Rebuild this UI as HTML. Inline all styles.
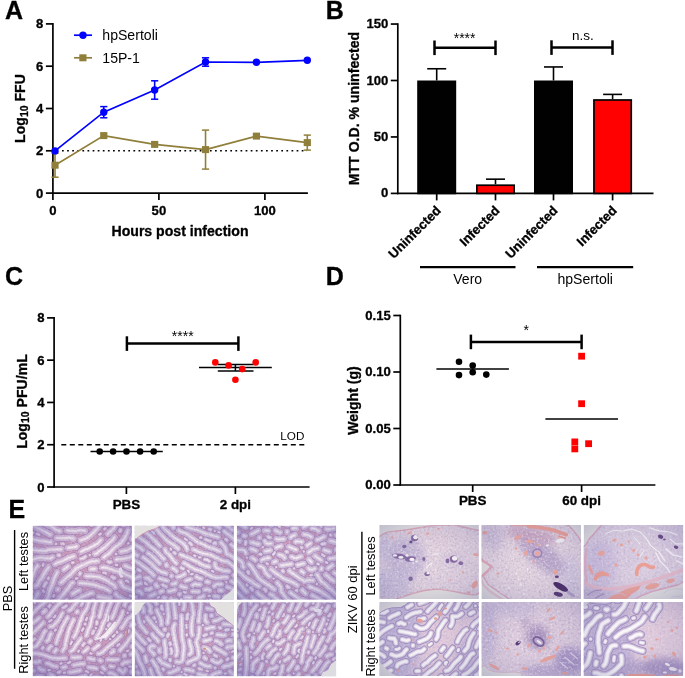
<!DOCTYPE html>
<html><head><meta charset="utf-8"><title>Figure</title>
<style>
html,body{margin:0;padding:0;background:#fff;}
body{width:685px;height:678px;overflow:hidden;}
svg{display:block;font-family:"Liberation Sans",sans-serif;}
</style></head><body>
<svg width="685" height="678" viewBox="0 0 685 678">
<rect width="685" height="678" fill="#fff"/>
<defs><clipPath id="tc"><rect width="99.2" height="74.1"/></clipPath><filter id="bl3" x="-20%" y="-20%" width="140%" height="140%"><feGaussianBlur stdDeviation="3.5"/></filter><filter id="bl05" x="-20%" y="-20%" width="140%" height="140%"><feGaussianBlur stdDeviation="0.5"/></filter><filter id="bl08" x="-20%" y="-20%" width="140%" height="140%"><feGaussianBlur stdDeviation="0.7"/></filter><radialGradient id="vR" cx="0.5" cy="0.48" r="0.72"><stop offset="0.25" stop-color="#62609a" stop-opacity="0.0"/><stop offset="0.65" stop-color="#62609a" stop-opacity="0.114"/><stop offset="1" stop-color="#62609a" stop-opacity="0.3"/></radialGradient><filter id="gp11" x="0" y="0" width="100%" height="100%" color-interpolation-filters="sRGB"><feTurbulence type="fractalNoise" baseFrequency="0.5" numOctaves="2" seed="21" result="n"/><feColorMatrix in="n" values="0 0 0 0 0.98  0 0 0 0 0.95  0 0 0 0 0.97  0.9 0 0 0 -0.450" result="a"/><feColorMatrix in="n" values="0 0 0 0 0.55  0 0 0 0 0.38  0 0 0 0 0.62  0 -0.45 0 0 0.225" result="b"/><feMerge><feMergeNode in="b"/><feMergeNode in="a"/></feMerge></filter><radialGradient id="v11" cx="0.55" cy="0.42" r="0.78"><stop offset="0.25" stop-color="#625aa6" stop-opacity="0.0"/><stop offset="0.65" stop-color="#625aa6" stop-opacity="0.198"/><stop offset="1" stop-color="#625aa6" stop-opacity="0.52"/></radialGradient><filter id="gp21" x="0" y="0" width="100%" height="100%" color-interpolation-filters="sRGB"><feTurbulence type="fractalNoise" baseFrequency="0.5" numOctaves="2" seed="22" result="n"/><feColorMatrix in="n" values="0 0 0 0 0.98  0 0 0 0 0.95  0 0 0 0 0.97  0.9 0 0 0 -0.450" result="a"/><feColorMatrix in="n" values="0 0 0 0 0.55  0 0 0 0 0.38  0 0 0 0 0.62  0 -0.45 0 0 0.225" result="b"/><feMerge><feMergeNode in="b"/><feMergeNode in="a"/></feMerge></filter><radialGradient id="v21" cx="0.55" cy="0.42" r="0.8"><stop offset="0.25" stop-color="#625aa6" stop-opacity="0.0"/><stop offset="0.65" stop-color="#625aa6" stop-opacity="0.198"/><stop offset="1" stop-color="#625aa6" stop-opacity="0.52"/></radialGradient><filter id="gp12" x="0" y="0" width="100%" height="100%" color-interpolation-filters="sRGB"><feTurbulence type="fractalNoise" baseFrequency="0.5" numOctaves="2" seed="23" result="n"/><feColorMatrix in="n" values="0 0 0 0 0.98  0 0 0 0 0.95  0 0 0 0 0.97  0.9 0 0 0 -0.450" result="a"/><feColorMatrix in="n" values="0 0 0 0 0.55  0 0 0 0 0.38  0 0 0 0 0.62  0 -0.45 0 0 0.225" result="b"/><feMerge><feMergeNode in="b"/><feMergeNode in="a"/></feMerge></filter><radialGradient id="v12" cx="0.55" cy="0.45" r="0.8"><stop offset="0.25" stop-color="#625aa6" stop-opacity="0.0"/><stop offset="0.65" stop-color="#625aa6" stop-opacity="0.198"/><stop offset="1" stop-color="#625aa6" stop-opacity="0.52"/></radialGradient><filter id="gp22" x="0" y="0" width="100%" height="100%" color-interpolation-filters="sRGB"><feTurbulence type="fractalNoise" baseFrequency="0.5" numOctaves="2" seed="24" result="n"/><feColorMatrix in="n" values="0 0 0 0 0.98  0 0 0 0 0.95  0 0 0 0 0.97  0.9 0 0 0 -0.450" result="a"/><feColorMatrix in="n" values="0 0 0 0 0.55  0 0 0 0 0.38  0 0 0 0 0.62  0 -0.45 0 0 0.225" result="b"/><feMerge><feMergeNode in="b"/><feMergeNode in="a"/></feMerge></filter><radialGradient id="v22" cx="0.55" cy="0.5" r="0.8"><stop offset="0.25" stop-color="#625aa6" stop-opacity="0.0"/><stop offset="0.65" stop-color="#625aa6" stop-opacity="0.198"/><stop offset="1" stop-color="#625aa6" stop-opacity="0.52"/></radialGradient><filter id="gp13" x="0" y="0" width="100%" height="100%" color-interpolation-filters="sRGB"><feTurbulence type="fractalNoise" baseFrequency="0.5" numOctaves="2" seed="25" result="n"/><feColorMatrix in="n" values="0 0 0 0 0.98  0 0 0 0 0.95  0 0 0 0 0.97  0.9 0 0 0 -0.450" result="a"/><feColorMatrix in="n" values="0 0 0 0 0.55  0 0 0 0 0.38  0 0 0 0 0.62  0 -0.45 0 0 0.225" result="b"/><feMerge><feMergeNode in="b"/><feMergeNode in="a"/></feMerge></filter><radialGradient id="v13" cx="0.55" cy="0.42" r="0.8"><stop offset="0.25" stop-color="#625aa6" stop-opacity="0.0"/><stop offset="0.65" stop-color="#625aa6" stop-opacity="0.198"/><stop offset="1" stop-color="#625aa6" stop-opacity="0.52"/></radialGradient><filter id="gp23" x="0" y="0" width="100%" height="100%" color-interpolation-filters="sRGB"><feTurbulence type="fractalNoise" baseFrequency="0.5" numOctaves="2" seed="26" result="n"/><feColorMatrix in="n" values="0 0 0 0 0.98  0 0 0 0 0.95  0 0 0 0 0.97  0.9 0 0 0 -0.450" result="a"/><feColorMatrix in="n" values="0 0 0 0 0.55  0 0 0 0 0.38  0 0 0 0 0.62  0 -0.45 0 0 0.225" result="b"/><feMerge><feMergeNode in="b"/><feMergeNode in="a"/></feMerge></filter><radialGradient id="v23" cx="0.55" cy="0.45" r="0.8"><stop offset="0.25" stop-color="#625aa6" stop-opacity="0.0"/><stop offset="0.65" stop-color="#625aa6" stop-opacity="0.198"/><stop offset="1" stop-color="#625aa6" stop-opacity="0.52"/></radialGradient><clipPath id="c11"><path d="M-1 12.5 L4 9 9 7 18 6 28 4.8 38 3 48 1.6 59 0 75 0 84 2.2 92 4 101 5.8 101 67 97 69.5 93.5 69.8 87 69.2 75 66.5 66 65 59 64.2 50 64.8 43.5 65.8 35 68 28 70.4 20 73 15 75 -1 75Z"/></clipPath><filter id="g11" x="0" y="0" width="100%" height="100%" color-interpolation-filters="sRGB"><feTurbulence type="fractalNoise" baseFrequency="0.45" numOctaves="2" seed="3" result="n"/><feColorMatrix in="n" values="0 0 0 0 0.98  0 0 0 0 0.96  0 0 0 0 0.98  1.5 0 0 0 -0.750" result="a"/><feColorMatrix in="n" values="0 0 0 0 0.5  0 0 0 0 0.42  0 0 0 0 0.68  0 -0.75 0 0 0.375" result="b"/><feMerge><feMergeNode in="b"/><feMergeNode in="a"/></feMerge></filter><filter id="g21" x="0" y="0" width="100%" height="100%" color-interpolation-filters="sRGB"><feTurbulence type="fractalNoise" baseFrequency="0.45" numOctaves="2" seed="9" result="n"/><feColorMatrix in="n" values="0 0 0 0 0.98  0 0 0 0 0.96  0 0 0 0 0.98  1.0 0 0 0 -0.500" result="a"/><feColorMatrix in="n" values="0 0 0 0 0.5  0 0 0 0 0.42  0 0 0 0 0.68  0 -0.5 0 0 0.250" result="b"/><feMerge><feMergeNode in="b"/><feMergeNode in="a"/></feMerge></filter><clipPath id="c12"><path d="M-1 -1 L85 -1 91 4.8 97 12.6 101 20 101 75 29 75 17.5 67.3 6.5 59.5 1.5 51 6 46.5 10.4 41.5 5 37.5 -1 34Z"/></clipPath><filter id="g12" x="0" y="0" width="100%" height="100%" color-interpolation-filters="sRGB"><feTurbulence type="fractalNoise" baseFrequency="0.45" numOctaves="2" seed="5" result="n"/><feColorMatrix in="n" values="0 0 0 0 0.98  0 0 0 0 0.96  0 0 0 0 0.98  1.5 0 0 0 -0.750" result="a"/><feColorMatrix in="n" values="0 0 0 0 0.5  0 0 0 0 0.42  0 0 0 0 0.68  0 -0.75 0 0 0.375" result="b"/><feMerge><feMergeNode in="b"/><feMergeNode in="a"/></feMerge></filter><filter id="g22" x="0" y="0" width="100%" height="100%" color-interpolation-filters="sRGB"><feTurbulence type="fractalNoise" baseFrequency="0.45" numOctaves="2" seed="11" result="n"/><feColorMatrix in="n" values="0 0 0 0 0.98  0 0 0 0 0.96  0 0 0 0 0.98  1.5 0 0 0 -0.750" result="a"/><feColorMatrix in="n" values="0 0 0 0 0.5  0 0 0 0 0.42  0 0 0 0 0.68  0 -0.75 0 0 0.375" result="b"/><feMerge><feMergeNode in="b"/><feMergeNode in="a"/></feMerge></filter><clipPath id="c13"><path d="M19.2 -1 L101 -1 101 56 94 60 82 63 68 66.5 58 70.5 50 75 -1 75 -1 22.3 2.3 20 5.5 14 10 9.3 14 4.5Z"/></clipPath><filter id="g13" x="0" y="0" width="100%" height="100%" color-interpolation-filters="sRGB"><feTurbulence type="fractalNoise" baseFrequency="0.45" numOctaves="2" seed="7" result="n"/><feColorMatrix in="n" values="0 0 0 0 0.98  0 0 0 0 0.96  0 0 0 0 0.98  1.2 0 0 0 -0.600" result="a"/><feColorMatrix in="n" values="0 0 0 0 0.5  0 0 0 0 0.42  0 0 0 0 0.68  0 -0.6 0 0 0.300" result="b"/><feMerge><feMergeNode in="b"/><feMergeNode in="a"/></feMerge></filter><filter id="g23" x="0" y="0" width="100%" height="100%" color-interpolation-filters="sRGB"><feTurbulence type="fractalNoise" baseFrequency="0.45" numOctaves="2" seed="13" result="n"/><feColorMatrix in="n" values="0 0 0 0 0.98  0 0 0 0 0.96  0 0 0 0 0.98  1.0 0 0 0 -0.500" result="a"/><feColorMatrix in="n" values="0 0 0 0 0.5  0 0 0 0 0.42  0 0 0 0 0.68  0 -0.5 0 0 0.250" result="b"/><feMerge><feMergeNode in="b"/><feMergeNode in="a"/></feMerge></filter></defs>
<g transform="translate(32.7,525.7)" clip-path="url(#tc)"><g filter="url(#bl05)"><rect width="99.2" height="74.1" fill="#c998b8"/>
<g fill="none" stroke-linecap="round" stroke-linejoin="round">
<path d="M28.1 57.2L30.2 55.7L31.9 53.8L33.8 52L35.9 50.4L37.9 48.8L39.6 46.9L41.3 44.9L43.2 43.1L45.4 41.7L47.7 40.5L50 39.4L52.4 38.5L54.7 37.2L57.2 36.4L59.7 35.6L62.3 35.5L64.8 35.2M62.4 28.1L64.8 27.1L66.7 25.4L68.9 24L70.9 22.3L73 20.8L74.7 18.9L76.6 17.1L78.6 15.4L80.4 13.6L81.9 11.5M-4.7 11.8L-2.2 12.4L0.2 13.3L2.7 14.1L5.2 14.6L7.8 15.1L10.3 15.5L12.9 15.8L15.5 16.3L18.1 16.6M48 14.7L50.4 13.6L52.9 12.9L55.1 11.6L57.3 10.2L59.1 8.3L61.1 6.7L62.7 4.7L64.7 2.9L66.2 0.8L67.6 -1.4L68.6 -3.7L69.4 -6.2L70.4 -8.6L71 -9.8M-8.7 84.2L-7 82.2L-5.3 80.2L-3.3 78.6L-1.5 76.7L0.5 75.1L2.1 73.1L3.6 70.9L4.7 68.6L5.4 67.5M-10 23L-7.4 23.3L-4.8 23.5L-2.3 24L0.3 24.1L2.9 24.6L5.4 24.9L8 25L10.6 25.2L13.2 25.1L15.6 24.2L18.2 23.9L20.8 23.9L23.4 23.7L26 23.5L28.6 23.5M45 84L47.6 84.2L50.2 83.7L52.6 82.9L55.2 82.5L57.8 82.2L60.4 81.8L62.8 81L65.3 80.3L67.9 80.3L70.5 80.4L73.1 80.4L75.7 80.3L78.3 80.2L80.9 80.1L83.5 80.3L86 80.7M48.5 25.9L50.7 24.7L53.1 23.7L55.6 22.9L57.8 21.6L60.2 20.5L62.4 19.2L64.6 17.9L66.5 16.1L68.2 14.1M-10.1 69.9L-9.5 67.4L-8.3 65.1L-7 62.9L-6.1 60.5L-4.7 58.2L-3.1 56.3L-1.4 54.3L-0.6 51.8L0.2 49.3L1.3 47L2 44.5L3.2 42.1L4.8 40.1M47.1 57.4L49.7 57.6L52.3 57.8L54.9 57.9L57.4 58.5L60 58.8L62.5 59.5L65 60.2L67.4 61.2L69.9 61.8L72.3 62.8L74.7 63.9L76.8 65.4M71.1 31.8L72.9 30L75.2 28.7L77.2 27L78.9 25.1L80.6 23.1L82.4 21.3L84.6 19.9L86.7 18.3L88.7 16.7L90.3 14.7L91.8 12.6L93 10.2L94.2 8L95 5.5L95.6 4.3M83.3 68.6L85 70.6L87.4 71.6L89.6 73L91.8 74.3L94.3 75.1L96.8 75.9L99.3 76.3L100.6 76.7M20.3 84.1L22.9 84.3L25.5 84.3L28.1 84.2L30.7 84.2L32.9 82.9L34.7 81.1L36.7 79.4L38.8 77.8L40.9 76.3L42.8 74.6L45.1 73.4L47.5 72.3L49.7 70.9L52.1 70.1L54.6 69.2L56.9 68L59.4 67.3M69.3 41.9L71.9 41.7L74.4 42.3L76.9 43.1L79.4 43.8L81.7 45L84.2 45.4L86.7 46.1L89.2 46.8L91.6 47.8L93.9 49.1L96.3 50.2L98.6 51.3L100.9 52.5L103.3 53.3L105.9 53.7L108.4 54.3M3 83.4L5.3 82.2L7.3 80.6L9.4 79.1L11.1 77.1L12.8 75.1L14.4 73.1L15.5 70.7L16 68.2L16.7 65.7L17.5 63.2L18.6 60.9L19.6 58.5L20.5 56L21.2 53.5L22.3 51.2L23.3 48.8L24.6 46.5M22.2 38.4L24.5 37L27 36.3L29.4 35.4L31.7 34.3L34.1 33.1L36.4 32L38.8 31.2L41.3 30.3M25.6 -3.4L28.1 -3L30.7 -2.7L33.3 -2.5L35.9 -2.4L38.5 -2.4L41.1 -2.8L43.7 -2.8L46.3 -2.7L48.8 -2.6L51.4 -2.5M83.6 33.7L86.2 33.5L88.8 33.3L91.3 33L93.9 32.5L96.4 32L98.8 30.9L101 29.6L103.4 28.6L105.8 27.6L108.2 26.6L109.3 25.9M-9.8 38L-7.4 37L-5 36.1L-2.8 34.8L-0.3 34L2.2 33.2L4.7 32.5L7.2 32L9.8 32.2L12.4 32.6L15 32.5L17.5 32.9L19.7 31.4M-10.1 -5.3L-7.9 -4L-5.6 -2.7L-3.2 -1.6L-1 -0.3L1.4 0.8L3.7 2L6.1 3L8.5 4L10.7 5.3L13.1 6.3L15.3 7.7L17.6 8.8M2.9 60.5L5 59L6.1 56.6L7.3 54.4L8.9 52.4L10.3 50.2L11.4 47.8L12.9 45.8L14.3 43.6L15.9 41.6M75.3 8.3L77 6.2L79 4.6L80.9 2.9L82.1 0.6L83.2 -1.8L84 -4.2L85 -6.6L85.7 -9.1M53.5 50.3L56.1 50.6L58.6 50.6L61.2 50.8L63.8 50.9L66.4 51.3L68.7 52.5L71.2 53.3L73.5 54.6L75.7 55.9L77.8 57.4L80.1 58.6L82 60.3L82.6 61.5M0.6 -10.1L2.9 -8.9L5 -7.4L7 -5.7L9.2 -4.3L11.3 -2.7L13.4 -1.3L15.9 -0.5L18.3 0.4L20.5 1.8L22.4 3.5L24.8 4.6L27.3 5.3M21.9 76.5L24.4 76L26 74L27.5 71.9L29.3 70L31 68.1L32.5 66L34.2 64L35.9 62L37.2 59.8L38.7 57.7L39.9 57.1M87.9 56.3L89.1 58.6L90.5 60.9L92.6 62.2L95.1 63L97.5 63.8L100 64.8L102.3 66L104.8 66.3L107.4 66.6L108.7 66.8M92.5 40.1L94.9 41.1L97.2 42.2L99.8 42.6L102.4 42.8L104.9 42.3L107.5 42.2L108.8 42.1M35.4 22.2L37.9 21.8L40.5 21.4L42.9 21.3L43.9 20.4M66.1 71L68.6 71.7L71.2 71.9L73.7 72.1L76.2 72.7L77.5 72.6M90.8 -1.5L93.2 -2.3L95.7 -2.8L98.1 -3.6L99.7 -5.7L101 -7.9L102.4 -10L105 -9.8L107.6 -10.2L108.8 -9.8M24 12.2L26.5 12.4L29.1 12.4L31.7 12.3L34.3 12.2L36.9 12.1L39.5 12.5L40.7 12.9M58.9 -1.8L60.4 -4L61.5 -6.4L62.2 -8.9L62.9 -10M88.4 25.9L90.7 25.4L93.2 24.8L95.7 24.2L97.8 22.6L100.2 21.7L102.4 20.4L104.3 18.6L106.5 17.1L108.9 16.1L109 13.6L109.3 11L109.1 8.5L109.3 5.9L109.4 4.6M-9.3 52.7L-9.9 50.2L-9.2 48L-7.2 46.3L-5.3 44.6M39.8 68.2L42.1 67L44 65.3L46.5 64.7M99.3 13.3L100.6 11.2L101.8 9.2L101.9 7.9M34.4 4.7L36.9 5.1L39.5 5L42.1 5.4L44.6 5L47.1 4.5L49.7 4.7L52.2 5.1M31.2 43.9L33.2 42.2L35.3 40.7M58.3 43.5L60.8 43.1L62.1 43.3M25.1 63.7h.01M75.7 -2.2L76 -3.5L76.7 -4.6M104.8 -0.7L106.5 -2.6L109 -2.6M-10.2 5.8L-8 4.8L-6.7 4.9" stroke="#a784b4" stroke-width="7.7"/>
<path d="M79.5 51.2L80.6 52L81.8 52.4M75.7 36L76.8 36.7L78.1 36.3M11.5 60.6L12.4 58.2L13.2 57.1M59.7 74.8L61 74.5M48.1 33.2L50.6 32.6L52.6 31M-2.3 68.3L-1.7 67.1L-0.9 66.1M87.5 5.5L87.8 4.3M46.9 48.6L47.7 47.5M102.3 35.9L104.8 35.3L106 35.1M33.9 73.9h.01M25.5 29.6L26.8 29.7M52.9 76.4L54.2 76.4" stroke="#a784b4" stroke-width="5.8"/>
<path d="M10.9 66.2L10.4 65M93.3 55L94.6 55.2L95.5 56.2M70.7 47.1L72 47L73.2 47.6M95.5 17.6h.01M43.3 52.9L44.6 52.6M10.3 39.8L10.6 38.5M97.2 69.9L98.3 70.5L99.6 70.9M15.6 53.3L15.9 52M39.4 37L40.7 36.8M4.1 8.2L5.4 8.4L6.5 9.1M28.8 18.1L30 17.8L31.2 18.4M20.8 70.8L21.4 69.7M71.8 3.3L72.7 2.4M100.8 58.8L101.9 59.5L103.1 59.9M66.9 8.8L67.9 8M57.1 29.4h.01M-0.8 6.5L0.3 7.2M83.2 39.2L84.5 39.3M83.5 28.4h.01M23.3 18.2h.01" stroke="#a784b4" stroke-width="4.3"/>
<path d="M28.1 57.2L30.2 55.7L31.9 53.8L33.8 52L35.9 50.4L37.9 48.8L39.6 46.9L41.3 44.9L43.2 43.1L45.4 41.7L47.7 40.5L50 39.4L52.4 38.5L54.7 37.2L57.2 36.4L59.7 35.6L62.3 35.5L64.8 35.2M62.4 28.1L64.8 27.1L66.7 25.4L68.9 24L70.9 22.3L73 20.8L74.7 18.9L76.6 17.1L78.6 15.4L80.4 13.6L81.9 11.5M-4.7 11.8L-2.2 12.4L0.2 13.3L2.7 14.1L5.2 14.6L7.8 15.1L10.3 15.5L12.9 15.8L15.5 16.3L18.1 16.6M48 14.7L50.4 13.6L52.9 12.9L55.1 11.6L57.3 10.2L59.1 8.3L61.1 6.7L62.7 4.7L64.7 2.9L66.2 0.8L67.6 -1.4L68.6 -3.7L69.4 -6.2L70.4 -8.6L71 -9.8M-8.7 84.2L-7 82.2L-5.3 80.2L-3.3 78.6L-1.5 76.7L0.5 75.1L2.1 73.1L3.6 70.9L4.7 68.6L5.4 67.5M-10 23L-7.4 23.3L-4.8 23.5L-2.3 24L0.3 24.1L2.9 24.6L5.4 24.9L8 25L10.6 25.2L13.2 25.1L15.6 24.2L18.2 23.9L20.8 23.9L23.4 23.7L26 23.5L28.6 23.5M45 84L47.6 84.2L50.2 83.7L52.6 82.9L55.2 82.5L57.8 82.2L60.4 81.8L62.8 81L65.3 80.3L67.9 80.3L70.5 80.4L73.1 80.4L75.7 80.3L78.3 80.2L80.9 80.1L83.5 80.3L86 80.7M48.5 25.9L50.7 24.7L53.1 23.7L55.6 22.9L57.8 21.6L60.2 20.5L62.4 19.2L64.6 17.9L66.5 16.1L68.2 14.1M-10.1 69.9L-9.5 67.4L-8.3 65.1L-7 62.9L-6.1 60.5L-4.7 58.2L-3.1 56.3L-1.4 54.3L-0.6 51.8L0.2 49.3L1.3 47L2 44.5L3.2 42.1L4.8 40.1M47.1 57.4L49.7 57.6L52.3 57.8L54.9 57.9L57.4 58.5L60 58.8L62.5 59.5L65 60.2L67.4 61.2L69.9 61.8L72.3 62.8L74.7 63.9L76.8 65.4M71.1 31.8L72.9 30L75.2 28.7L77.2 27L78.9 25.1L80.6 23.1L82.4 21.3L84.6 19.9L86.7 18.3L88.7 16.7L90.3 14.7L91.8 12.6L93 10.2L94.2 8L95 5.5L95.6 4.3M83.3 68.6L85 70.6L87.4 71.6L89.6 73L91.8 74.3L94.3 75.1L96.8 75.9L99.3 76.3L100.6 76.7M20.3 84.1L22.9 84.3L25.5 84.3L28.1 84.2L30.7 84.2L32.9 82.9L34.7 81.1L36.7 79.4L38.8 77.8L40.9 76.3L42.8 74.6L45.1 73.4L47.5 72.3L49.7 70.9L52.1 70.1L54.6 69.2L56.9 68L59.4 67.3M69.3 41.9L71.9 41.7L74.4 42.3L76.9 43.1L79.4 43.8L81.7 45L84.2 45.4L86.7 46.1L89.2 46.8L91.6 47.8L93.9 49.1L96.3 50.2L98.6 51.3L100.9 52.5L103.3 53.3L105.9 53.7L108.4 54.3M3 83.4L5.3 82.2L7.3 80.6L9.4 79.1L11.1 77.1L12.8 75.1L14.4 73.1L15.5 70.7L16 68.2L16.7 65.7L17.5 63.2L18.6 60.9L19.6 58.5L20.5 56L21.2 53.5L22.3 51.2L23.3 48.8L24.6 46.5M22.2 38.4L24.5 37L27 36.3L29.4 35.4L31.7 34.3L34.1 33.1L36.4 32L38.8 31.2L41.3 30.3M25.6 -3.4L28.1 -3L30.7 -2.7L33.3 -2.5L35.9 -2.4L38.5 -2.4L41.1 -2.8L43.7 -2.8L46.3 -2.7L48.8 -2.6L51.4 -2.5M83.6 33.7L86.2 33.5L88.8 33.3L91.3 33L93.9 32.5L96.4 32L98.8 30.9L101 29.6L103.4 28.6L105.8 27.6L108.2 26.6L109.3 25.9M-9.8 38L-7.4 37L-5 36.1L-2.8 34.8L-0.3 34L2.2 33.2L4.7 32.5L7.2 32L9.8 32.2L12.4 32.6L15 32.5L17.5 32.9L19.7 31.4M-10.1 -5.3L-7.9 -4L-5.6 -2.7L-3.2 -1.6L-1 -0.3L1.4 0.8L3.7 2L6.1 3L8.5 4L10.7 5.3L13.1 6.3L15.3 7.7L17.6 8.8M2.9 60.5L5 59L6.1 56.6L7.3 54.4L8.9 52.4L10.3 50.2L11.4 47.8L12.9 45.8L14.3 43.6L15.9 41.6M75.3 8.3L77 6.2L79 4.6L80.9 2.9L82.1 0.6L83.2 -1.8L84 -4.2L85 -6.6L85.7 -9.1M53.5 50.3L56.1 50.6L58.6 50.6L61.2 50.8L63.8 50.9L66.4 51.3L68.7 52.5L71.2 53.3L73.5 54.6L75.7 55.9L77.8 57.4L80.1 58.6L82 60.3L82.6 61.5M0.6 -10.1L2.9 -8.9L5 -7.4L7 -5.7L9.2 -4.3L11.3 -2.7L13.4 -1.3L15.9 -0.5L18.3 0.4L20.5 1.8L22.4 3.5L24.8 4.6L27.3 5.3M21.9 76.5L24.4 76L26 74L27.5 71.9L29.3 70L31 68.1L32.5 66L34.2 64L35.9 62L37.2 59.8L38.7 57.7L39.9 57.1M87.9 56.3L89.1 58.6L90.5 60.9L92.6 62.2L95.1 63L97.5 63.8L100 64.8L102.3 66L104.8 66.3L107.4 66.6L108.7 66.8M92.5 40.1L94.9 41.1L97.2 42.2L99.8 42.6L102.4 42.8L104.9 42.3L107.5 42.2L108.8 42.1M35.4 22.2L37.9 21.8L40.5 21.4L42.9 21.3L43.9 20.4M66.1 71L68.6 71.7L71.2 71.9L73.7 72.1L76.2 72.7L77.5 72.6M90.8 -1.5L93.2 -2.3L95.7 -2.8L98.1 -3.6L99.7 -5.7L101 -7.9L102.4 -10L105 -9.8L107.6 -10.2L108.8 -9.8M24 12.2L26.5 12.4L29.1 12.4L31.7 12.3L34.3 12.2L36.9 12.1L39.5 12.5L40.7 12.9M58.9 -1.8L60.4 -4L61.5 -6.4L62.2 -8.9L62.9 -10M88.4 25.9L90.7 25.4L93.2 24.8L95.7 24.2L97.8 22.6L100.2 21.7L102.4 20.4L104.3 18.6L106.5 17.1L108.9 16.1L109 13.6L109.3 11L109.1 8.5L109.3 5.9L109.4 4.6M-9.3 52.7L-9.9 50.2L-9.2 48L-7.2 46.3L-5.3 44.6M39.8 68.2L42.1 67L44 65.3L46.5 64.7M99.3 13.3L100.6 11.2L101.8 9.2L101.9 7.9M34.4 4.7L36.9 5.1L39.5 5L42.1 5.4L44.6 5L47.1 4.5L49.7 4.7L52.2 5.1M31.2 43.9L33.2 42.2L35.3 40.7M58.3 43.5L60.8 43.1L62.1 43.3M25.1 63.7h.01M75.7 -2.2L76 -3.5L76.7 -4.6M104.8 -0.7L106.5 -2.6L109 -2.6M-10.2 5.8L-8 4.8L-6.7 4.9" stroke="#d2b6d4" stroke-width="6.5"/>
<path d="M79.5 51.2L80.6 52L81.8 52.4M75.7 36L76.8 36.7L78.1 36.3M11.5 60.6L12.4 58.2L13.2 57.1M59.7 74.8L61 74.5M48.1 33.2L50.6 32.6L52.6 31M-2.3 68.3L-1.7 67.1L-0.9 66.1M87.5 5.5L87.8 4.3M46.9 48.6L47.7 47.5M102.3 35.9L104.8 35.3L106 35.1M33.9 73.9h.01M25.5 29.6L26.8 29.7M52.9 76.4L54.2 76.4" stroke="#d2b6d4" stroke-width="4.6"/>
<path d="M10.9 66.2L10.4 65M93.3 55L94.6 55.2L95.5 56.2M70.7 47.1L72 47L73.2 47.6M95.5 17.6h.01M43.3 52.9L44.6 52.6M10.3 39.8L10.6 38.5M97.2 69.9L98.3 70.5L99.6 70.9M15.6 53.3L15.9 52M39.4 37L40.7 36.8M4.1 8.2L5.4 8.4L6.5 9.1M28.8 18.1L30 17.8L31.2 18.4M20.8 70.8L21.4 69.7M71.8 3.3L72.7 2.4M100.8 58.8L101.9 59.5L103.1 59.9M66.9 8.8L67.9 8M57.1 29.4h.01M-0.8 6.5L0.3 7.2M83.2 39.2L84.5 39.3M83.5 28.4h.01M23.3 18.2h.01" stroke="#d2b6d4" stroke-width="3.1"/>
<g filter="url(#bl08)">
<path d="M28.1 57.2L30.2 55.7L31.9 53.8L33.8 52L35.9 50.4L37.9 48.8L39.6 46.9L41.3 44.9L43.2 43.1L45.4 41.7L47.7 40.5L50 39.4L52.4 38.5L54.7 37.2L57.2 36.4L59.7 35.6L62.3 35.5L64.8 35.2M62.4 28.1L64.8 27.1L66.7 25.4L68.9 24L70.9 22.3L73 20.8L74.7 18.9L76.6 17.1L78.6 15.4L80.4 13.6L81.9 11.5M-4.7 11.8L-2.2 12.4L0.2 13.3L2.7 14.1L5.2 14.6L7.8 15.1L10.3 15.5L12.9 15.8L15.5 16.3L18.1 16.6M48 14.7L50.4 13.6L52.9 12.9L55.1 11.6L57.3 10.2L59.1 8.3L61.1 6.7L62.7 4.7L64.7 2.9L66.2 0.8L67.6 -1.4L68.6 -3.7L69.4 -6.2L70.4 -8.6L71 -9.8M-8.7 84.2L-7 82.2L-5.3 80.2L-3.3 78.6L-1.5 76.7L0.5 75.1L2.1 73.1L3.6 70.9L4.7 68.6L5.4 67.5M-10 23L-7.4 23.3L-4.8 23.5L-2.3 24L0.3 24.1L2.9 24.6L5.4 24.9L8 25L10.6 25.2L13.2 25.1L15.6 24.2L18.2 23.9L20.8 23.9L23.4 23.7L26 23.5L28.6 23.5M45 84L47.6 84.2L50.2 83.7L52.6 82.9L55.2 82.5L57.8 82.2L60.4 81.8L62.8 81L65.3 80.3L67.9 80.3L70.5 80.4L73.1 80.4L75.7 80.3L78.3 80.2L80.9 80.1L83.5 80.3L86 80.7M48.5 25.9L50.7 24.7L53.1 23.7L55.6 22.9L57.8 21.6L60.2 20.5L62.4 19.2L64.6 17.9L66.5 16.1L68.2 14.1M-10.1 69.9L-9.5 67.4L-8.3 65.1L-7 62.9L-6.1 60.5L-4.7 58.2L-3.1 56.3L-1.4 54.3L-0.6 51.8L0.2 49.3L1.3 47L2 44.5L3.2 42.1L4.8 40.1M47.1 57.4L49.7 57.6L52.3 57.8L54.9 57.9L57.4 58.5L60 58.8L62.5 59.5L65 60.2L67.4 61.2L69.9 61.8L72.3 62.8L74.7 63.9L76.8 65.4M71.1 31.8L72.9 30L75.2 28.7L77.2 27L78.9 25.1L80.6 23.1L82.4 21.3L84.6 19.9L86.7 18.3L88.7 16.7L90.3 14.7L91.8 12.6L93 10.2L94.2 8L95 5.5L95.6 4.3M83.3 68.6L85 70.6L87.4 71.6L89.6 73L91.8 74.3L94.3 75.1L96.8 75.9L99.3 76.3L100.6 76.7M20.3 84.1L22.9 84.3L25.5 84.3L28.1 84.2L30.7 84.2L32.9 82.9L34.7 81.1L36.7 79.4L38.8 77.8L40.9 76.3L42.8 74.6L45.1 73.4L47.5 72.3L49.7 70.9L52.1 70.1L54.6 69.2L56.9 68L59.4 67.3M69.3 41.9L71.9 41.7L74.4 42.3L76.9 43.1L79.4 43.8L81.7 45L84.2 45.4L86.7 46.1L89.2 46.8L91.6 47.8L93.9 49.1L96.3 50.2L98.6 51.3L100.9 52.5L103.3 53.3L105.9 53.7L108.4 54.3M3 83.4L5.3 82.2L7.3 80.6L9.4 79.1L11.1 77.1L12.8 75.1L14.4 73.1L15.5 70.7L16 68.2L16.7 65.7L17.5 63.2L18.6 60.9L19.6 58.5L20.5 56L21.2 53.5L22.3 51.2L23.3 48.8L24.6 46.5M22.2 38.4L24.5 37L27 36.3L29.4 35.4L31.7 34.3L34.1 33.1L36.4 32L38.8 31.2L41.3 30.3M25.6 -3.4L28.1 -3L30.7 -2.7L33.3 -2.5L35.9 -2.4L38.5 -2.4L41.1 -2.8L43.7 -2.8L46.3 -2.7L48.8 -2.6L51.4 -2.5M83.6 33.7L86.2 33.5L88.8 33.3L91.3 33L93.9 32.5L96.4 32L98.8 30.9L101 29.6L103.4 28.6L105.8 27.6L108.2 26.6L109.3 25.9M-9.8 38L-7.4 37L-5 36.1L-2.8 34.8L-0.3 34L2.2 33.2L4.7 32.5L7.2 32L9.8 32.2L12.4 32.6L15 32.5L17.5 32.9L19.7 31.4M-10.1 -5.3L-7.9 -4L-5.6 -2.7L-3.2 -1.6L-1 -0.3L1.4 0.8L3.7 2L6.1 3L8.5 4L10.7 5.3L13.1 6.3L15.3 7.7L17.6 8.8M2.9 60.5L5 59L6.1 56.6L7.3 54.4L8.9 52.4L10.3 50.2L11.4 47.8L12.9 45.8L14.3 43.6L15.9 41.6M75.3 8.3L77 6.2L79 4.6L80.9 2.9L82.1 0.6L83.2 -1.8L84 -4.2L85 -6.6L85.7 -9.1M53.5 50.3L56.1 50.6L58.6 50.6L61.2 50.8L63.8 50.9L66.4 51.3L68.7 52.5L71.2 53.3L73.5 54.6L75.7 55.9L77.8 57.4L80.1 58.6L82 60.3L82.6 61.5M0.6 -10.1L2.9 -8.9L5 -7.4L7 -5.7L9.2 -4.3L11.3 -2.7L13.4 -1.3L15.9 -0.5L18.3 0.4L20.5 1.8L22.4 3.5L24.8 4.6L27.3 5.3M21.9 76.5L24.4 76L26 74L27.5 71.9L29.3 70L31 68.1L32.5 66L34.2 64L35.9 62L37.2 59.8L38.7 57.7L39.9 57.1M87.9 56.3L89.1 58.6L90.5 60.9L92.6 62.2L95.1 63L97.5 63.8L100 64.8L102.3 66L104.8 66.3L107.4 66.6L108.7 66.8M92.5 40.1L94.9 41.1L97.2 42.2L99.8 42.6L102.4 42.8L104.9 42.3L107.5 42.2L108.8 42.1M35.4 22.2L37.9 21.8L40.5 21.4L42.9 21.3L43.9 20.4M66.1 71L68.6 71.7L71.2 71.9L73.7 72.1L76.2 72.7L77.5 72.6M90.8 -1.5L93.2 -2.3L95.7 -2.8L98.1 -3.6L99.7 -5.7L101 -7.9L102.4 -10L105 -9.8L107.6 -10.2L108.8 -9.8M24 12.2L26.5 12.4L29.1 12.4L31.7 12.3L34.3 12.2L36.9 12.1L39.5 12.5L40.7 12.9M58.9 -1.8L60.4 -4L61.5 -6.4L62.2 -8.9L62.9 -10M88.4 25.9L90.7 25.4L93.2 24.8L95.7 24.2L97.8 22.6L100.2 21.7L102.4 20.4L104.3 18.6L106.5 17.1L108.9 16.1L109 13.6L109.3 11L109.1 8.5L109.3 5.9L109.4 4.6M-9.3 52.7L-9.9 50.2L-9.2 48L-7.2 46.3L-5.3 44.6M39.8 68.2L42.1 67L44 65.3L46.5 64.7M99.3 13.3L100.6 11.2L101.8 9.2L101.9 7.9M34.4 4.7L36.9 5.1L39.5 5L42.1 5.4L44.6 5L47.1 4.5L49.7 4.7L52.2 5.1M31.2 43.9L33.2 42.2L35.3 40.7M58.3 43.5L60.8 43.1L62.1 43.3M25.1 63.7h.01M75.7 -2.2L76 -3.5L76.7 -4.6M104.8 -0.7L106.5 -2.6L109 -2.6M-10.2 5.8L-8 4.8L-6.7 4.9" stroke="#eadde9" stroke-width="2.9" opacity="0.75"/>
<path d="M79.5 51.2L80.6 52L81.8 52.4M75.7 36L76.8 36.7L78.1 36.3M11.5 60.6L12.4 58.2L13.2 57.1M59.7 74.8L61 74.5M48.1 33.2L50.6 32.6L52.6 31M-2.3 68.3L-1.7 67.1L-0.9 66.1M87.5 5.5L87.8 4.3M46.9 48.6L47.7 47.5M102.3 35.9L104.8 35.3L106 35.1M33.9 73.9h.01M25.5 29.6L26.8 29.7M52.9 76.4L54.2 76.4" stroke="#eadde9" stroke-width="2.3" opacity="0.75"/>
<path d="M10.9 66.2L10.4 65M93.3 55L94.6 55.2L95.5 56.2M70.7 47.1L72 47L73.2 47.6M95.5 17.6h.01M43.3 52.9L44.6 52.6M10.3 39.8L10.6 38.5M97.2 69.9L98.3 70.5L99.6 70.9M15.6 53.3L15.9 52M39.4 37L40.7 36.8M4.1 8.2L5.4 8.4L6.5 9.1M28.8 18.1L30 17.8L31.2 18.4M20.8 70.8L21.4 69.7M71.8 3.3L72.7 2.4M100.8 58.8L101.9 59.5L103.1 59.9M66.9 8.8L67.9 8M57.1 29.4h.01M-0.8 6.5L0.3 7.2M83.2 39.2L84.5 39.3M83.5 28.4h.01M23.3 18.2h.01" stroke="#eadde9" stroke-width="1.8" opacity="0.75"/>
<path d="M28.1 57.2L30.2 55.7L31.9 53.8L33.8 52L35.9 50.4L37.9 48.8L39.6 46.9L41.3 44.9L43.2 43.1L45.4 41.7L47.7 40.5L50 39.4L52.4 38.5L54.7 37.2L57.2 36.4L59.7 35.6L62.3 35.5L64.8 35.2M62.4 28.1L64.8 27.1L66.7 25.4L68.9 24L70.9 22.3L73 20.8L74.7 18.9L76.6 17.1L78.6 15.4L80.4 13.6L81.9 11.5M-4.7 11.8L-2.2 12.4L0.2 13.3L2.7 14.1L5.2 14.6L7.8 15.1L10.3 15.5L12.9 15.8L15.5 16.3L18.1 16.6M48 14.7L50.4 13.6L52.9 12.9L55.1 11.6L57.3 10.2L59.1 8.3L61.1 6.7L62.7 4.7L64.7 2.9L66.2 0.8L67.6 -1.4L68.6 -3.7L69.4 -6.2L70.4 -8.6L71 -9.8M-8.7 84.2L-7 82.2L-5.3 80.2L-3.3 78.6L-1.5 76.7L0.5 75.1L2.1 73.1L3.6 70.9L4.7 68.6L5.4 67.5M-10 23L-7.4 23.3L-4.8 23.5L-2.3 24L0.3 24.1L2.9 24.6L5.4 24.9L8 25L10.6 25.2L13.2 25.1L15.6 24.2L18.2 23.9L20.8 23.9L23.4 23.7L26 23.5L28.6 23.5M45 84L47.6 84.2L50.2 83.7L52.6 82.9L55.2 82.5L57.8 82.2L60.4 81.8L62.8 81L65.3 80.3L67.9 80.3L70.5 80.4L73.1 80.4L75.7 80.3L78.3 80.2L80.9 80.1L83.5 80.3L86 80.7M48.5 25.9L50.7 24.7L53.1 23.7L55.6 22.9L57.8 21.6L60.2 20.5L62.4 19.2L64.6 17.9L66.5 16.1L68.2 14.1M-10.1 69.9L-9.5 67.4L-8.3 65.1L-7 62.9L-6.1 60.5L-4.7 58.2L-3.1 56.3L-1.4 54.3L-0.6 51.8L0.2 49.3L1.3 47L2 44.5L3.2 42.1L4.8 40.1M47.1 57.4L49.7 57.6L52.3 57.8L54.9 57.9L57.4 58.5L60 58.8L62.5 59.5L65 60.2L67.4 61.2L69.9 61.8L72.3 62.8L74.7 63.9L76.8 65.4M71.1 31.8L72.9 30L75.2 28.7L77.2 27L78.9 25.1L80.6 23.1L82.4 21.3L84.6 19.9L86.7 18.3L88.7 16.7L90.3 14.7L91.8 12.6L93 10.2L94.2 8L95 5.5L95.6 4.3M83.3 68.6L85 70.6L87.4 71.6L89.6 73L91.8 74.3L94.3 75.1L96.8 75.9L99.3 76.3L100.6 76.7M20.3 84.1L22.9 84.3L25.5 84.3L28.1 84.2L30.7 84.2L32.9 82.9L34.7 81.1L36.7 79.4L38.8 77.8L40.9 76.3L42.8 74.6L45.1 73.4L47.5 72.3L49.7 70.9L52.1 70.1L54.6 69.2L56.9 68L59.4 67.3M69.3 41.9L71.9 41.7L74.4 42.3L76.9 43.1L79.4 43.8L81.7 45L84.2 45.4L86.7 46.1L89.2 46.8L91.6 47.8L93.9 49.1L96.3 50.2L98.6 51.3L100.9 52.5L103.3 53.3L105.9 53.7L108.4 54.3M3 83.4L5.3 82.2L7.3 80.6L9.4 79.1L11.1 77.1L12.8 75.1L14.4 73.1L15.5 70.7L16 68.2L16.7 65.7L17.5 63.2L18.6 60.9L19.6 58.5L20.5 56L21.2 53.5L22.3 51.2L23.3 48.8L24.6 46.5M22.2 38.4L24.5 37L27 36.3L29.4 35.4L31.7 34.3L34.1 33.1L36.4 32L38.8 31.2L41.3 30.3M25.6 -3.4L28.1 -3L30.7 -2.7L33.3 -2.5L35.9 -2.4L38.5 -2.4L41.1 -2.8L43.7 -2.8L46.3 -2.7L48.8 -2.6L51.4 -2.5M83.6 33.7L86.2 33.5L88.8 33.3L91.3 33L93.9 32.5L96.4 32L98.8 30.9L101 29.6L103.4 28.6L105.8 27.6L108.2 26.6L109.3 25.9M-9.8 38L-7.4 37L-5 36.1L-2.8 34.8L-0.3 34L2.2 33.2L4.7 32.5L7.2 32L9.8 32.2L12.4 32.6L15 32.5L17.5 32.9L19.7 31.4M-10.1 -5.3L-7.9 -4L-5.6 -2.7L-3.2 -1.6L-1 -0.3L1.4 0.8L3.7 2L6.1 3L8.5 4L10.7 5.3L13.1 6.3L15.3 7.7L17.6 8.8M2.9 60.5L5 59L6.1 56.6L7.3 54.4L8.9 52.4L10.3 50.2L11.4 47.8L12.9 45.8L14.3 43.6L15.9 41.6M75.3 8.3L77 6.2L79 4.6L80.9 2.9L82.1 0.6L83.2 -1.8L84 -4.2L85 -6.6L85.7 -9.1M53.5 50.3L56.1 50.6L58.6 50.6L61.2 50.8L63.8 50.9L66.4 51.3L68.7 52.5L71.2 53.3L73.5 54.6L75.7 55.9L77.8 57.4L80.1 58.6L82 60.3L82.6 61.5M0.6 -10.1L2.9 -8.9L5 -7.4L7 -5.7L9.2 -4.3L11.3 -2.7L13.4 -1.3L15.9 -0.5L18.3 0.4L20.5 1.8L22.4 3.5L24.8 4.6L27.3 5.3M21.9 76.5L24.4 76L26 74L27.5 71.9L29.3 70L31 68.1L32.5 66L34.2 64L35.9 62L37.2 59.8L38.7 57.7L39.9 57.1M87.9 56.3L89.1 58.6L90.5 60.9L92.6 62.2L95.1 63L97.5 63.8L100 64.8L102.3 66L104.8 66.3L107.4 66.6L108.7 66.8M92.5 40.1L94.9 41.1L97.2 42.2L99.8 42.6L102.4 42.8L104.9 42.3L107.5 42.2L108.8 42.1M35.4 22.2L37.9 21.8L40.5 21.4L42.9 21.3L43.9 20.4M66.1 71L68.6 71.7L71.2 71.9L73.7 72.1L76.2 72.7L77.5 72.6M90.8 -1.5L93.2 -2.3L95.7 -2.8L98.1 -3.6L99.7 -5.7L101 -7.9L102.4 -10L105 -9.8L107.6 -10.2L108.8 -9.8M24 12.2L26.5 12.4L29.1 12.4L31.7 12.3L34.3 12.2L36.9 12.1L39.5 12.5L40.7 12.9M58.9 -1.8L60.4 -4L61.5 -6.4L62.2 -8.9L62.9 -10M88.4 25.9L90.7 25.4L93.2 24.8L95.7 24.2L97.8 22.6L100.2 21.7L102.4 20.4L104.3 18.6L106.5 17.1L108.9 16.1L109 13.6L109.3 11L109.1 8.5L109.3 5.9L109.4 4.6M-9.3 52.7L-9.9 50.2L-9.2 48L-7.2 46.3L-5.3 44.6M39.8 68.2L42.1 67L44 65.3L46.5 64.7M99.3 13.3L100.6 11.2L101.8 9.2L101.9 7.9M34.4 4.7L36.9 5.1L39.5 5L42.1 5.4L44.6 5L47.1 4.5L49.7 4.7L52.2 5.1M31.2 43.9L33.2 42.2L35.3 40.7M58.3 43.5L60.8 43.1L62.1 43.3M25.1 63.7h.01M75.7 -2.2L76 -3.5L76.7 -4.6M104.8 -0.7L106.5 -2.6L109 -2.6M-10.2 5.8L-8 4.8L-6.7 4.9" stroke="#f4ebf1" stroke-width="1.3"/>
<path d="M79.5 51.2L80.6 52L81.8 52.4M75.7 36L76.8 36.7L78.1 36.3M11.5 60.6L12.4 58.2L13.2 57.1M59.7 74.8L61 74.5M48.1 33.2L50.6 32.6L52.6 31M-2.3 68.3L-1.7 67.1L-0.9 66.1M87.5 5.5L87.8 4.3M46.9 48.6L47.7 47.5M102.3 35.9L104.8 35.3L106 35.1M33.9 73.9h.01M25.5 29.6L26.8 29.7M52.9 76.4L54.2 76.4" stroke="#f4ebf1" stroke-width="0.7"/>
<path d="M10.9 66.2L10.4 65M93.3 55L94.6 55.2L95.5 56.2M70.7 47.1L72 47L73.2 47.6M95.5 17.6h.01M43.3 52.9L44.6 52.6M10.3 39.8L10.6 38.5M97.2 69.9L98.3 70.5L99.6 70.9M15.6 53.3L15.9 52M39.4 37L40.7 36.8M4.1 8.2L5.4 8.4L6.5 9.1M28.8 18.1L30 17.8L31.2 18.4M20.8 70.8L21.4 69.7M71.8 3.3L72.7 2.4M100.8 58.8L101.9 59.5L103.1 59.9M66.9 8.8L67.9 8M57.1 29.4h.01M-0.8 6.5L0.3 7.2M83.2 39.2L84.5 39.3M83.5 28.4h.01M23.3 18.2h.01" stroke="#f4ebf1" stroke-width="0.4"/>
</g></g>
<path d="M86 43l2.5-1.5 1.5 3-0.5 4.5 1.5 2.5-3 0.5-2-3.5z" fill="#f3eef2" />
<rect width="99.2" height="74.1" filter="url(#gp11)"/>
<rect width="99.2" height="74.1" fill="url(#v11)"/></g></g>
<g transform="translate(32.7,602.2)" clip-path="url(#tc)"><g filter="url(#bl05)"><rect width="99.2" height="74.1" fill="#c998b8"/>
<g fill="none" stroke-linecap="round" stroke-linejoin="round">
<path d="M-8.1 51.3L-5.5 50.8L-2.9 50.8L-0.3 51L2.2 51.2L4.8 51.5L7.4 52L9.9 52.5L12.3 53.4L14.9 54L17.2 55.1L19.7 55.8L22.3 56L24.9 56.1L27.5 56.3L30.1 55.9L32.7 56M-4.4 68.1L-1.9 68.6L0.7 68.6M56.1 56.1L58.6 56.8L61.2 57.1M29.9 48.8L31.4 46.7L32.3 44.3L32.7 41.7L33.2 39.2L33.9 36.7L34.5 34.2L35.2 31.7L35.7 29.1L36.6 26.7L37.7 24.4L38.8 22L39.8 19.6L40.9 17.3M90.2 77.6L92.7 76.9L95.2 76.6L97.8 76.7M-4.9 16L-2.9 14.3L-1.2 12.3L0.7 10.5L2.4 8.6L4.1 6.7L6.1 5L8.1 3.3L10.2 1.8L12 -0L14 -1.7L15.6 -3.8L17 -5.9L18.2 -8.3L20.7 -8.9L23.2 -8.7L25.8 -9L28.3 -8.7L30.9 -8.8M53.7 33.4L54.5 30.9L55.2 28.4L56.3 26.1L57.5 23.8L58 21.2L58.7 18.7L59 16.1L60.3 13.9L60.7 11.3L60.8 8.7L61.2 6.2L62 3.7L62.7 1.2L63.4 -1.3M63.6 35.6L65 33.4L66.2 31.1L67.4 28.8L68.7 26.5L69.4 24L70.2 21.6L71.4 19.3L72.7 17L73.3 14.5L73.8 11.9L74.7 9.5L75.5 7L76.5 4.6L77.4 2.2L78.6 -0.1L79.7 -2.5L80.8 -4.8M-8.9 42.6L-8.6 40L-8.8 37.5L-7.1 35.6L-4.9 34.3L-2.7 32.8L-0.6 31.4L1.5 29.8L3.4 28L5.1 26.1L7 24.4L8.8 22.4L10.6 20.6M23.6 41L24.2 38.5L25 36L25.9 33.5L26.9 31.2L28.2 28.9L29 26.4L29.9 24L31.3 21.8L32.4 19.5L33.8 17.3L35 15M87.4 48.4L88.8 46.3L90.8 44.5L92.4 42.5L94.1 40.6L95.5 38.4L97 36.2L98.6 34.2L100.3 32.2L101.8 30.1L103.4 28.1L105.1 26.1L107.2 24.6L108.2 22.4L108.1 19.8M14.2 61.2L16.8 61.8L19 63.1L21.4 64.1L23.9 64.6M72.9 35L74.6 33L76.3 31L78.2 29.2L79.8 27.2L81.3 25.1L83 23.1L84.4 20.9L86 18.9L87.2 16.6L88.5 14.3L89.4 11.9L90.1 9.4M51.1 49.6L53.2 48.1L54.9 46.1M76.7 70.9L79.3 71.2L81.6 72.3L83.8 73.6M61 46.8L63.1 45.3L65.1 43.6L66.1 42.9M75.1 57.4L77.7 57.4L80.2 57.7L82.8 57.6L85.4 57.3M2.2 75L4.6 74.1L7.1 74.3L9.7 74.6M41.2 34.9L42.5 32.6L43.7 30.3L44.6 27.9L45.4 25.4L46.3 23L46.9 20.4L48 18.1L48.7 15.6L49.6 13.2L50.9 10.9L52.5 8.9L53.9 6.6L54.8 4.2L55.5 1.8L56.5 -0.6M92.1 3L93 0.6L94 -1.8L95 -4.2L95.7 -6.7L96.9 -8.7L99.5 -8.6L102.1 -8.6L103.4 -8.8M65.5 51.5L67.9 51.1L70.2 50L71.9 48L73.7 46.2L75.7 44.5L77.7 42.9L79.8 41.3L81.7 39.5L83.7 37.9L85.6 36.1L87.4 34.3L88.3 33.3M-2.7 44.1L-0.3 44.8L2.3 44.7L4.4 43.3L5.7 41.1L7.1 38.9L8.3 36.6L9.5 34.3L10.5 31.9L11.7 29.7L12.6 28.7M90 61.8L91.9 60L94.4 60.2L96.9 59.5M15 14.5L17 12.8L18.3 10.6L20 8.7L21.7 6.7L23.3 4.7L25 2.7L27 1.1L28.9 -0.7L31.2 -1.7L33.5 -3L36 -3.9L38.2 -5.1L40.4 -6.5M56.2 65.1L58.8 65.6L61.4 65.7L63.9 66.4M98.7 69.9L101.2 69.7L103.8 69.1M98.4 52.2L100.7 51.1L103 50L105.2 48.7M39.7 55.2L42.3 55.4L44.8 55L47.4 55.1M70.3 65L71 66.1L72 66.9M-8.7 28.7L-8.3 26.1L-6.6 24.2L-4.5 22.6L-2.1 21.5L0.3 20.7L2.4 19.1L4.5 17.6L6.4 15.8M37.1 70.2L39.7 70L42.2 69.3L44.7 68.8L47.3 68.3M38.2 49.2L40.5 47.9L41.8 45.7L43 43.4L44.5 41.4L46.1 39.4L47.7 37.4L48.1 36.1M17.3 24.5L19.8 24.3L21.6 22.5L23.4 20.6L25.1 18.7L26.5 16.5L27.9 14.3L29.1 12L29.8 10.9M88.9 25.7L90.6 23.8L91.9 21.6L93.2 19.4L94.6 17.2L96.7 15.6L98.8 14.1L100.9 12.5L102.6 10.6L104.5 8.9L106.5 7.2L107.8 5L108 2.4L107.9 -0.1L107.9 -2.7L107.4 -3.9M36.4 8.3L38.5 6.9L40.1 4.9L41.7 2.8L43.5 0.9L44.9 -1.3L46.3 -3.4L48 -5.4L49.9 -7.3L52 -8.7L54.5 -8.9L57.1 -9M26.9 76L29.5 75.6L32.1 75.4L34.5 76.1L37.1 76.7M41.1 63.1L43.7 62.5L46.2 62L48.8 61.7L51.2 61.5M62.6 75.1L65.2 75.6L67.7 76.2M66.6 14.5L67.5 12L68 9.5L68.8 7L69.3 4.5L70.1 2L70.9 -0.5L71.7 -3L72.5 -5.4L73.5 -7.8L74.2 -8.9M43.8 76.3L46.3 75.9L48.8 74.9L51.3 74.4L52.5 73.9M51.6 81.1L54 80L56.6 79.6L58.9 80.7M-8.4 10.8L-8.6 8.3L-7.8 6.1L-6.1 4.1L-4.8 1.9L-3.4 -0.3L-2.3 -2.6L-0.9 -4.8L0.6 -6.9L2.4 -8.8M15.7 47.1L17 44.9L18.1 44.2M57.1 39.9L57.9 38.9M17 72.6L19.5 73.2L20.6 74M86.5 67.4L88.5 69.1L90.4 70.8L92.1 68.8L92.5 67.6M79.5 15.8L80.4 13.4L81.6 11.1L82.5 8.7L83.3 6.2L84.3 3.8L85.4 1.5L86.1 0.4M73 79.7L75.6 80.2L78.2 80.5M102.4 62.4L103.4 60L105.2 58.7L107.7 58.3M44 10.1L44.8 9M6.7 66L8.5 67.7L11 68.2M77.8 64L79 64.3L80.3 64.3M1.8 59.8L4.4 60.2L6.8 59.2M-8.6 78.1L-6.1 77.4L-3.6 77.3M99.3 44.4L101.7 43.3L103.4 41.3L104.8 39.2L106.2 37L107.7 34.8L108 32.3M30.3 65.5L31.6 65.1L32.8 64.7M101 82.3L102.9 80.5L104.9 79.1L107.4 78.2M91.8 53.5h.01M21.9 49.6L22.7 48.5L23.6 47.6M97.6 6.1L98.9 3.9L100.3 1.7L101.4 -0.3L101.3 -1.6M10.5 10L11.6 9.2L12.4 8.2M14.1 39L15.9 37.2L16.8 34.8L17.7 32.3L18.3 31.2M78.6 50.7L80.9 49.6L80.9 48.3M-8.5 61.9L-5.9 61.5L-4.6 61.3M11 81L13.3 79.9L15.8 79.8L18.3 80.1M67.3 58.1L68.4 58.8" stroke="#a784b4" stroke-width="6.9"/>
<path d="M98.4 23.7L99.4 21.3L101.8 20.3M88.8 -5.8L89.1 -7L89.2 -8.3M5.3 -2.8L7.1 -4.7L8.9 -6.5L9.5 -7.7" stroke="#a784b4" stroke-width="6.9"/>
<path d="M9.6 46.3L10.3 45.2M30.2 5.5L32.5 4.4L33.6 3.6M60 31.3L60.6 30.1L60.9 28.9M94.1 30.3L95.3 29.7L96.1 28.7M48.6 3L49.3 1.9L49.9 0.7M63.9 21.8L64.3 20.6L64.2 19.3M50.1 43.1L50.8 42L51.8 41.1M20.5 -0.5L21.8 -2.7L23.1 -3M52.4 21.9h.01M75.8 23.7L76.4 22.6L77.2 21.6M-1.3 38.6L1 37.5L2 36.7M16.5 4.1L17.2 3M25.7 70.1L27 69.7" stroke="#a784b4" stroke-width="5.2"/>
<path d="M53.2 69L54.4 69.4L55.5 70.1M22.2 28.4L23.1 27.5M27.7 61.7L28.8 61M35.3 60.6L36.6 60.6L37.6 59.7M57.8 73.1L58.9 72.3M-1.2 5.3L-0.4 4.4M72.2 74.7L73.5 74.9M68.1 69.9L69.1 70.6L70.3 71.2M57.7 51.2L58.9 51.5M31.1 70.7L32.3 70.4M80 34.3L81.2 33.7L81.9 32.6M68 38.5L68.3 37.3M94.4 49L95.6 48.4M38 42L38.4 40.7L39.2 39.7M77.4 36.9h.01M16.6 19.3L17.6 18.5L18.8 17.9M53.3 17.8L54.1 16.9L54.3 15.6M15.7 68.1L17 67.8M49.4 28.5L50 27.4L50.7 26.3M96.8 64.3L98.1 64.5M45.7 49.6L46.2 48.4M95 10.6h.01M84.4 30.6L84.3 29.3M63.3 25.8h.01M51.8 -2.7h.01M84.8 43.7L85.5 42.6L86.6 42M2.1 1h.01M73.6 27.1h.01M-2.8 55.7L-1.6 55.6M21 15.2L22.2 14.5L22.7 13.3" stroke="#a784b4" stroke-width="3.9"/>
<path d="M-8.1 51.3L-5.5 50.8L-2.9 50.8L-0.3 51L2.2 51.2L4.8 51.5L7.4 52L9.9 52.5L12.3 53.4L14.9 54L17.2 55.1L19.7 55.8L22.3 56L24.9 56.1L27.5 56.3L30.1 55.9L32.7 56M-4.4 68.1L-1.9 68.6L0.7 68.6M56.1 56.1L58.6 56.8L61.2 57.1M29.9 48.8L31.4 46.7L32.3 44.3L32.7 41.7L33.2 39.2L33.9 36.7L34.5 34.2L35.2 31.7L35.7 29.1L36.6 26.7L37.7 24.4L38.8 22L39.8 19.6L40.9 17.3M90.2 77.6L92.7 76.9L95.2 76.6L97.8 76.7M-4.9 16L-2.9 14.3L-1.2 12.3L0.7 10.5L2.4 8.6L4.1 6.7L6.1 5L8.1 3.3L10.2 1.8L12 -0L14 -1.7L15.6 -3.8L17 -5.9L18.2 -8.3L20.7 -8.9L23.2 -8.7L25.8 -9L28.3 -8.7L30.9 -8.8M53.7 33.4L54.5 30.9L55.2 28.4L56.3 26.1L57.5 23.8L58 21.2L58.7 18.7L59 16.1L60.3 13.9L60.7 11.3L60.8 8.7L61.2 6.2L62 3.7L62.7 1.2L63.4 -1.3M63.6 35.6L65 33.4L66.2 31.1L67.4 28.8L68.7 26.5L69.4 24L70.2 21.6L71.4 19.3L72.7 17L73.3 14.5L73.8 11.9L74.7 9.5L75.5 7L76.5 4.6L77.4 2.2L78.6 -0.1L79.7 -2.5L80.8 -4.8M-8.9 42.6L-8.6 40L-8.8 37.5L-7.1 35.6L-4.9 34.3L-2.7 32.8L-0.6 31.4L1.5 29.8L3.4 28L5.1 26.1L7 24.4L8.8 22.4L10.6 20.6M23.6 41L24.2 38.5L25 36L25.9 33.5L26.9 31.2L28.2 28.9L29 26.4L29.9 24L31.3 21.8L32.4 19.5L33.8 17.3L35 15M87.4 48.4L88.8 46.3L90.8 44.5L92.4 42.5L94.1 40.6L95.5 38.4L97 36.2L98.6 34.2L100.3 32.2L101.8 30.1L103.4 28.1L105.1 26.1L107.2 24.6L108.2 22.4L108.1 19.8M14.2 61.2L16.8 61.8L19 63.1L21.4 64.1L23.9 64.6M72.9 35L74.6 33L76.3 31L78.2 29.2L79.8 27.2L81.3 25.1L83 23.1L84.4 20.9L86 18.9L87.2 16.6L88.5 14.3L89.4 11.9L90.1 9.4M51.1 49.6L53.2 48.1L54.9 46.1M76.7 70.9L79.3 71.2L81.6 72.3L83.8 73.6M61 46.8L63.1 45.3L65.1 43.6L66.1 42.9M75.1 57.4L77.7 57.4L80.2 57.7L82.8 57.6L85.4 57.3M2.2 75L4.6 74.1L7.1 74.3L9.7 74.6M41.2 34.9L42.5 32.6L43.7 30.3L44.6 27.9L45.4 25.4L46.3 23L46.9 20.4L48 18.1L48.7 15.6L49.6 13.2L50.9 10.9L52.5 8.9L53.9 6.6L54.8 4.2L55.5 1.8L56.5 -0.6M92.1 3L93 0.6L94 -1.8L95 -4.2L95.7 -6.7L96.9 -8.7L99.5 -8.6L102.1 -8.6L103.4 -8.8M65.5 51.5L67.9 51.1L70.2 50L71.9 48L73.7 46.2L75.7 44.5L77.7 42.9L79.8 41.3L81.7 39.5L83.7 37.9L85.6 36.1L87.4 34.3L88.3 33.3M-2.7 44.1L-0.3 44.8L2.3 44.7L4.4 43.3L5.7 41.1L7.1 38.9L8.3 36.6L9.5 34.3L10.5 31.9L11.7 29.7L12.6 28.7M90 61.8L91.9 60L94.4 60.2L96.9 59.5M15 14.5L17 12.8L18.3 10.6L20 8.7L21.7 6.7L23.3 4.7L25 2.7L27 1.1L28.9 -0.7L31.2 -1.7L33.5 -3L36 -3.9L38.2 -5.1L40.4 -6.5M56.2 65.1L58.8 65.6L61.4 65.7L63.9 66.4M98.7 69.9L101.2 69.7L103.8 69.1M98.4 52.2L100.7 51.1L103 50L105.2 48.7M39.7 55.2L42.3 55.4L44.8 55L47.4 55.1M70.3 65L71 66.1L72 66.9M-8.7 28.7L-8.3 26.1L-6.6 24.2L-4.5 22.6L-2.1 21.5L0.3 20.7L2.4 19.1L4.5 17.6L6.4 15.8M37.1 70.2L39.7 70L42.2 69.3L44.7 68.8L47.3 68.3M38.2 49.2L40.5 47.9L41.8 45.7L43 43.4L44.5 41.4L46.1 39.4L47.7 37.4L48.1 36.1M17.3 24.5L19.8 24.3L21.6 22.5L23.4 20.6L25.1 18.7L26.5 16.5L27.9 14.3L29.1 12L29.8 10.9M88.9 25.7L90.6 23.8L91.9 21.6L93.2 19.4L94.6 17.2L96.7 15.6L98.8 14.1L100.9 12.5L102.6 10.6L104.5 8.9L106.5 7.2L107.8 5L108 2.4L107.9 -0.1L107.9 -2.7L107.4 -3.9M36.4 8.3L38.5 6.9L40.1 4.9L41.7 2.8L43.5 0.9L44.9 -1.3L46.3 -3.4L48 -5.4L49.9 -7.3L52 -8.7L54.5 -8.9L57.1 -9M26.9 76L29.5 75.6L32.1 75.4L34.5 76.1L37.1 76.7M41.1 63.1L43.7 62.5L46.2 62L48.8 61.7L51.2 61.5M62.6 75.1L65.2 75.6L67.7 76.2M66.6 14.5L67.5 12L68 9.5L68.8 7L69.3 4.5L70.1 2L70.9 -0.5L71.7 -3L72.5 -5.4L73.5 -7.8L74.2 -8.9M43.8 76.3L46.3 75.9L48.8 74.9L51.3 74.4L52.5 73.9M51.6 81.1L54 80L56.6 79.6L58.9 80.7M-8.4 10.8L-8.6 8.3L-7.8 6.1L-6.1 4.1L-4.8 1.9L-3.4 -0.3L-2.3 -2.6L-0.9 -4.8L0.6 -6.9L2.4 -8.8M15.7 47.1L17 44.9L18.1 44.2M57.1 39.9L57.9 38.9M17 72.6L19.5 73.2L20.6 74M86.5 67.4L88.5 69.1L90.4 70.8L92.1 68.8L92.5 67.6M79.5 15.8L80.4 13.4L81.6 11.1L82.5 8.7L83.3 6.2L84.3 3.8L85.4 1.5L86.1 0.4M73 79.7L75.6 80.2L78.2 80.5M102.4 62.4L103.4 60L105.2 58.7L107.7 58.3M44 10.1L44.8 9M6.7 66L8.5 67.7L11 68.2M77.8 64L79 64.3L80.3 64.3M1.8 59.8L4.4 60.2L6.8 59.2M-8.6 78.1L-6.1 77.4L-3.6 77.3M99.3 44.4L101.7 43.3L103.4 41.3L104.8 39.2L106.2 37L107.7 34.8L108 32.3M30.3 65.5L31.6 65.1L32.8 64.7M101 82.3L102.9 80.5L104.9 79.1L107.4 78.2M91.8 53.5h.01M21.9 49.6L22.7 48.5L23.6 47.6M97.6 6.1L98.9 3.9L100.3 1.7L101.4 -0.3L101.3 -1.6M10.5 10L11.6 9.2L12.4 8.2M14.1 39L15.9 37.2L16.8 34.8L17.7 32.3L18.3 31.2M78.6 50.7L80.9 49.6L80.9 48.3M-8.5 61.9L-5.9 61.5L-4.6 61.3M11 81L13.3 79.9L15.8 79.8L18.3 80.1M67.3 58.1L68.4 58.8" stroke="#d2b6d4" stroke-width="5.7"/>
<path d="M98.4 23.7L99.4 21.3L101.8 20.3M88.8 -5.8L89.1 -7L89.2 -8.3M5.3 -2.8L7.1 -4.7L8.9 -6.5L9.5 -7.7" stroke="#d2b6d4" stroke-width="5.7"/>
<path d="M9.6 46.3L10.3 45.2M30.2 5.5L32.5 4.4L33.6 3.6M60 31.3L60.6 30.1L60.9 28.9M94.1 30.3L95.3 29.7L96.1 28.7M48.6 3L49.3 1.9L49.9 0.7M63.9 21.8L64.3 20.6L64.2 19.3M50.1 43.1L50.8 42L51.8 41.1M20.5 -0.5L21.8 -2.7L23.1 -3M52.4 21.9h.01M75.8 23.7L76.4 22.6L77.2 21.6M-1.3 38.6L1 37.5L2 36.7M16.5 4.1L17.2 3M25.7 70.1L27 69.7" stroke="#d2b6d4" stroke-width="4"/>
<path d="M53.2 69L54.4 69.4L55.5 70.1M22.2 28.4L23.1 27.5M27.7 61.7L28.8 61M35.3 60.6L36.6 60.6L37.6 59.7M57.8 73.1L58.9 72.3M-1.2 5.3L-0.4 4.4M72.2 74.7L73.5 74.9M68.1 69.9L69.1 70.6L70.3 71.2M57.7 51.2L58.9 51.5M31.1 70.7L32.3 70.4M80 34.3L81.2 33.7L81.9 32.6M68 38.5L68.3 37.3M94.4 49L95.6 48.4M38 42L38.4 40.7L39.2 39.7M77.4 36.9h.01M16.6 19.3L17.6 18.5L18.8 17.9M53.3 17.8L54.1 16.9L54.3 15.6M15.7 68.1L17 67.8M49.4 28.5L50 27.4L50.7 26.3M96.8 64.3L98.1 64.5M45.7 49.6L46.2 48.4M95 10.6h.01M84.4 30.6L84.3 29.3M63.3 25.8h.01M51.8 -2.7h.01M84.8 43.7L85.5 42.6L86.6 42M2.1 1h.01M73.6 27.1h.01M-2.8 55.7L-1.6 55.6M21 15.2L22.2 14.5L22.7 13.3" stroke="#d2b6d4" stroke-width="2.7"/>
<g filter="url(#bl08)">
<path d="M-8.1 51.3L-5.5 50.8L-2.9 50.8L-0.3 51L2.2 51.2L4.8 51.5L7.4 52L9.9 52.5L12.3 53.4L14.9 54L17.2 55.1L19.7 55.8L22.3 56L24.9 56.1L27.5 56.3L30.1 55.9L32.7 56M-4.4 68.1L-1.9 68.6L0.7 68.6M56.1 56.1L58.6 56.8L61.2 57.1M29.9 48.8L31.4 46.7L32.3 44.3L32.7 41.7L33.2 39.2L33.9 36.7L34.5 34.2L35.2 31.7L35.7 29.1L36.6 26.7L37.7 24.4L38.8 22L39.8 19.6L40.9 17.3M90.2 77.6L92.7 76.9L95.2 76.6L97.8 76.7M-4.9 16L-2.9 14.3L-1.2 12.3L0.7 10.5L2.4 8.6L4.1 6.7L6.1 5L8.1 3.3L10.2 1.8L12 -0L14 -1.7L15.6 -3.8L17 -5.9L18.2 -8.3L20.7 -8.9L23.2 -8.7L25.8 -9L28.3 -8.7L30.9 -8.8M53.7 33.4L54.5 30.9L55.2 28.4L56.3 26.1L57.5 23.8L58 21.2L58.7 18.7L59 16.1L60.3 13.9L60.7 11.3L60.8 8.7L61.2 6.2L62 3.7L62.7 1.2L63.4 -1.3M63.6 35.6L65 33.4L66.2 31.1L67.4 28.8L68.7 26.5L69.4 24L70.2 21.6L71.4 19.3L72.7 17L73.3 14.5L73.8 11.9L74.7 9.5L75.5 7L76.5 4.6L77.4 2.2L78.6 -0.1L79.7 -2.5L80.8 -4.8M-8.9 42.6L-8.6 40L-8.8 37.5L-7.1 35.6L-4.9 34.3L-2.7 32.8L-0.6 31.4L1.5 29.8L3.4 28L5.1 26.1L7 24.4L8.8 22.4L10.6 20.6M23.6 41L24.2 38.5L25 36L25.9 33.5L26.9 31.2L28.2 28.9L29 26.4L29.9 24L31.3 21.8L32.4 19.5L33.8 17.3L35 15M87.4 48.4L88.8 46.3L90.8 44.5L92.4 42.5L94.1 40.6L95.5 38.4L97 36.2L98.6 34.2L100.3 32.2L101.8 30.1L103.4 28.1L105.1 26.1L107.2 24.6L108.2 22.4L108.1 19.8M14.2 61.2L16.8 61.8L19 63.1L21.4 64.1L23.9 64.6M72.9 35L74.6 33L76.3 31L78.2 29.2L79.8 27.2L81.3 25.1L83 23.1L84.4 20.9L86 18.9L87.2 16.6L88.5 14.3L89.4 11.9L90.1 9.4M51.1 49.6L53.2 48.1L54.9 46.1M76.7 70.9L79.3 71.2L81.6 72.3L83.8 73.6M61 46.8L63.1 45.3L65.1 43.6L66.1 42.9M75.1 57.4L77.7 57.4L80.2 57.7L82.8 57.6L85.4 57.3M2.2 75L4.6 74.1L7.1 74.3L9.7 74.6M41.2 34.9L42.5 32.6L43.7 30.3L44.6 27.9L45.4 25.4L46.3 23L46.9 20.4L48 18.1L48.7 15.6L49.6 13.2L50.9 10.9L52.5 8.9L53.9 6.6L54.8 4.2L55.5 1.8L56.5 -0.6M92.1 3L93 0.6L94 -1.8L95 -4.2L95.7 -6.7L96.9 -8.7L99.5 -8.6L102.1 -8.6L103.4 -8.8M65.5 51.5L67.9 51.1L70.2 50L71.9 48L73.7 46.2L75.7 44.5L77.7 42.9L79.8 41.3L81.7 39.5L83.7 37.9L85.6 36.1L87.4 34.3L88.3 33.3M-2.7 44.1L-0.3 44.8L2.3 44.7L4.4 43.3L5.7 41.1L7.1 38.9L8.3 36.6L9.5 34.3L10.5 31.9L11.7 29.7L12.6 28.7M90 61.8L91.9 60L94.4 60.2L96.9 59.5M15 14.5L17 12.8L18.3 10.6L20 8.7L21.7 6.7L23.3 4.7L25 2.7L27 1.1L28.9 -0.7L31.2 -1.7L33.5 -3L36 -3.9L38.2 -5.1L40.4 -6.5M56.2 65.1L58.8 65.6L61.4 65.7L63.9 66.4M98.7 69.9L101.2 69.7L103.8 69.1M98.4 52.2L100.7 51.1L103 50L105.2 48.7M39.7 55.2L42.3 55.4L44.8 55L47.4 55.1M70.3 65L71 66.1L72 66.9M-8.7 28.7L-8.3 26.1L-6.6 24.2L-4.5 22.6L-2.1 21.5L0.3 20.7L2.4 19.1L4.5 17.6L6.4 15.8M37.1 70.2L39.7 70L42.2 69.3L44.7 68.8L47.3 68.3M38.2 49.2L40.5 47.9L41.8 45.7L43 43.4L44.5 41.4L46.1 39.4L47.7 37.4L48.1 36.1M17.3 24.5L19.8 24.3L21.6 22.5L23.4 20.6L25.1 18.7L26.5 16.5L27.9 14.3L29.1 12L29.8 10.9M88.9 25.7L90.6 23.8L91.9 21.6L93.2 19.4L94.6 17.2L96.7 15.6L98.8 14.1L100.9 12.5L102.6 10.6L104.5 8.9L106.5 7.2L107.8 5L108 2.4L107.9 -0.1L107.9 -2.7L107.4 -3.9M36.4 8.3L38.5 6.9L40.1 4.9L41.7 2.8L43.5 0.9L44.9 -1.3L46.3 -3.4L48 -5.4L49.9 -7.3L52 -8.7L54.5 -8.9L57.1 -9M26.9 76L29.5 75.6L32.1 75.4L34.5 76.1L37.1 76.7M41.1 63.1L43.7 62.5L46.2 62L48.8 61.7L51.2 61.5M62.6 75.1L65.2 75.6L67.7 76.2M66.6 14.5L67.5 12L68 9.5L68.8 7L69.3 4.5L70.1 2L70.9 -0.5L71.7 -3L72.5 -5.4L73.5 -7.8L74.2 -8.9M43.8 76.3L46.3 75.9L48.8 74.9L51.3 74.4L52.5 73.9M51.6 81.1L54 80L56.6 79.6L58.9 80.7M-8.4 10.8L-8.6 8.3L-7.8 6.1L-6.1 4.1L-4.8 1.9L-3.4 -0.3L-2.3 -2.6L-0.9 -4.8L0.6 -6.9L2.4 -8.8M15.7 47.1L17 44.9L18.1 44.2M57.1 39.9L57.9 38.9M17 72.6L19.5 73.2L20.6 74M86.5 67.4L88.5 69.1L90.4 70.8L92.1 68.8L92.5 67.6M79.5 15.8L80.4 13.4L81.6 11.1L82.5 8.7L83.3 6.2L84.3 3.8L85.4 1.5L86.1 0.4M73 79.7L75.6 80.2L78.2 80.5M102.4 62.4L103.4 60L105.2 58.7L107.7 58.3M44 10.1L44.8 9M6.7 66L8.5 67.7L11 68.2M77.8 64L79 64.3L80.3 64.3M1.8 59.8L4.4 60.2L6.8 59.2M-8.6 78.1L-6.1 77.4L-3.6 77.3M99.3 44.4L101.7 43.3L103.4 41.3L104.8 39.2L106.2 37L107.7 34.8L108 32.3M30.3 65.5L31.6 65.1L32.8 64.7M101 82.3L102.9 80.5L104.9 79.1L107.4 78.2M91.8 53.5h.01M21.9 49.6L22.7 48.5L23.6 47.6M97.6 6.1L98.9 3.9L100.3 1.7L101.4 -0.3L101.3 -1.6M10.5 10L11.6 9.2L12.4 8.2M14.1 39L15.9 37.2L16.8 34.8L17.7 32.3L18.3 31.2M78.6 50.7L80.9 49.6L80.9 48.3M-8.5 61.9L-5.9 61.5L-4.6 61.3M11 81L13.3 79.9L15.8 79.8L18.3 80.1M67.3 58.1L68.4 58.8" stroke="#eadde9" stroke-width="2.7" opacity="0.75"/>
<path d="M98.4 23.7L99.4 21.3L101.8 20.3M88.8 -5.8L89.1 -7L89.2 -8.3M5.3 -2.8L7.1 -4.7L8.9 -6.5L9.5 -7.7" stroke="#eadde9" stroke-width="2.7" opacity="0.75"/>
<path d="M9.6 46.3L10.3 45.2M30.2 5.5L32.5 4.4L33.6 3.6M60 31.3L60.6 30.1L60.9 28.9M94.1 30.3L95.3 29.7L96.1 28.7M48.6 3L49.3 1.9L49.9 0.7M63.9 21.8L64.3 20.6L64.2 19.3M50.1 43.1L50.8 42L51.8 41.1M20.5 -0.5L21.8 -2.7L23.1 -3M52.4 21.9h.01M75.8 23.7L76.4 22.6L77.2 21.6M-1.3 38.6L1 37.5L2 36.7M16.5 4.1L17.2 3M25.7 70.1L27 69.7" stroke="#eadde9" stroke-width="2.1" opacity="0.75"/>
<path d="M53.2 69L54.4 69.4L55.5 70.1M22.2 28.4L23.1 27.5M27.7 61.7L28.8 61M35.3 60.6L36.6 60.6L37.6 59.7M57.8 73.1L58.9 72.3M-1.2 5.3L-0.4 4.4M72.2 74.7L73.5 74.9M68.1 69.9L69.1 70.6L70.3 71.2M57.7 51.2L58.9 51.5M31.1 70.7L32.3 70.4M80 34.3L81.2 33.7L81.9 32.6M68 38.5L68.3 37.3M94.4 49L95.6 48.4M38 42L38.4 40.7L39.2 39.7M77.4 36.9h.01M16.6 19.3L17.6 18.5L18.8 17.9M53.3 17.8L54.1 16.9L54.3 15.6M15.7 68.1L17 67.8M49.4 28.5L50 27.4L50.7 26.3M96.8 64.3L98.1 64.5M45.7 49.6L46.2 48.4M95 10.6h.01M84.4 30.6L84.3 29.3M63.3 25.8h.01M51.8 -2.7h.01M84.8 43.7L85.5 42.6L86.6 42M2.1 1h.01M73.6 27.1h.01M-2.8 55.7L-1.6 55.6M21 15.2L22.2 14.5L22.7 13.3" stroke="#eadde9" stroke-width="1.7" opacity="0.75"/>
<path d="M-8.1 51.3L-5.5 50.8L-2.9 50.8L-0.3 51L2.2 51.2L4.8 51.5L7.4 52L9.9 52.5L12.3 53.4L14.9 54L17.2 55.1L19.7 55.8L22.3 56L24.9 56.1L27.5 56.3L30.1 55.9L32.7 56M-4.4 68.1L-1.9 68.6L0.7 68.6M56.1 56.1L58.6 56.8L61.2 57.1M29.9 48.8L31.4 46.7L32.3 44.3L32.7 41.7L33.2 39.2L33.9 36.7L34.5 34.2L35.2 31.7L35.7 29.1L36.6 26.7L37.7 24.4L38.8 22L39.8 19.6L40.9 17.3M90.2 77.6L92.7 76.9L95.2 76.6L97.8 76.7M-4.9 16L-2.9 14.3L-1.2 12.3L0.7 10.5L2.4 8.6L4.1 6.7L6.1 5L8.1 3.3L10.2 1.8L12 -0L14 -1.7L15.6 -3.8L17 -5.9L18.2 -8.3L20.7 -8.9L23.2 -8.7L25.8 -9L28.3 -8.7L30.9 -8.8M53.7 33.4L54.5 30.9L55.2 28.4L56.3 26.1L57.5 23.8L58 21.2L58.7 18.7L59 16.1L60.3 13.9L60.7 11.3L60.8 8.7L61.2 6.2L62 3.7L62.7 1.2L63.4 -1.3M63.6 35.6L65 33.4L66.2 31.1L67.4 28.8L68.7 26.5L69.4 24L70.2 21.6L71.4 19.3L72.7 17L73.3 14.5L73.8 11.9L74.7 9.5L75.5 7L76.5 4.6L77.4 2.2L78.6 -0.1L79.7 -2.5L80.8 -4.8M-8.9 42.6L-8.6 40L-8.8 37.5L-7.1 35.6L-4.9 34.3L-2.7 32.8L-0.6 31.4L1.5 29.8L3.4 28L5.1 26.1L7 24.4L8.8 22.4L10.6 20.6M23.6 41L24.2 38.5L25 36L25.9 33.5L26.9 31.2L28.2 28.9L29 26.4L29.9 24L31.3 21.8L32.4 19.5L33.8 17.3L35 15M87.4 48.4L88.8 46.3L90.8 44.5L92.4 42.5L94.1 40.6L95.5 38.4L97 36.2L98.6 34.2L100.3 32.2L101.8 30.1L103.4 28.1L105.1 26.1L107.2 24.6L108.2 22.4L108.1 19.8M14.2 61.2L16.8 61.8L19 63.1L21.4 64.1L23.9 64.6M72.9 35L74.6 33L76.3 31L78.2 29.2L79.8 27.2L81.3 25.1L83 23.1L84.4 20.9L86 18.9L87.2 16.6L88.5 14.3L89.4 11.9L90.1 9.4M51.1 49.6L53.2 48.1L54.9 46.1M76.7 70.9L79.3 71.2L81.6 72.3L83.8 73.6M61 46.8L63.1 45.3L65.1 43.6L66.1 42.9M75.1 57.4L77.7 57.4L80.2 57.7L82.8 57.6L85.4 57.3M2.2 75L4.6 74.1L7.1 74.3L9.7 74.6M41.2 34.9L42.5 32.6L43.7 30.3L44.6 27.9L45.4 25.4L46.3 23L46.9 20.4L48 18.1L48.7 15.6L49.6 13.2L50.9 10.9L52.5 8.9L53.9 6.6L54.8 4.2L55.5 1.8L56.5 -0.6M92.1 3L93 0.6L94 -1.8L95 -4.2L95.7 -6.7L96.9 -8.7L99.5 -8.6L102.1 -8.6L103.4 -8.8M65.5 51.5L67.9 51.1L70.2 50L71.9 48L73.7 46.2L75.7 44.5L77.7 42.9L79.8 41.3L81.7 39.5L83.7 37.9L85.6 36.1L87.4 34.3L88.3 33.3M-2.7 44.1L-0.3 44.8L2.3 44.7L4.4 43.3L5.7 41.1L7.1 38.9L8.3 36.6L9.5 34.3L10.5 31.9L11.7 29.7L12.6 28.7M90 61.8L91.9 60L94.4 60.2L96.9 59.5M15 14.5L17 12.8L18.3 10.6L20 8.7L21.7 6.7L23.3 4.7L25 2.7L27 1.1L28.9 -0.7L31.2 -1.7L33.5 -3L36 -3.9L38.2 -5.1L40.4 -6.5M56.2 65.1L58.8 65.6L61.4 65.7L63.9 66.4M98.7 69.9L101.2 69.7L103.8 69.1M98.4 52.2L100.7 51.1L103 50L105.2 48.7M39.7 55.2L42.3 55.4L44.8 55L47.4 55.1M70.3 65L71 66.1L72 66.9M-8.7 28.7L-8.3 26.1L-6.6 24.2L-4.5 22.6L-2.1 21.5L0.3 20.7L2.4 19.1L4.5 17.6L6.4 15.8M37.1 70.2L39.7 70L42.2 69.3L44.7 68.8L47.3 68.3M38.2 49.2L40.5 47.9L41.8 45.7L43 43.4L44.5 41.4L46.1 39.4L47.7 37.4L48.1 36.1M17.3 24.5L19.8 24.3L21.6 22.5L23.4 20.6L25.1 18.7L26.5 16.5L27.9 14.3L29.1 12L29.8 10.9M88.9 25.7L90.6 23.8L91.9 21.6L93.2 19.4L94.6 17.2L96.7 15.6L98.8 14.1L100.9 12.5L102.6 10.6L104.5 8.9L106.5 7.2L107.8 5L108 2.4L107.9 -0.1L107.9 -2.7L107.4 -3.9M36.4 8.3L38.5 6.9L40.1 4.9L41.7 2.8L43.5 0.9L44.9 -1.3L46.3 -3.4L48 -5.4L49.9 -7.3L52 -8.7L54.5 -8.9L57.1 -9M26.9 76L29.5 75.6L32.1 75.4L34.5 76.1L37.1 76.7M41.1 63.1L43.7 62.5L46.2 62L48.8 61.7L51.2 61.5M62.6 75.1L65.2 75.6L67.7 76.2M66.6 14.5L67.5 12L68 9.5L68.8 7L69.3 4.5L70.1 2L70.9 -0.5L71.7 -3L72.5 -5.4L73.5 -7.8L74.2 -8.9M43.8 76.3L46.3 75.9L48.8 74.9L51.3 74.4L52.5 73.9M51.6 81.1L54 80L56.6 79.6L58.9 80.7M-8.4 10.8L-8.6 8.3L-7.8 6.1L-6.1 4.1L-4.8 1.9L-3.4 -0.3L-2.3 -2.6L-0.9 -4.8L0.6 -6.9L2.4 -8.8M15.7 47.1L17 44.9L18.1 44.2M57.1 39.9L57.9 38.9M17 72.6L19.5 73.2L20.6 74M86.5 67.4L88.5 69.1L90.4 70.8L92.1 68.8L92.5 67.6M79.5 15.8L80.4 13.4L81.6 11.1L82.5 8.7L83.3 6.2L84.3 3.8L85.4 1.5L86.1 0.4M73 79.7L75.6 80.2L78.2 80.5M102.4 62.4L103.4 60L105.2 58.7L107.7 58.3M44 10.1L44.8 9M6.7 66L8.5 67.7L11 68.2M77.8 64L79 64.3L80.3 64.3M1.8 59.8L4.4 60.2L6.8 59.2M-8.6 78.1L-6.1 77.4L-3.6 77.3M99.3 44.4L101.7 43.3L103.4 41.3L104.8 39.2L106.2 37L107.7 34.8L108 32.3M30.3 65.5L31.6 65.1L32.8 64.7M101 82.3L102.9 80.5L104.9 79.1L107.4 78.2M91.8 53.5h.01M21.9 49.6L22.7 48.5L23.6 47.6M97.6 6.1L98.9 3.9L100.3 1.7L101.4 -0.3L101.3 -1.6M10.5 10L11.6 9.2L12.4 8.2M14.1 39L15.9 37.2L16.8 34.8L17.7 32.3L18.3 31.2M78.6 50.7L80.9 49.6L80.9 48.3M-8.5 61.9L-5.9 61.5L-4.6 61.3M11 81L13.3 79.9L15.8 79.8L18.3 80.1M67.3 58.1L68.4 58.8" stroke="#f4ebf1" stroke-width="1.1"/>
<path d="M98.4 23.7L99.4 21.3L101.8 20.3M88.8 -5.8L89.1 -7L89.2 -8.3M5.3 -2.8L7.1 -4.7L8.9 -6.5L9.5 -7.7" stroke="#f4ebf1" stroke-width="1.1"/>
<path d="M9.6 46.3L10.3 45.2M30.2 5.5L32.5 4.4L33.6 3.6M60 31.3L60.6 30.1L60.9 28.9M94.1 30.3L95.3 29.7L96.1 28.7M48.6 3L49.3 1.9L49.9 0.7M63.9 21.8L64.3 20.6L64.2 19.3M50.1 43.1L50.8 42L51.8 41.1M20.5 -0.5L21.8 -2.7L23.1 -3M52.4 21.9h.01M75.8 23.7L76.4 22.6L77.2 21.6M-1.3 38.6L1 37.5L2 36.7M16.5 4.1L17.2 3M25.7 70.1L27 69.7" stroke="#f4ebf1" stroke-width="0.5"/>
<path d="M53.2 69L54.4 69.4L55.5 70.1M22.2 28.4L23.1 27.5M27.7 61.7L28.8 61M35.3 60.6L36.6 60.6L37.6 59.7M57.8 73.1L58.9 72.3M-1.2 5.3L-0.4 4.4M72.2 74.7L73.5 74.9M68.1 69.9L69.1 70.6L70.3 71.2M57.7 51.2L58.9 51.5M31.1 70.7L32.3 70.4M80 34.3L81.2 33.7L81.9 32.6M68 38.5L68.3 37.3M94.4 49L95.6 48.4M38 42L38.4 40.7L39.2 39.7M77.4 36.9h.01M16.6 19.3L17.6 18.5L18.8 17.9M53.3 17.8L54.1 16.9L54.3 15.6M15.7 68.1L17 67.8M49.4 28.5L50 27.4L50.7 26.3M96.8 64.3L98.1 64.5M45.7 49.6L46.2 48.4M95 10.6h.01M84.4 30.6L84.3 29.3M63.3 25.8h.01M51.8 -2.7h.01M84.8 43.7L85.5 42.6L86.6 42M2.1 1h.01M73.6 27.1h.01M-2.8 55.7L-1.6 55.6M21 15.2L22.2 14.5L22.7 13.3" stroke="#f4ebf1" stroke-width="0.4"/>
</g></g>
<path d="M60.5 37.5l7-2.5 4.5-4 5.5-6.5 4-5 2 .5-2.5 6-5 6.5-5 3.5-4.5 1z" fill="#f5f1f4" />
<path d="M75.5 13l1.5 0-1 6-1.5 1z" fill="#f1ebf1" />
<ellipse cx="94.5" cy="30.5" rx="0.9" ry="3.2" fill="#d98c7e" transform="rotate(5 94.5 30.5)" />
<rect width="99.2" height="74.1" filter="url(#gp21)"/>
<rect width="99.2" height="74.1" fill="url(#v21)"/></g></g>
<g transform="translate(134.7,525.7)" clip-path="url(#tc)"><g filter="url(#bl05)"><rect width="99.2" height="74.1" fill="#c998b8"/>
<g fill="none" stroke-linecap="round" stroke-linejoin="round">
<path d="M42.9 51.3L45.5 50.8L47.8 49.8L49.9 48.3M51.6 1.2L54.1 2.1L56.6 2.8L59.1 3.5L61.6 4.1L64.1 4.8L66.5 5.8L68.7 7.1L71.2 7.9L73.7 8.6L76.2 9.3L78.6 10.1L81.1 10.7L83.6 11.4M45.9 29L48.3 30L50.7 31L53.1 31.9L55.5 32.9L57.9 34L60.2 35.1L62.6 36.1L64.7 37.6L67.1 38.7L69.4 39.9L71.9 40.6L74.4 41.2M57.5 -6.1L60.1 -5.8L62.7 -5.4L65.1 -4.5L67.6 -3.9L70 -2.9L72.5 -2.2L75.1 -1.7L77.6 -1.3L80.1 -0.5L82.4 0.7L84.7 1.9M99.5 80.9L102 80.2L104.4 79.2L106.9 78.5M44 4.5L46.1 6.1L48.6 6.9L51.1 7.6L53.3 8.9L55.3 10.5L57.4 12.1L59.5 13.7L61.5 15.3L63.7 16.7L66.1 17.6L68.5 18.6L70.8 19.8L73.1 21.1L75.5 22L78 22.7L80.5 23.5L82.8 24.6L85.3 25.4M89.9 71L92.4 71.9L94.9 72.5L97.5 72.6M51.2 55L53.4 54.2L55.9 53.5M25 52.9L27.6 53.5L30 54.5L32.5 55.1M21.7 3L23.2 5.1L24.9 7.1L26.6 9L28.5 10.8L30.1 12.9L32 14.6L34 16.2L36.3 17.6L38.5 18.9L40.6 20.5L42.6 22.1L43.4 23.1M8.3 31.7L10.5 33.1L12.5 34.7L14.6 36.3L16.6 37.9L18.4 39.8L20.2 41.7L22.1 43.4L24.2 45L26.5 46.2L29 46.8L31.4 47.7M18.6 78L21.1 77.5L23.7 77.3L26.3 77.6M15.1 70.4L17.6 69.6L19.8 68.3M5.3 -0.2L6.9 1.9L8.5 3.9L10.3 5.7L12.3 7.4L14.3 9.1L16.1 11L18 12.7L19.9 14.5L21.7 16.3L23.4 18.3L25.1 20.3M58.1 59.5L60.3 58.3L62.8 58.9L65.4 59M49.2 37.1L51.4 38.4L53.6 39.7L55.7 41.2L58.1 42.3L60.3 43.6L62.8 44.4L65.3 45L67.7 46.2L70.1 47L72.2 48.5L74.6 49.4L77 50.6L79.4 51.5L81.9 52.1L84.5 52.1L87.1 51.5L89.7 51.4L92.3 51.5M-8.5 30.8L-6.2 32L-3.9 33.2L-1.6 34.5L0.8 35.5L3.1 36.6L5.3 38L7.3 39.7L9.3 41.3L11.5 42.7L13.5 44.4L15.5 46L17.4 47.8L19.1 49.7M0 52.9L2.4 51.8L4.9 51.1M25.5 66.3L26.7 65.7L27.9 65.3M86.3 16.8L88 18.6L89.8 20.5L90.9 22.8L91.3 25.4L91.8 27.9L94.1 29L96.4 30.3L98.5 31.8L100.5 33.5L102.7 34.9L104.6 36.6L106.7 38.1L107.8 40.3L107.5 42.9L107.6 45.5L107.7 48.1L107.8 50.7L107.8 53.3M50.8 71.5L53.3 71.9L55.9 71.9M30.3 23.5L31 26L33 27.7L34.8 29.5L36.5 31.5L38 33.6L39.7 35.6L41.4 37.5M79.6 60.5L81.7 58.8L84.1 58.3L86.7 58.5M-3.7 77.6L-1.1 77.8L1.5 78.1M86.9 77.8L89.5 78L92 78.6M-6.1 47.1L-3.5 47.5L-1.2 46.4M49.4 80.5L51.8 79.6L54.1 78.4L56.7 78.3M7.7 76.4L8.9 76L10.1 75.6M58.7 23.9L61.1 24.8L63.5 25.8L65.9 26.9L68.3 27.7L70.9 28.2L73.4 28.6L75.9 29.3L78.3 30.3L80.5 31.7L83 32.4L85.2 33.8L87.6 34.9L90.1 35.6L92.6 36.1L94.8 37.5L96.9 39L98.9 40.7L100.6 42.6M89.7 5.6L91.6 7.3L93.8 8.7L95.7 10.4L97.8 11.9L99.7 13.7L101.9 15.1M-7.5 5.3L-5.1 6.4L-2.8 7.6L-0.6 8.9L1.8 9.9L3.9 11.4L6.1 12.8L8.1 14.5L10.3 15.8L12.3 17.5L14 19.4L16 21.1L18.2 22.5L20.2 24.1L22.1 25.9L23.8 27.8L25.7 29.6L27.5 31.4L29.2 33.4M94.6 -6.6L96.8 -5.1L98.8 -3.4L100.7 -1.7L102.4 0.2L104 2.3L105.7 4.3L107.5 6.1L107.8 8.7L107.5 11.3L107.5 12.6M70.2 76.9L72.6 77.8L75 78.9L77.5 79.7M0.7 59.1L3.2 58.5L5.6 57.7M75.6 -8.3L78.2 -8.5L80.7 -7.9L82.9 -6.5L84.9 -4.9L87.2 -3.6L89.5 -2.3L91.6 -0.8L93.5 0.9L95.6 2.4L97.6 4M28.2 1.1L29.9 3.1L31.6 5L33.7 6.5L35.6 8.4L37.5 10.1L39.5 11.7L41.6 13.4L43.8 14.6L46 16L48.1 17.6L50 19.4L51.6 21.4L52.3 23.9M-6.4 -8.3L-3.8 -8.6L-1.2 -8.5L1.4 -8.5L4 -8.5L6.5 -8.2L8.4 -6.4L10.3 -4.6L11.7 -2.4L13.7 -0.7L15.4 1.2M34.2 65.6L36.7 65.4L39.1 64.6L40.3 64.1M-8.5 12.4L-6.8 14.1L-4.6 15.5L-2.4 16.8L-0.4 18.5L1.7 20L4.1 21L6.2 22.6L8.2 24.2M11.4 63.7L14 64.1L16.3 63M92.7 61.3L95.1 62.2L97.5 63.2M10.9 52.3L13.5 52.5L15.2 54.4L16.3 55.1M37.7 42.5L40.1 43.6L41.8 45.4M3.1 65.6L5.6 66.1L7.2 68.2M80.3 37.8L80.4 40.4L81.8 42.5L84.3 43.2L86.7 44L89.1 45.1L91.7 45.2L94.2 45.6M79.9 70.5L82.4 70.9L83.6 71.3M64 72.4L66.5 71.6L68.8 70.5M96.9 19.2L98.9 20.8L101.4 21.4L103.9 22L106.1 23.5L107.6 25.5L107.8 28.1L107.1 30.6M46.3 60.4L48.6 61.3L51.2 61.8M21.9 -8.4L24.4 -8.3L27 -8.4L29.5 -8.5L31.2 -6.5L32.9 -4.5L34.7 -2.6L36.7 -1L38.6 0.7L38.6 2M13.3 27.5L15.6 28.7L17.4 30.5L19.3 32.3L21.2 34L23 36L24.9 37.7M39.9 -8.6L41.8 -6.8L43.7 -5.1L45.7 -3.4L46.2 -2.2M61.8 51.1L64 52.5L66.5 53M71.8 56.1L73.1 56.2L74.4 56.5M-8.4 20.8L-6.3 22.3L-4.1 23.8L-2 25.3L-0.2 27.1L1.3 29.2L2.5 29.6M70.1 64.1L72.6 63.7L74.9 64.6M45 68.6h.01M36.4 73.2L38.8 74.3L41.3 74.7M99.4 49.6L100.4 50.4L101.4 51.3M29.1 72.2L30.4 72.4M103.5 62.9L105.9 64L107.2 64.3M57.7 65.8L60.3 65.8L62.9 66.2L64.1 65.8M-7.6 -2.2L-5.1 -2.3L-2.8 -1.5L-0.8 -0M-5.7 63.9L-4.4 63.9L-3.1 64M-4.2 70.7L-1.8 71.4L0.8 71.6M84.8 64.9L86.1 64.8L87.4 64.9M49.6 -8.2L51.1 -6.1L51.5 -4.9M32.5 78.8L34.7 80L37.1 80.9M37.8 58.4L40.3 58L41.2 57.1M-8 58.2L-5.5 57.6L-4.9 56.5M63.2 79L64.5 79M36.9 50.4h.01M21 59L21.7 60L22.8 60.7M103.9 70.3L105.2 70.4L106.4 70.7M31.5 38.9L32.2 40" stroke="#a68aba" stroke-width="6.7"/>
<path d="M97.1 55.6L99.2 57.1L100.5 57.2M-5.9 39.6L-4.7 40.1L-3.5 40.6" stroke="#a68aba" stroke-width="6.7"/>
<path d="M3.3 43.7L4.3 44.5L5.4 45.1M70.6 13.6L73 14.6L75.5 15.3M91.2 13.5L92.2 14.4M46.5 41.9L47.4 42.8L48.7 43M17.6 -5.1L18.2 -4L19.4 -3.4M74.6 3.5L75.9 3.8M69.9 33.8L72.5 33.9L74.4 35.6M27.9 59.3L30.2 60.3L31.4 61M39.4 26.8L40.3 27.7M54.9 17.1L55.9 17.9L56.7 19M66.1 11.7h.01M102.4 8.6h.01M101 27L102.1 27.7M79.3 17.7L80.4 17L81.2 18.1M81.7 76.3h.01" stroke="#a68aba" stroke-width="5.1"/>
<path d="M10.2 57L10.8 58.1L12 58.6M23 71.9L24.2 71.5M59.4 29.7L60.6 30.2M61.9 -0.9L63.1 -0.2M46.3 73.2L47.1 74.2M3.8 5.3L4.7 6.3M73.9 70.2L75.1 70.4M64.5 31.7L65.8 31.8M49.1 66.1L50.1 67L51.4 66.6M17.5 5.9L18.7 6.5L19.2 7.7M77.4 45.3L78.6 45.9M83.7 6.4L84.9 6.7M56.6 48.5L57.9 48.2M91.7 56.4h.01M50.1 12.9L51.2 13.7L52.2 14.5M80 5.2h.01M101.1 75.5L101.8 74.4M68.6 1.4L69.4 2.4M23.3 -3.6L24 -2.5L24.2 -1.2M35.9 22.8L36.4 24M75.5 73.8L76.6 74.5M53.4 45.1L54.1 46.2" stroke="#a68aba" stroke-width="3.8"/>
<path d="M42.9 51.3L45.5 50.8L47.8 49.8L49.9 48.3M51.6 1.2L54.1 2.1L56.6 2.8L59.1 3.5L61.6 4.1L64.1 4.8L66.5 5.8L68.7 7.1L71.2 7.9L73.7 8.6L76.2 9.3L78.6 10.1L81.1 10.7L83.6 11.4M45.9 29L48.3 30L50.7 31L53.1 31.9L55.5 32.9L57.9 34L60.2 35.1L62.6 36.1L64.7 37.6L67.1 38.7L69.4 39.9L71.9 40.6L74.4 41.2M57.5 -6.1L60.1 -5.8L62.7 -5.4L65.1 -4.5L67.6 -3.9L70 -2.9L72.5 -2.2L75.1 -1.7L77.6 -1.3L80.1 -0.5L82.4 0.7L84.7 1.9M99.5 80.9L102 80.2L104.4 79.2L106.9 78.5M44 4.5L46.1 6.1L48.6 6.9L51.1 7.6L53.3 8.9L55.3 10.5L57.4 12.1L59.5 13.7L61.5 15.3L63.7 16.7L66.1 17.6L68.5 18.6L70.8 19.8L73.1 21.1L75.5 22L78 22.7L80.5 23.5L82.8 24.6L85.3 25.4M89.9 71L92.4 71.9L94.9 72.5L97.5 72.6M51.2 55L53.4 54.2L55.9 53.5M25 52.9L27.6 53.5L30 54.5L32.5 55.1M21.7 3L23.2 5.1L24.9 7.1L26.6 9L28.5 10.8L30.1 12.9L32 14.6L34 16.2L36.3 17.6L38.5 18.9L40.6 20.5L42.6 22.1L43.4 23.1M8.3 31.7L10.5 33.1L12.5 34.7L14.6 36.3L16.6 37.9L18.4 39.8L20.2 41.7L22.1 43.4L24.2 45L26.5 46.2L29 46.8L31.4 47.7M18.6 78L21.1 77.5L23.7 77.3L26.3 77.6M15.1 70.4L17.6 69.6L19.8 68.3M5.3 -0.2L6.9 1.9L8.5 3.9L10.3 5.7L12.3 7.4L14.3 9.1L16.1 11L18 12.7L19.9 14.5L21.7 16.3L23.4 18.3L25.1 20.3M58.1 59.5L60.3 58.3L62.8 58.9L65.4 59M49.2 37.1L51.4 38.4L53.6 39.7L55.7 41.2L58.1 42.3L60.3 43.6L62.8 44.4L65.3 45L67.7 46.2L70.1 47L72.2 48.5L74.6 49.4L77 50.6L79.4 51.5L81.9 52.1L84.5 52.1L87.1 51.5L89.7 51.4L92.3 51.5M-8.5 30.8L-6.2 32L-3.9 33.2L-1.6 34.5L0.8 35.5L3.1 36.6L5.3 38L7.3 39.7L9.3 41.3L11.5 42.7L13.5 44.4L15.5 46L17.4 47.8L19.1 49.7M0 52.9L2.4 51.8L4.9 51.1M25.5 66.3L26.7 65.7L27.9 65.3M86.3 16.8L88 18.6L89.8 20.5L90.9 22.8L91.3 25.4L91.8 27.9L94.1 29L96.4 30.3L98.5 31.8L100.5 33.5L102.7 34.9L104.6 36.6L106.7 38.1L107.8 40.3L107.5 42.9L107.6 45.5L107.7 48.1L107.8 50.7L107.8 53.3M50.8 71.5L53.3 71.9L55.9 71.9M30.3 23.5L31 26L33 27.7L34.8 29.5L36.5 31.5L38 33.6L39.7 35.6L41.4 37.5M79.6 60.5L81.7 58.8L84.1 58.3L86.7 58.5M-3.7 77.6L-1.1 77.8L1.5 78.1M86.9 77.8L89.5 78L92 78.6M-6.1 47.1L-3.5 47.5L-1.2 46.4M49.4 80.5L51.8 79.6L54.1 78.4L56.7 78.3M7.7 76.4L8.9 76L10.1 75.6M58.7 23.9L61.1 24.8L63.5 25.8L65.9 26.9L68.3 27.7L70.9 28.2L73.4 28.6L75.9 29.3L78.3 30.3L80.5 31.7L83 32.4L85.2 33.8L87.6 34.9L90.1 35.6L92.6 36.1L94.8 37.5L96.9 39L98.9 40.7L100.6 42.6M89.7 5.6L91.6 7.3L93.8 8.7L95.7 10.4L97.8 11.9L99.7 13.7L101.9 15.1M-7.5 5.3L-5.1 6.4L-2.8 7.6L-0.6 8.9L1.8 9.9L3.9 11.4L6.1 12.8L8.1 14.5L10.3 15.8L12.3 17.5L14 19.4L16 21.1L18.2 22.5L20.2 24.1L22.1 25.9L23.8 27.8L25.7 29.6L27.5 31.4L29.2 33.4M94.6 -6.6L96.8 -5.1L98.8 -3.4L100.7 -1.7L102.4 0.2L104 2.3L105.7 4.3L107.5 6.1L107.8 8.7L107.5 11.3L107.5 12.6M70.2 76.9L72.6 77.8L75 78.9L77.5 79.7M0.7 59.1L3.2 58.5L5.6 57.7M75.6 -8.3L78.2 -8.5L80.7 -7.9L82.9 -6.5L84.9 -4.9L87.2 -3.6L89.5 -2.3L91.6 -0.8L93.5 0.9L95.6 2.4L97.6 4M28.2 1.1L29.9 3.1L31.6 5L33.7 6.5L35.6 8.4L37.5 10.1L39.5 11.7L41.6 13.4L43.8 14.6L46 16L48.1 17.6L50 19.4L51.6 21.4L52.3 23.9M-6.4 -8.3L-3.8 -8.6L-1.2 -8.5L1.4 -8.5L4 -8.5L6.5 -8.2L8.4 -6.4L10.3 -4.6L11.7 -2.4L13.7 -0.7L15.4 1.2M34.2 65.6L36.7 65.4L39.1 64.6L40.3 64.1M-8.5 12.4L-6.8 14.1L-4.6 15.5L-2.4 16.8L-0.4 18.5L1.7 20L4.1 21L6.2 22.6L8.2 24.2M11.4 63.7L14 64.1L16.3 63M92.7 61.3L95.1 62.2L97.5 63.2M10.9 52.3L13.5 52.5L15.2 54.4L16.3 55.1M37.7 42.5L40.1 43.6L41.8 45.4M3.1 65.6L5.6 66.1L7.2 68.2M80.3 37.8L80.4 40.4L81.8 42.5L84.3 43.2L86.7 44L89.1 45.1L91.7 45.2L94.2 45.6M79.9 70.5L82.4 70.9L83.6 71.3M64 72.4L66.5 71.6L68.8 70.5M96.9 19.2L98.9 20.8L101.4 21.4L103.9 22L106.1 23.5L107.6 25.5L107.8 28.1L107.1 30.6M46.3 60.4L48.6 61.3L51.2 61.8M21.9 -8.4L24.4 -8.3L27 -8.4L29.5 -8.5L31.2 -6.5L32.9 -4.5L34.7 -2.6L36.7 -1L38.6 0.7L38.6 2M13.3 27.5L15.6 28.7L17.4 30.5L19.3 32.3L21.2 34L23 36L24.9 37.7M39.9 -8.6L41.8 -6.8L43.7 -5.1L45.7 -3.4L46.2 -2.2M61.8 51.1L64 52.5L66.5 53M71.8 56.1L73.1 56.2L74.4 56.5M-8.4 20.8L-6.3 22.3L-4.1 23.8L-2 25.3L-0.2 27.1L1.3 29.2L2.5 29.6M70.1 64.1L72.6 63.7L74.9 64.6M45 68.6h.01M36.4 73.2L38.8 74.3L41.3 74.7M99.4 49.6L100.4 50.4L101.4 51.3M29.1 72.2L30.4 72.4M103.5 62.9L105.9 64L107.2 64.3M57.7 65.8L60.3 65.8L62.9 66.2L64.1 65.8M-7.6 -2.2L-5.1 -2.3L-2.8 -1.5L-0.8 -0M-5.7 63.9L-4.4 63.9L-3.1 64M-4.2 70.7L-1.8 71.4L0.8 71.6M84.8 64.9L86.1 64.8L87.4 64.9M49.6 -8.2L51.1 -6.1L51.5 -4.9M32.5 78.8L34.7 80L37.1 80.9M37.8 58.4L40.3 58L41.2 57.1M-8 58.2L-5.5 57.6L-4.9 56.5M63.2 79L64.5 79M36.9 50.4h.01M21 59L21.7 60L22.8 60.7M103.9 70.3L105.2 70.4L106.4 70.7M31.5 38.9L32.2 40" stroke="#cfbbd9" stroke-width="5.5"/>
<path d="M97.1 55.6L99.2 57.1L100.5 57.2M-5.9 39.6L-4.7 40.1L-3.5 40.6" stroke="#cfbbd9" stroke-width="5.5"/>
<path d="M3.3 43.7L4.3 44.5L5.4 45.1M70.6 13.6L73 14.6L75.5 15.3M91.2 13.5L92.2 14.4M46.5 41.9L47.4 42.8L48.7 43M17.6 -5.1L18.2 -4L19.4 -3.4M74.6 3.5L75.9 3.8M69.9 33.8L72.5 33.9L74.4 35.6M27.9 59.3L30.2 60.3L31.4 61M39.4 26.8L40.3 27.7M54.9 17.1L55.9 17.9L56.7 19M66.1 11.7h.01M102.4 8.6h.01M101 27L102.1 27.7M79.3 17.7L80.4 17L81.2 18.1M81.7 76.3h.01" stroke="#cfbbd9" stroke-width="3.9"/>
<path d="M10.2 57L10.8 58.1L12 58.6M23 71.9L24.2 71.5M59.4 29.7L60.6 30.2M61.9 -0.9L63.1 -0.2M46.3 73.2L47.1 74.2M3.8 5.3L4.7 6.3M73.9 70.2L75.1 70.4M64.5 31.7L65.8 31.8M49.1 66.1L50.1 67L51.4 66.6M17.5 5.9L18.7 6.5L19.2 7.7M77.4 45.3L78.6 45.9M83.7 6.4L84.9 6.7M56.6 48.5L57.9 48.2M91.7 56.4h.01M50.1 12.9L51.2 13.7L52.2 14.5M80 5.2h.01M101.1 75.5L101.8 74.4M68.6 1.4L69.4 2.4M23.3 -3.6L24 -2.5L24.2 -1.2M35.9 22.8L36.4 24M75.5 73.8L76.6 74.5M53.4 45.1L54.1 46.2" stroke="#cfbbd9" stroke-width="2.6"/>
<g filter="url(#bl08)">
<path d="M42.9 51.3L45.5 50.8L47.8 49.8L49.9 48.3M51.6 1.2L54.1 2.1L56.6 2.8L59.1 3.5L61.6 4.1L64.1 4.8L66.5 5.8L68.7 7.1L71.2 7.9L73.7 8.6L76.2 9.3L78.6 10.1L81.1 10.7L83.6 11.4M45.9 29L48.3 30L50.7 31L53.1 31.9L55.5 32.9L57.9 34L60.2 35.1L62.6 36.1L64.7 37.6L67.1 38.7L69.4 39.9L71.9 40.6L74.4 41.2M57.5 -6.1L60.1 -5.8L62.7 -5.4L65.1 -4.5L67.6 -3.9L70 -2.9L72.5 -2.2L75.1 -1.7L77.6 -1.3L80.1 -0.5L82.4 0.7L84.7 1.9M99.5 80.9L102 80.2L104.4 79.2L106.9 78.5M44 4.5L46.1 6.1L48.6 6.9L51.1 7.6L53.3 8.9L55.3 10.5L57.4 12.1L59.5 13.7L61.5 15.3L63.7 16.7L66.1 17.6L68.5 18.6L70.8 19.8L73.1 21.1L75.5 22L78 22.7L80.5 23.5L82.8 24.6L85.3 25.4M89.9 71L92.4 71.9L94.9 72.5L97.5 72.6M51.2 55L53.4 54.2L55.9 53.5M25 52.9L27.6 53.5L30 54.5L32.5 55.1M21.7 3L23.2 5.1L24.9 7.1L26.6 9L28.5 10.8L30.1 12.9L32 14.6L34 16.2L36.3 17.6L38.5 18.9L40.6 20.5L42.6 22.1L43.4 23.1M8.3 31.7L10.5 33.1L12.5 34.7L14.6 36.3L16.6 37.9L18.4 39.8L20.2 41.7L22.1 43.4L24.2 45L26.5 46.2L29 46.8L31.4 47.7M18.6 78L21.1 77.5L23.7 77.3L26.3 77.6M15.1 70.4L17.6 69.6L19.8 68.3M5.3 -0.2L6.9 1.9L8.5 3.9L10.3 5.7L12.3 7.4L14.3 9.1L16.1 11L18 12.7L19.9 14.5L21.7 16.3L23.4 18.3L25.1 20.3M58.1 59.5L60.3 58.3L62.8 58.9L65.4 59M49.2 37.1L51.4 38.4L53.6 39.7L55.7 41.2L58.1 42.3L60.3 43.6L62.8 44.4L65.3 45L67.7 46.2L70.1 47L72.2 48.5L74.6 49.4L77 50.6L79.4 51.5L81.9 52.1L84.5 52.1L87.1 51.5L89.7 51.4L92.3 51.5M-8.5 30.8L-6.2 32L-3.9 33.2L-1.6 34.5L0.8 35.5L3.1 36.6L5.3 38L7.3 39.7L9.3 41.3L11.5 42.7L13.5 44.4L15.5 46L17.4 47.8L19.1 49.7M0 52.9L2.4 51.8L4.9 51.1M25.5 66.3L26.7 65.7L27.9 65.3M86.3 16.8L88 18.6L89.8 20.5L90.9 22.8L91.3 25.4L91.8 27.9L94.1 29L96.4 30.3L98.5 31.8L100.5 33.5L102.7 34.9L104.6 36.6L106.7 38.1L107.8 40.3L107.5 42.9L107.6 45.5L107.7 48.1L107.8 50.7L107.8 53.3M50.8 71.5L53.3 71.9L55.9 71.9M30.3 23.5L31 26L33 27.7L34.8 29.5L36.5 31.5L38 33.6L39.7 35.6L41.4 37.5M79.6 60.5L81.7 58.8L84.1 58.3L86.7 58.5M-3.7 77.6L-1.1 77.8L1.5 78.1M86.9 77.8L89.5 78L92 78.6M-6.1 47.1L-3.5 47.5L-1.2 46.4M49.4 80.5L51.8 79.6L54.1 78.4L56.7 78.3M7.7 76.4L8.9 76L10.1 75.6M58.7 23.9L61.1 24.8L63.5 25.8L65.9 26.9L68.3 27.7L70.9 28.2L73.4 28.6L75.9 29.3L78.3 30.3L80.5 31.7L83 32.4L85.2 33.8L87.6 34.9L90.1 35.6L92.6 36.1L94.8 37.5L96.9 39L98.9 40.7L100.6 42.6M89.7 5.6L91.6 7.3L93.8 8.7L95.7 10.4L97.8 11.9L99.7 13.7L101.9 15.1M-7.5 5.3L-5.1 6.4L-2.8 7.6L-0.6 8.9L1.8 9.9L3.9 11.4L6.1 12.8L8.1 14.5L10.3 15.8L12.3 17.5L14 19.4L16 21.1L18.2 22.5L20.2 24.1L22.1 25.9L23.8 27.8L25.7 29.6L27.5 31.4L29.2 33.4M94.6 -6.6L96.8 -5.1L98.8 -3.4L100.7 -1.7L102.4 0.2L104 2.3L105.7 4.3L107.5 6.1L107.8 8.7L107.5 11.3L107.5 12.6M70.2 76.9L72.6 77.8L75 78.9L77.5 79.7M0.7 59.1L3.2 58.5L5.6 57.7M75.6 -8.3L78.2 -8.5L80.7 -7.9L82.9 -6.5L84.9 -4.9L87.2 -3.6L89.5 -2.3L91.6 -0.8L93.5 0.9L95.6 2.4L97.6 4M28.2 1.1L29.9 3.1L31.6 5L33.7 6.5L35.6 8.4L37.5 10.1L39.5 11.7L41.6 13.4L43.8 14.6L46 16L48.1 17.6L50 19.4L51.6 21.4L52.3 23.9M-6.4 -8.3L-3.8 -8.6L-1.2 -8.5L1.4 -8.5L4 -8.5L6.5 -8.2L8.4 -6.4L10.3 -4.6L11.7 -2.4L13.7 -0.7L15.4 1.2M34.2 65.6L36.7 65.4L39.1 64.6L40.3 64.1M-8.5 12.4L-6.8 14.1L-4.6 15.5L-2.4 16.8L-0.4 18.5L1.7 20L4.1 21L6.2 22.6L8.2 24.2M11.4 63.7L14 64.1L16.3 63M92.7 61.3L95.1 62.2L97.5 63.2M10.9 52.3L13.5 52.5L15.2 54.4L16.3 55.1M37.7 42.5L40.1 43.6L41.8 45.4M3.1 65.6L5.6 66.1L7.2 68.2M80.3 37.8L80.4 40.4L81.8 42.5L84.3 43.2L86.7 44L89.1 45.1L91.7 45.2L94.2 45.6M79.9 70.5L82.4 70.9L83.6 71.3M64 72.4L66.5 71.6L68.8 70.5M96.9 19.2L98.9 20.8L101.4 21.4L103.9 22L106.1 23.5L107.6 25.5L107.8 28.1L107.1 30.6M46.3 60.4L48.6 61.3L51.2 61.8M21.9 -8.4L24.4 -8.3L27 -8.4L29.5 -8.5L31.2 -6.5L32.9 -4.5L34.7 -2.6L36.7 -1L38.6 0.7L38.6 2M13.3 27.5L15.6 28.7L17.4 30.5L19.3 32.3L21.2 34L23 36L24.9 37.7M39.9 -8.6L41.8 -6.8L43.7 -5.1L45.7 -3.4L46.2 -2.2M61.8 51.1L64 52.5L66.5 53M71.8 56.1L73.1 56.2L74.4 56.5M-8.4 20.8L-6.3 22.3L-4.1 23.8L-2 25.3L-0.2 27.1L1.3 29.2L2.5 29.6M70.1 64.1L72.6 63.7L74.9 64.6M45 68.6h.01M36.4 73.2L38.8 74.3L41.3 74.7M99.4 49.6L100.4 50.4L101.4 51.3M29.1 72.2L30.4 72.4M103.5 62.9L105.9 64L107.2 64.3M57.7 65.8L60.3 65.8L62.9 66.2L64.1 65.8M-7.6 -2.2L-5.1 -2.3L-2.8 -1.5L-0.8 -0M-5.7 63.9L-4.4 63.9L-3.1 64M-4.2 70.7L-1.8 71.4L0.8 71.6M84.8 64.9L86.1 64.8L87.4 64.9M49.6 -8.2L51.1 -6.1L51.5 -4.9M32.5 78.8L34.7 80L37.1 80.9M37.8 58.4L40.3 58L41.2 57.1M-8 58.2L-5.5 57.6L-4.9 56.5M63.2 79L64.5 79M36.9 50.4h.01M21 59L21.7 60L22.8 60.7M103.9 70.3L105.2 70.4L106.4 70.7M31.5 38.9L32.2 40" stroke="#e9dfea" stroke-width="2.6" opacity="0.75"/>
<path d="M97.1 55.6L99.2 57.1L100.5 57.2M-5.9 39.6L-4.7 40.1L-3.5 40.6" stroke="#e9dfea" stroke-width="2.6" opacity="0.75"/>
<path d="M3.3 43.7L4.3 44.5L5.4 45.1M70.6 13.6L73 14.6L75.5 15.3M91.2 13.5L92.2 14.4M46.5 41.9L47.4 42.8L48.7 43M17.6 -5.1L18.2 -4L19.4 -3.4M74.6 3.5L75.9 3.8M69.9 33.8L72.5 33.9L74.4 35.6M27.9 59.3L30.2 60.3L31.4 61M39.4 26.8L40.3 27.7M54.9 17.1L55.9 17.9L56.7 19M66.1 11.7h.01M102.4 8.6h.01M101 27L102.1 27.7M79.3 17.7L80.4 17L81.2 18.1M81.7 76.3h.01" stroke="#e9dfea" stroke-width="2.1" opacity="0.75"/>
<path d="M10.2 57L10.8 58.1L12 58.6M23 71.9L24.2 71.5M59.4 29.7L60.6 30.2M61.9 -0.9L63.1 -0.2M46.3 73.2L47.1 74.2M3.8 5.3L4.7 6.3M73.9 70.2L75.1 70.4M64.5 31.7L65.8 31.8M49.1 66.1L50.1 67L51.4 66.6M17.5 5.9L18.7 6.5L19.2 7.7M77.4 45.3L78.6 45.9M83.7 6.4L84.9 6.7M56.6 48.5L57.9 48.2M91.7 56.4h.01M50.1 12.9L51.2 13.7L52.2 14.5M80 5.2h.01M101.1 75.5L101.8 74.4M68.6 1.4L69.4 2.4M23.3 -3.6L24 -2.5L24.2 -1.2M35.9 22.8L36.4 24M75.5 73.8L76.6 74.5M53.4 45.1L54.1 46.2" stroke="#e9dfea" stroke-width="1.7" opacity="0.75"/>
<path d="M42.9 51.3L45.5 50.8L47.8 49.8L49.9 48.3M51.6 1.2L54.1 2.1L56.6 2.8L59.1 3.5L61.6 4.1L64.1 4.8L66.5 5.8L68.7 7.1L71.2 7.9L73.7 8.6L76.2 9.3L78.6 10.1L81.1 10.7L83.6 11.4M45.9 29L48.3 30L50.7 31L53.1 31.9L55.5 32.9L57.9 34L60.2 35.1L62.6 36.1L64.7 37.6L67.1 38.7L69.4 39.9L71.9 40.6L74.4 41.2M57.5 -6.1L60.1 -5.8L62.7 -5.4L65.1 -4.5L67.6 -3.9L70 -2.9L72.5 -2.2L75.1 -1.7L77.6 -1.3L80.1 -0.5L82.4 0.7L84.7 1.9M99.5 80.9L102 80.2L104.4 79.2L106.9 78.5M44 4.5L46.1 6.1L48.6 6.9L51.1 7.6L53.3 8.9L55.3 10.5L57.4 12.1L59.5 13.7L61.5 15.3L63.7 16.7L66.1 17.6L68.5 18.6L70.8 19.8L73.1 21.1L75.5 22L78 22.7L80.5 23.5L82.8 24.6L85.3 25.4M89.9 71L92.4 71.9L94.9 72.5L97.5 72.6M51.2 55L53.4 54.2L55.9 53.5M25 52.9L27.6 53.5L30 54.5L32.5 55.1M21.7 3L23.2 5.1L24.9 7.1L26.6 9L28.5 10.8L30.1 12.9L32 14.6L34 16.2L36.3 17.6L38.5 18.9L40.6 20.5L42.6 22.1L43.4 23.1M8.3 31.7L10.5 33.1L12.5 34.7L14.6 36.3L16.6 37.9L18.4 39.8L20.2 41.7L22.1 43.4L24.2 45L26.5 46.2L29 46.8L31.4 47.7M18.6 78L21.1 77.5L23.7 77.3L26.3 77.6M15.1 70.4L17.6 69.6L19.8 68.3M5.3 -0.2L6.9 1.9L8.5 3.9L10.3 5.7L12.3 7.4L14.3 9.1L16.1 11L18 12.7L19.9 14.5L21.7 16.3L23.4 18.3L25.1 20.3M58.1 59.5L60.3 58.3L62.8 58.9L65.4 59M49.2 37.1L51.4 38.4L53.6 39.7L55.7 41.2L58.1 42.3L60.3 43.6L62.8 44.4L65.3 45L67.7 46.2L70.1 47L72.2 48.5L74.6 49.4L77 50.6L79.4 51.5L81.9 52.1L84.5 52.1L87.1 51.5L89.7 51.4L92.3 51.5M-8.5 30.8L-6.2 32L-3.9 33.2L-1.6 34.5L0.8 35.5L3.1 36.6L5.3 38L7.3 39.7L9.3 41.3L11.5 42.7L13.5 44.4L15.5 46L17.4 47.8L19.1 49.7M0 52.9L2.4 51.8L4.9 51.1M25.5 66.3L26.7 65.7L27.9 65.3M86.3 16.8L88 18.6L89.8 20.5L90.9 22.8L91.3 25.4L91.8 27.9L94.1 29L96.4 30.3L98.5 31.8L100.5 33.5L102.7 34.9L104.6 36.6L106.7 38.1L107.8 40.3L107.5 42.9L107.6 45.5L107.7 48.1L107.8 50.7L107.8 53.3M50.8 71.5L53.3 71.9L55.9 71.9M30.3 23.5L31 26L33 27.7L34.8 29.5L36.5 31.5L38 33.6L39.7 35.6L41.4 37.5M79.6 60.5L81.7 58.8L84.1 58.3L86.7 58.5M-3.7 77.6L-1.1 77.8L1.5 78.1M86.9 77.8L89.5 78L92 78.6M-6.1 47.1L-3.5 47.5L-1.2 46.4M49.4 80.5L51.8 79.6L54.1 78.4L56.7 78.3M7.7 76.4L8.9 76L10.1 75.6M58.7 23.9L61.1 24.8L63.5 25.8L65.9 26.9L68.3 27.7L70.9 28.2L73.4 28.6L75.9 29.3L78.3 30.3L80.5 31.7L83 32.4L85.2 33.8L87.6 34.9L90.1 35.6L92.6 36.1L94.8 37.5L96.9 39L98.9 40.7L100.6 42.6M89.7 5.6L91.6 7.3L93.8 8.7L95.7 10.4L97.8 11.9L99.7 13.7L101.9 15.1M-7.5 5.3L-5.1 6.4L-2.8 7.6L-0.6 8.9L1.8 9.9L3.9 11.4L6.1 12.8L8.1 14.5L10.3 15.8L12.3 17.5L14 19.4L16 21.1L18.2 22.5L20.2 24.1L22.1 25.9L23.8 27.8L25.7 29.6L27.5 31.4L29.2 33.4M94.6 -6.6L96.8 -5.1L98.8 -3.4L100.7 -1.7L102.4 0.2L104 2.3L105.7 4.3L107.5 6.1L107.8 8.7L107.5 11.3L107.5 12.6M70.2 76.9L72.6 77.8L75 78.9L77.5 79.7M0.7 59.1L3.2 58.5L5.6 57.7M75.6 -8.3L78.2 -8.5L80.7 -7.9L82.9 -6.5L84.9 -4.9L87.2 -3.6L89.5 -2.3L91.6 -0.8L93.5 0.9L95.6 2.4L97.6 4M28.2 1.1L29.9 3.1L31.6 5L33.7 6.5L35.6 8.4L37.5 10.1L39.5 11.7L41.6 13.4L43.8 14.6L46 16L48.1 17.6L50 19.4L51.6 21.4L52.3 23.9M-6.4 -8.3L-3.8 -8.6L-1.2 -8.5L1.4 -8.5L4 -8.5L6.5 -8.2L8.4 -6.4L10.3 -4.6L11.7 -2.4L13.7 -0.7L15.4 1.2M34.2 65.6L36.7 65.4L39.1 64.6L40.3 64.1M-8.5 12.4L-6.8 14.1L-4.6 15.5L-2.4 16.8L-0.4 18.5L1.7 20L4.1 21L6.2 22.6L8.2 24.2M11.4 63.7L14 64.1L16.3 63M92.7 61.3L95.1 62.2L97.5 63.2M10.9 52.3L13.5 52.5L15.2 54.4L16.3 55.1M37.7 42.5L40.1 43.6L41.8 45.4M3.1 65.6L5.6 66.1L7.2 68.2M80.3 37.8L80.4 40.4L81.8 42.5L84.3 43.2L86.7 44L89.1 45.1L91.7 45.2L94.2 45.6M79.9 70.5L82.4 70.9L83.6 71.3M64 72.4L66.5 71.6L68.8 70.5M96.9 19.2L98.9 20.8L101.4 21.4L103.9 22L106.1 23.5L107.6 25.5L107.8 28.1L107.1 30.6M46.3 60.4L48.6 61.3L51.2 61.8M21.9 -8.4L24.4 -8.3L27 -8.4L29.5 -8.5L31.2 -6.5L32.9 -4.5L34.7 -2.6L36.7 -1L38.6 0.7L38.6 2M13.3 27.5L15.6 28.7L17.4 30.5L19.3 32.3L21.2 34L23 36L24.9 37.7M39.9 -8.6L41.8 -6.8L43.7 -5.1L45.7 -3.4L46.2 -2.2M61.8 51.1L64 52.5L66.5 53M71.8 56.1L73.1 56.2L74.4 56.5M-8.4 20.8L-6.3 22.3L-4.1 23.8L-2 25.3L-0.2 27.1L1.3 29.2L2.5 29.6M70.1 64.1L72.6 63.7L74.9 64.6M45 68.6h.01M36.4 73.2L38.8 74.3L41.3 74.7M99.4 49.6L100.4 50.4L101.4 51.3M29.1 72.2L30.4 72.4M103.5 62.9L105.9 64L107.2 64.3M57.7 65.8L60.3 65.8L62.9 66.2L64.1 65.8M-7.6 -2.2L-5.1 -2.3L-2.8 -1.5L-0.8 -0M-5.7 63.9L-4.4 63.9L-3.1 64M-4.2 70.7L-1.8 71.4L0.8 71.6M84.8 64.9L86.1 64.8L87.4 64.9M49.6 -8.2L51.1 -6.1L51.5 -4.9M32.5 78.8L34.7 80L37.1 80.9M37.8 58.4L40.3 58L41.2 57.1M-8 58.2L-5.5 57.6L-4.9 56.5M63.2 79L64.5 79M36.9 50.4h.01M21 59L21.7 60L22.8 60.7M103.9 70.3L105.2 70.4L106.4 70.7M31.5 38.9L32.2 40" stroke="#f4eef3" stroke-width="1"/>
<path d="M97.1 55.6L99.2 57.1L100.5 57.2M-5.9 39.6L-4.7 40.1L-3.5 40.6" stroke="#f4eef3" stroke-width="1"/>
<path d="M3.3 43.7L4.3 44.5L5.4 45.1M70.6 13.6L73 14.6L75.5 15.3M91.2 13.5L92.2 14.4M46.5 41.9L47.4 42.8L48.7 43M17.6 -5.1L18.2 -4L19.4 -3.4M74.6 3.5L75.9 3.8M69.9 33.8L72.5 33.9L74.4 35.6M27.9 59.3L30.2 60.3L31.4 61M39.4 26.8L40.3 27.7M54.9 17.1L55.9 17.9L56.7 19M66.1 11.7h.01M102.4 8.6h.01M101 27L102.1 27.7M79.3 17.7L80.4 17L81.2 18.1M81.7 76.3h.01" stroke="#f4eef3" stroke-width="0.5"/>
<path d="M10.2 57L10.8 58.1L12 58.6M23 71.9L24.2 71.5M59.4 29.7L60.6 30.2M61.9 -0.9L63.1 -0.2M46.3 73.2L47.1 74.2M3.8 5.3L4.7 6.3M73.9 70.2L75.1 70.4M64.5 31.7L65.8 31.8M49.1 66.1L50.1 67L51.4 66.6M17.5 5.9L18.7 6.5L19.2 7.7M77.4 45.3L78.6 45.9M83.7 6.4L84.9 6.7M56.6 48.5L57.9 48.2M91.7 56.4h.01M50.1 12.9L51.2 13.7L52.2 14.5M80 5.2h.01M101.1 75.5L101.8 74.4M68.6 1.4L69.4 2.4M23.3 -3.6L24 -2.5L24.2 -1.2M35.9 22.8L36.4 24M75.5 73.8L76.6 74.5M53.4 45.1L54.1 46.2" stroke="#f4eef3" stroke-width="0.4"/>
</g></g>
<rect width="99.2" height="74.1" filter="url(#gp12)"/>
<rect width="99.2" height="74.1" fill="url(#v12)"/>
<polygon points="0,0 25,0 21,2.5 13,5 7,8.5 2,12.5 0,13" fill="#e3e1df" />
<path d="M25 0.6L21 3 13 5.6 7 9 1 13.4" fill="none" stroke="#cf9db4" stroke-width="1.0" stroke-linecap="round" stroke-linejoin="round" />
<polygon points="99.2,62 99.2,74.1 86,74.1 90,70 95,66.5" fill="#dcdde2" /></g></g>
<g transform="translate(134.7,602.2)" clip-path="url(#tc)"><g filter="url(#bl05)"><rect width="99.2" height="74.1" fill="#c998b8"/>
<g fill="none" stroke-linecap="round" stroke-linejoin="round">
<path d="M98 7.3L100.4 6.2L102.7 5M15.5 67.1L16.3 69.6L17.1 72.1L18.3 74.4L19.9 76.4L21.2 78.7L22.3 81L24.3 82.6L26.9 82.6M24.2 56.9L25.7 59L27.6 60.8L30 61.6L32.3 62.9L34.7 63.7M63.7 71.8L66.2 72.5L68.7 73L71.3 73.1M-4.9 72.1L-3.2 74.1L-1.5 76L0.8 77.4L2.9 78.8L5 80.4L6.6 82.5L9.1 82.6L11.7 82.7L14.3 82.7M-8.6 16.9L-8.4 19.5L-6.8 21.5L-5 23.4L-3.3 25.4L-1.5 27.3L-0 29.4L1.5 31.5L3.3 33.4L5 35.4L6.6 37.4L8.4 39.3L10.3 41M31.7 -8.5L32.4 -6L32.7 -3.4L32.6 -0.8L32.8 1.8L33.2 4.3L33.1 6.9L33.4 9.5L33.7 12.1L33.8 14.7L33.2 17.2L33 19.8L32.8 21M80.3 -8.2L77.8 -8.7L75.2 -8.4L72.6 -8.4L70 -8.7L67.5 -8.2L66.1 -6.1L65.7 -3.5L65.8 -0.9L66.1 1.6L65.8 4.2L65.8 6.8L65.1 9.3L64.7 11.9L64.7 14.5L64.2 17L64.1 19.6M34.3 70.8L36.8 70.2L39.2 69.1L41.6 68.2L43.7 66.7M50.9 67.3L53.5 67.5L56 68.3L58.4 68.9M95.4 69.4L97.2 71.3L99.2 72.9L101.4 74.3M22 7.6L23 10L24.1 12.4L25.4 14.6L26.4 17L26.7 19.6L26.7 22.2M87.6 75.8L90.2 76.1L92.7 76.9L95 78M80.6 1.3L82.9 2.5L85.1 3.9L87.5 4.9L90 5.4M65.6 61L67.9 62.2L70.2 63.4L72.7 64.1L75.3 64.2M92.4 45.3L94.9 44.6L97.5 44.1L100 43.7M79.3 18.9L81.8 18.2L84.2 17.2L86.6 16.1L89 15.2L91.4 14.3M56.4 -5.6L56.4 -3L56.8 -0.4L57.3 2.1L57.8 4.7L58.1 7.3L58.5 9.8L58.7 12.4L58 14.9L57.5 17.5L57.1 20L56.9 22.6L56.6 25.2L56.9 27.8L57 30.4L57.6 32.9M85.8 -3.2L88.2 -2L90.5 -1L92.9 0.1M39.3 -8.7L39.3 -6.1L39.4 -3.5L39.5 -0.9L38.8 1.5L39.3 4.1L39.6 6.6L40 9.1L40.4 11.7L40.7 14.3L40.8 15.6M82.6 32.5L85.2 32.8L87.7 33L90.3 32.9M71.6 26.5L74.1 26L76.6 25.2L79.2 25.2M88.9 64.7L91.3 63.8L93.8 63.6L96.2 62.4L98.5 61.2M12.4 15.2L13.7 17.4L15.5 19.3L16.9 21.5L18.6 23.5L20.4 25.4L22 27.3L23.7 29.3L25.4 31.3L27.6 32.7M9.6 -8.5L12.2 -8.6L14.5 -7.5L16.4 -5.8L18 -3.7L19.4 -1.5L21.3 0.2L21.8 1.5M11.4 -2.3L12.7 -0.1L14.1 2L15.6 4.1L15.6 6.7L15.3 9.2L16.3 10.1M2.2 6.8L2.6 9.3L3 11.9L3.5 14.5L4.1 17L4.6 19.5L5.4 22L6.8 24.2L8.6 26.1L10 28.2L11.9 30.1M46.7 13.3L47 15.9L46.8 18.5L46.9 21.1L47 23.7L46.9 26.2L47.2 28.8L47.3 31.4L47.2 34L47.5 36.6L48.1 39.1L48.8 41.6L49.2 44.2L49.1 46.8L48.9 49.4L48.6 51.9L48.3 54.5L48.2 57.1L46.8 59.3L44.4 60L41.8 59.6M-5.4 43.3L-3.5 45.1L-1.7 46.9L0.1 48.8L1.5 51L2.6 53.4L3.5 55.8L4.2 58.3L5.3 60.6L6.7 62.8L7.8 65.2L8.7 67.6L9.5 70L10.1 72.6M64.5 25.6L64.4 27.9L64.4 30.5L64 33.1L63.4 35.6L62.1 37.9L61.6 40.4L62.3 42.9L63.2 45.3L63.5 47.9L63.9 50.5L64.1 53L63.2 55.5L60.9 56.7L58.4 57.5L56.2 58.8L53.8 59.6L53.1 60.7M30 38.6L29.9 41.2L30.4 43.7L30.8 46.3L30.9 48.9L31.1 51.4L31 54L30.4 55.2M77.3 73.4L79.3 72L81.7 71.1L84.2 70.3L85.5 70.2M-3.1 -8.6L-0.7 -7.9L0.9 -5.9L2.4 -3.8L3.6 -1.5L4.8 0.8L6.7 2.5L8 4.8L8.8 7.2L8.8 9.8M17.8 58.5L19.2 60.6L20.5 62.9L22.1 64.9L22.8 67.4L23.7 69.8L25 72.1L26.3 74.4L27.7 76.5L30.2 77.3M100.9 15.3L103.3 16.3L105.8 17.2L107.7 18.6M-8.5 -5.8L-7.7 -3.5L-6.8 -1L-6.1 1.5L-5 3.8L-4.6 6.3L-3.8 8.8L-3.3 11.4L-3 13.9L-2.7 15.2M70.8 13.2L70.6 15.7L70.6 18.3L72.4 20.2M98.4 32.3L101 32.5L103.5 32.1L106.1 32.3L107.4 32.3M77.6 58.1L79.8 59.6L82 60.7L84.3 60.6L86.3 58.8M54.7 38.3L55.1 40.5L55.6 43.1L56.5 45.5L56.9 48.1L56.6 50.6L54.7 52.3M19.4 44L16.9 43.5L14.9 45L15.1 47.5L16.9 49.4L18.7 51.3L19.3 52.4M48.2 -8.2L48.4 -5.7L48.9 -3.1L49.3 -0.5L49.6 2L49.5 4.6L48.8 7.1M-8 49.5L-8.6 52.1L-7.1 54.2L-6 56.6L-5.2 59L-4 61.3L-3.2 63.8L-3.1 66.4M80 45.3L82.1 46.8L84.5 47.8L86.6 49.2L89 50.4L91.1 51.8M99.5 -3.4L101.9 -4.3L104.3 -5.5L106.7 -6.4L107.8 -7.1M-8.7 29.9L-8.3 32.4L-6.8 34.3L-4.7 35.8L-2.6 37.3L-0.6 38.9L1.2 40.8L2.9 42.7L4.7 44.7L6.4 46.6L8.2 48.4M98.4 55.2L101 55.4L103.2 56.8L105.5 57.9L107.7 59.1M81.3 38.7L83.8 39.6L85.9 41.2L86.8 42M17.7 31.9L18.9 34.2L20.9 35.8L22.7 37.7L23.2 38.9M69.3 45.4L71.6 46.2L74 47.2L75.3 49.5M89.1 21.9L91.4 22L94 22.3L96.6 22.4L99.2 22.8L101.7 23.6M72.3 6L74.9 6.5L77.4 7M38.7 77.4L41.1 76.4L43.4 75.4L45.8 74.4M40 22L38.8 24.3L38.5 26.9L38.7 29.5L39.1 32L39.7 34.5L40.1 37.1L40.6 39.6L41 42.2L41.7 44.7L42.2 47.2L42.3 49.8L41.9 52.3L41.4 53.5M69.5 38.8L71.9 38.2L74.4 37.8L75.5 37.1M10.6 54.4L11.1 56.9L11.6 59.3M72 81.6L74.3 80.3L76.7 79.7L79.3 79.3M72.4 -1.5L73.7 -1.1L75 -1.1M102.3 66.9L104.5 68.4L107 68.9M60.7 80.3L63.3 80L65.7 79.2M69.9 55.5L70.8 56.5M51.1 77.3L53.2 78.8L54.6 80.9L55 82.1M76.9 13.2h.01M30.1 27.2h.01M3.1 70L3.7 71.2M23.1 -7.7L24.7 -5.7L26.2 -3.6M102.7 38.3L105.3 38.8L107.9 38.6M103.5 48.8L105.9 47.9L107.2 47.5" stroke="#a68aba" stroke-width="6.7"/>
<path d="M24.6 47.1L24.5 48.4L24.9 49.7M92.4 38.9L94.9 38.2L96.2 38.3M82.8 11.2L83.8 10.5" stroke="#a68aba" stroke-width="6.7"/>
<path d="M84.7 25.4L85.9 25.9M56 74.2L57.3 74.5L57.9 75.6M53.1 11.8L52.5 14.3L52.3 16.9M33.7 31.9L33.1 33L32.9 34.3M79.6 52.9L80.6 53.6L81.9 53.9M36.3 46.5L37.1 49L36.6 51.4M19.1 15.3L19.9 16.3M69.3 33.4L70.5 32.7L71.7 32.3M91.1 27.8L92.3 27.4L93.6 27.4M80.4 65.8h.01M64.4 66.3L65.5 67L66.8 67.3M27.1 3.6L26.9 6.2L27.8 7.1M59 63.4L60.1 62.6M13.7 36.7L14.4 37.8L15.5 38.5M35.3 40.9L35.6 42.2M35.4 57.3L35.6 58.6M92.4 57.4L93.4 56.5M28.3 66.6L29 67.7M76.5 31L77.7 30.7" stroke="#a68aba" stroke-width="5.1"/>
<path d="M98.2 2L99.4 1.6M52.2 32.1L52 33.4M44.6 0.2L44.8 1.5L44.6 2.8M-1.2 -0.6L-0.6 0.6M51.7 22.9L51.8 24.2L52 25.5M29 11.7h.01M1.7 63.9L1.9 65.2M68.2 23h.01M95.3 11.8L96.6 11.8M93.1 9.5L93.5 8.3M97.4 49.6L98.6 49M68.9 50.8h.01M88.5 10.4L89.7 10.1M21.5 19.7h.01M72 68.6L73.3 69M49.7 71.7L50.8 72.4L52 72.9M39.2 64h.01M97.3 27.6L98.6 27.6M-0.5 20.7L0.4 21.7L0.6 23M9.2 19L9.8 20.1M47 69.9h.01M90 71.5L91.3 71.3M95 17.5L95.9 16.6" stroke="#a68aba" stroke-width="3.8"/>
<path d="M98 7.3L100.4 6.2L102.7 5M15.5 67.1L16.3 69.6L17.1 72.1L18.3 74.4L19.9 76.4L21.2 78.7L22.3 81L24.3 82.6L26.9 82.6M24.2 56.9L25.7 59L27.6 60.8L30 61.6L32.3 62.9L34.7 63.7M63.7 71.8L66.2 72.5L68.7 73L71.3 73.1M-4.9 72.1L-3.2 74.1L-1.5 76L0.8 77.4L2.9 78.8L5 80.4L6.6 82.5L9.1 82.6L11.7 82.7L14.3 82.7M-8.6 16.9L-8.4 19.5L-6.8 21.5L-5 23.4L-3.3 25.4L-1.5 27.3L-0 29.4L1.5 31.5L3.3 33.4L5 35.4L6.6 37.4L8.4 39.3L10.3 41M31.7 -8.5L32.4 -6L32.7 -3.4L32.6 -0.8L32.8 1.8L33.2 4.3L33.1 6.9L33.4 9.5L33.7 12.1L33.8 14.7L33.2 17.2L33 19.8L32.8 21M80.3 -8.2L77.8 -8.7L75.2 -8.4L72.6 -8.4L70 -8.7L67.5 -8.2L66.1 -6.1L65.7 -3.5L65.8 -0.9L66.1 1.6L65.8 4.2L65.8 6.8L65.1 9.3L64.7 11.9L64.7 14.5L64.2 17L64.1 19.6M34.3 70.8L36.8 70.2L39.2 69.1L41.6 68.2L43.7 66.7M50.9 67.3L53.5 67.5L56 68.3L58.4 68.9M95.4 69.4L97.2 71.3L99.2 72.9L101.4 74.3M22 7.6L23 10L24.1 12.4L25.4 14.6L26.4 17L26.7 19.6L26.7 22.2M87.6 75.8L90.2 76.1L92.7 76.9L95 78M80.6 1.3L82.9 2.5L85.1 3.9L87.5 4.9L90 5.4M65.6 61L67.9 62.2L70.2 63.4L72.7 64.1L75.3 64.2M92.4 45.3L94.9 44.6L97.5 44.1L100 43.7M79.3 18.9L81.8 18.2L84.2 17.2L86.6 16.1L89 15.2L91.4 14.3M56.4 -5.6L56.4 -3L56.8 -0.4L57.3 2.1L57.8 4.7L58.1 7.3L58.5 9.8L58.7 12.4L58 14.9L57.5 17.5L57.1 20L56.9 22.6L56.6 25.2L56.9 27.8L57 30.4L57.6 32.9M85.8 -3.2L88.2 -2L90.5 -1L92.9 0.1M39.3 -8.7L39.3 -6.1L39.4 -3.5L39.5 -0.9L38.8 1.5L39.3 4.1L39.6 6.6L40 9.1L40.4 11.7L40.7 14.3L40.8 15.6M82.6 32.5L85.2 32.8L87.7 33L90.3 32.9M71.6 26.5L74.1 26L76.6 25.2L79.2 25.2M88.9 64.7L91.3 63.8L93.8 63.6L96.2 62.4L98.5 61.2M12.4 15.2L13.7 17.4L15.5 19.3L16.9 21.5L18.6 23.5L20.4 25.4L22 27.3L23.7 29.3L25.4 31.3L27.6 32.7M9.6 -8.5L12.2 -8.6L14.5 -7.5L16.4 -5.8L18 -3.7L19.4 -1.5L21.3 0.2L21.8 1.5M11.4 -2.3L12.7 -0.1L14.1 2L15.6 4.1L15.6 6.7L15.3 9.2L16.3 10.1M2.2 6.8L2.6 9.3L3 11.9L3.5 14.5L4.1 17L4.6 19.5L5.4 22L6.8 24.2L8.6 26.1L10 28.2L11.9 30.1M46.7 13.3L47 15.9L46.8 18.5L46.9 21.1L47 23.7L46.9 26.2L47.2 28.8L47.3 31.4L47.2 34L47.5 36.6L48.1 39.1L48.8 41.6L49.2 44.2L49.1 46.8L48.9 49.4L48.6 51.9L48.3 54.5L48.2 57.1L46.8 59.3L44.4 60L41.8 59.6M-5.4 43.3L-3.5 45.1L-1.7 46.9L0.1 48.8L1.5 51L2.6 53.4L3.5 55.8L4.2 58.3L5.3 60.6L6.7 62.8L7.8 65.2L8.7 67.6L9.5 70L10.1 72.6M64.5 25.6L64.4 27.9L64.4 30.5L64 33.1L63.4 35.6L62.1 37.9L61.6 40.4L62.3 42.9L63.2 45.3L63.5 47.9L63.9 50.5L64.1 53L63.2 55.5L60.9 56.7L58.4 57.5L56.2 58.8L53.8 59.6L53.1 60.7M30 38.6L29.9 41.2L30.4 43.7L30.8 46.3L30.9 48.9L31.1 51.4L31 54L30.4 55.2M77.3 73.4L79.3 72L81.7 71.1L84.2 70.3L85.5 70.2M-3.1 -8.6L-0.7 -7.9L0.9 -5.9L2.4 -3.8L3.6 -1.5L4.8 0.8L6.7 2.5L8 4.8L8.8 7.2L8.8 9.8M17.8 58.5L19.2 60.6L20.5 62.9L22.1 64.9L22.8 67.4L23.7 69.8L25 72.1L26.3 74.4L27.7 76.5L30.2 77.3M100.9 15.3L103.3 16.3L105.8 17.2L107.7 18.6M-8.5 -5.8L-7.7 -3.5L-6.8 -1L-6.1 1.5L-5 3.8L-4.6 6.3L-3.8 8.8L-3.3 11.4L-3 13.9L-2.7 15.2M70.8 13.2L70.6 15.7L70.6 18.3L72.4 20.2M98.4 32.3L101 32.5L103.5 32.1L106.1 32.3L107.4 32.3M77.6 58.1L79.8 59.6L82 60.7L84.3 60.6L86.3 58.8M54.7 38.3L55.1 40.5L55.6 43.1L56.5 45.5L56.9 48.1L56.6 50.6L54.7 52.3M19.4 44L16.9 43.5L14.9 45L15.1 47.5L16.9 49.4L18.7 51.3L19.3 52.4M48.2 -8.2L48.4 -5.7L48.9 -3.1L49.3 -0.5L49.6 2L49.5 4.6L48.8 7.1M-8 49.5L-8.6 52.1L-7.1 54.2L-6 56.6L-5.2 59L-4 61.3L-3.2 63.8L-3.1 66.4M80 45.3L82.1 46.8L84.5 47.8L86.6 49.2L89 50.4L91.1 51.8M99.5 -3.4L101.9 -4.3L104.3 -5.5L106.7 -6.4L107.8 -7.1M-8.7 29.9L-8.3 32.4L-6.8 34.3L-4.7 35.8L-2.6 37.3L-0.6 38.9L1.2 40.8L2.9 42.7L4.7 44.7L6.4 46.6L8.2 48.4M98.4 55.2L101 55.4L103.2 56.8L105.5 57.9L107.7 59.1M81.3 38.7L83.8 39.6L85.9 41.2L86.8 42M17.7 31.9L18.9 34.2L20.9 35.8L22.7 37.7L23.2 38.9M69.3 45.4L71.6 46.2L74 47.2L75.3 49.5M89.1 21.9L91.4 22L94 22.3L96.6 22.4L99.2 22.8L101.7 23.6M72.3 6L74.9 6.5L77.4 7M38.7 77.4L41.1 76.4L43.4 75.4L45.8 74.4M40 22L38.8 24.3L38.5 26.9L38.7 29.5L39.1 32L39.7 34.5L40.1 37.1L40.6 39.6L41 42.2L41.7 44.7L42.2 47.2L42.3 49.8L41.9 52.3L41.4 53.5M69.5 38.8L71.9 38.2L74.4 37.8L75.5 37.1M10.6 54.4L11.1 56.9L11.6 59.3M72 81.6L74.3 80.3L76.7 79.7L79.3 79.3M72.4 -1.5L73.7 -1.1L75 -1.1M102.3 66.9L104.5 68.4L107 68.9M60.7 80.3L63.3 80L65.7 79.2M69.9 55.5L70.8 56.5M51.1 77.3L53.2 78.8L54.6 80.9L55 82.1M76.9 13.2h.01M30.1 27.2h.01M3.1 70L3.7 71.2M23.1 -7.7L24.7 -5.7L26.2 -3.6M102.7 38.3L105.3 38.8L107.9 38.6M103.5 48.8L105.9 47.9L107.2 47.5" stroke="#cfbbd9" stroke-width="5.5"/>
<path d="M24.6 47.1L24.5 48.4L24.9 49.7M92.4 38.9L94.9 38.2L96.2 38.3M82.8 11.2L83.8 10.5" stroke="#cfbbd9" stroke-width="5.5"/>
<path d="M84.7 25.4L85.9 25.9M56 74.2L57.3 74.5L57.9 75.6M53.1 11.8L52.5 14.3L52.3 16.9M33.7 31.9L33.1 33L32.9 34.3M79.6 52.9L80.6 53.6L81.9 53.9M36.3 46.5L37.1 49L36.6 51.4M19.1 15.3L19.9 16.3M69.3 33.4L70.5 32.7L71.7 32.3M91.1 27.8L92.3 27.4L93.6 27.4M80.4 65.8h.01M64.4 66.3L65.5 67L66.8 67.3M27.1 3.6L26.9 6.2L27.8 7.1M59 63.4L60.1 62.6M13.7 36.7L14.4 37.8L15.5 38.5M35.3 40.9L35.6 42.2M35.4 57.3L35.6 58.6M92.4 57.4L93.4 56.5M28.3 66.6L29 67.7M76.5 31L77.7 30.7" stroke="#cfbbd9" stroke-width="3.9"/>
<path d="M98.2 2L99.4 1.6M52.2 32.1L52 33.4M44.6 0.2L44.8 1.5L44.6 2.8M-1.2 -0.6L-0.6 0.6M51.7 22.9L51.8 24.2L52 25.5M29 11.7h.01M1.7 63.9L1.9 65.2M68.2 23h.01M95.3 11.8L96.6 11.8M93.1 9.5L93.5 8.3M97.4 49.6L98.6 49M68.9 50.8h.01M88.5 10.4L89.7 10.1M21.5 19.7h.01M72 68.6L73.3 69M49.7 71.7L50.8 72.4L52 72.9M39.2 64h.01M97.3 27.6L98.6 27.6M-0.5 20.7L0.4 21.7L0.6 23M9.2 19L9.8 20.1M47 69.9h.01M90 71.5L91.3 71.3M95 17.5L95.9 16.6" stroke="#cfbbd9" stroke-width="2.6"/>
<g filter="url(#bl08)">
<path d="M98 7.3L100.4 6.2L102.7 5M15.5 67.1L16.3 69.6L17.1 72.1L18.3 74.4L19.9 76.4L21.2 78.7L22.3 81L24.3 82.6L26.9 82.6M24.2 56.9L25.7 59L27.6 60.8L30 61.6L32.3 62.9L34.7 63.7M63.7 71.8L66.2 72.5L68.7 73L71.3 73.1M-4.9 72.1L-3.2 74.1L-1.5 76L0.8 77.4L2.9 78.8L5 80.4L6.6 82.5L9.1 82.6L11.7 82.7L14.3 82.7M-8.6 16.9L-8.4 19.5L-6.8 21.5L-5 23.4L-3.3 25.4L-1.5 27.3L-0 29.4L1.5 31.5L3.3 33.4L5 35.4L6.6 37.4L8.4 39.3L10.3 41M31.7 -8.5L32.4 -6L32.7 -3.4L32.6 -0.8L32.8 1.8L33.2 4.3L33.1 6.9L33.4 9.5L33.7 12.1L33.8 14.7L33.2 17.2L33 19.8L32.8 21M80.3 -8.2L77.8 -8.7L75.2 -8.4L72.6 -8.4L70 -8.7L67.5 -8.2L66.1 -6.1L65.7 -3.5L65.8 -0.9L66.1 1.6L65.8 4.2L65.8 6.8L65.1 9.3L64.7 11.9L64.7 14.5L64.2 17L64.1 19.6M34.3 70.8L36.8 70.2L39.2 69.1L41.6 68.2L43.7 66.7M50.9 67.3L53.5 67.5L56 68.3L58.4 68.9M95.4 69.4L97.2 71.3L99.2 72.9L101.4 74.3M22 7.6L23 10L24.1 12.4L25.4 14.6L26.4 17L26.7 19.6L26.7 22.2M87.6 75.8L90.2 76.1L92.7 76.9L95 78M80.6 1.3L82.9 2.5L85.1 3.9L87.5 4.9L90 5.4M65.6 61L67.9 62.2L70.2 63.4L72.7 64.1L75.3 64.2M92.4 45.3L94.9 44.6L97.5 44.1L100 43.7M79.3 18.9L81.8 18.2L84.2 17.2L86.6 16.1L89 15.2L91.4 14.3M56.4 -5.6L56.4 -3L56.8 -0.4L57.3 2.1L57.8 4.7L58.1 7.3L58.5 9.8L58.7 12.4L58 14.9L57.5 17.5L57.1 20L56.9 22.6L56.6 25.2L56.9 27.8L57 30.4L57.6 32.9M85.8 -3.2L88.2 -2L90.5 -1L92.9 0.1M39.3 -8.7L39.3 -6.1L39.4 -3.5L39.5 -0.9L38.8 1.5L39.3 4.1L39.6 6.6L40 9.1L40.4 11.7L40.7 14.3L40.8 15.6M82.6 32.5L85.2 32.8L87.7 33L90.3 32.9M71.6 26.5L74.1 26L76.6 25.2L79.2 25.2M88.9 64.7L91.3 63.8L93.8 63.6L96.2 62.4L98.5 61.2M12.4 15.2L13.7 17.4L15.5 19.3L16.9 21.5L18.6 23.5L20.4 25.4L22 27.3L23.7 29.3L25.4 31.3L27.6 32.7M9.6 -8.5L12.2 -8.6L14.5 -7.5L16.4 -5.8L18 -3.7L19.4 -1.5L21.3 0.2L21.8 1.5M11.4 -2.3L12.7 -0.1L14.1 2L15.6 4.1L15.6 6.7L15.3 9.2L16.3 10.1M2.2 6.8L2.6 9.3L3 11.9L3.5 14.5L4.1 17L4.6 19.5L5.4 22L6.8 24.2L8.6 26.1L10 28.2L11.9 30.1M46.7 13.3L47 15.9L46.8 18.5L46.9 21.1L47 23.7L46.9 26.2L47.2 28.8L47.3 31.4L47.2 34L47.5 36.6L48.1 39.1L48.8 41.6L49.2 44.2L49.1 46.8L48.9 49.4L48.6 51.9L48.3 54.5L48.2 57.1L46.8 59.3L44.4 60L41.8 59.6M-5.4 43.3L-3.5 45.1L-1.7 46.9L0.1 48.8L1.5 51L2.6 53.4L3.5 55.8L4.2 58.3L5.3 60.6L6.7 62.8L7.8 65.2L8.7 67.6L9.5 70L10.1 72.6M64.5 25.6L64.4 27.9L64.4 30.5L64 33.1L63.4 35.6L62.1 37.9L61.6 40.4L62.3 42.9L63.2 45.3L63.5 47.9L63.9 50.5L64.1 53L63.2 55.5L60.9 56.7L58.4 57.5L56.2 58.8L53.8 59.6L53.1 60.7M30 38.6L29.9 41.2L30.4 43.7L30.8 46.3L30.9 48.9L31.1 51.4L31 54L30.4 55.2M77.3 73.4L79.3 72L81.7 71.1L84.2 70.3L85.5 70.2M-3.1 -8.6L-0.7 -7.9L0.9 -5.9L2.4 -3.8L3.6 -1.5L4.8 0.8L6.7 2.5L8 4.8L8.8 7.2L8.8 9.8M17.8 58.5L19.2 60.6L20.5 62.9L22.1 64.9L22.8 67.4L23.7 69.8L25 72.1L26.3 74.4L27.7 76.5L30.2 77.3M100.9 15.3L103.3 16.3L105.8 17.2L107.7 18.6M-8.5 -5.8L-7.7 -3.5L-6.8 -1L-6.1 1.5L-5 3.8L-4.6 6.3L-3.8 8.8L-3.3 11.4L-3 13.9L-2.7 15.2M70.8 13.2L70.6 15.7L70.6 18.3L72.4 20.2M98.4 32.3L101 32.5L103.5 32.1L106.1 32.3L107.4 32.3M77.6 58.1L79.8 59.6L82 60.7L84.3 60.6L86.3 58.8M54.7 38.3L55.1 40.5L55.6 43.1L56.5 45.5L56.9 48.1L56.6 50.6L54.7 52.3M19.4 44L16.9 43.5L14.9 45L15.1 47.5L16.9 49.4L18.7 51.3L19.3 52.4M48.2 -8.2L48.4 -5.7L48.9 -3.1L49.3 -0.5L49.6 2L49.5 4.6L48.8 7.1M-8 49.5L-8.6 52.1L-7.1 54.2L-6 56.6L-5.2 59L-4 61.3L-3.2 63.8L-3.1 66.4M80 45.3L82.1 46.8L84.5 47.8L86.6 49.2L89 50.4L91.1 51.8M99.5 -3.4L101.9 -4.3L104.3 -5.5L106.7 -6.4L107.8 -7.1M-8.7 29.9L-8.3 32.4L-6.8 34.3L-4.7 35.8L-2.6 37.3L-0.6 38.9L1.2 40.8L2.9 42.7L4.7 44.7L6.4 46.6L8.2 48.4M98.4 55.2L101 55.4L103.2 56.8L105.5 57.9L107.7 59.1M81.3 38.7L83.8 39.6L85.9 41.2L86.8 42M17.7 31.9L18.9 34.2L20.9 35.8L22.7 37.7L23.2 38.9M69.3 45.4L71.6 46.2L74 47.2L75.3 49.5M89.1 21.9L91.4 22L94 22.3L96.6 22.4L99.2 22.8L101.7 23.6M72.3 6L74.9 6.5L77.4 7M38.7 77.4L41.1 76.4L43.4 75.4L45.8 74.4M40 22L38.8 24.3L38.5 26.9L38.7 29.5L39.1 32L39.7 34.5L40.1 37.1L40.6 39.6L41 42.2L41.7 44.7L42.2 47.2L42.3 49.8L41.9 52.3L41.4 53.5M69.5 38.8L71.9 38.2L74.4 37.8L75.5 37.1M10.6 54.4L11.1 56.9L11.6 59.3M72 81.6L74.3 80.3L76.7 79.7L79.3 79.3M72.4 -1.5L73.7 -1.1L75 -1.1M102.3 66.9L104.5 68.4L107 68.9M60.7 80.3L63.3 80L65.7 79.2M69.9 55.5L70.8 56.5M51.1 77.3L53.2 78.8L54.6 80.9L55 82.1M76.9 13.2h.01M30.1 27.2h.01M3.1 70L3.7 71.2M23.1 -7.7L24.7 -5.7L26.2 -3.6M102.7 38.3L105.3 38.8L107.9 38.6M103.5 48.8L105.9 47.9L107.2 47.5" stroke="#e9dfea" stroke-width="2.6" opacity="0.75"/>
<path d="M24.6 47.1L24.5 48.4L24.9 49.7M92.4 38.9L94.9 38.2L96.2 38.3M82.8 11.2L83.8 10.5" stroke="#e9dfea" stroke-width="2.6" opacity="0.75"/>
<path d="M84.7 25.4L85.9 25.9M56 74.2L57.3 74.5L57.9 75.6M53.1 11.8L52.5 14.3L52.3 16.9M33.7 31.9L33.1 33L32.9 34.3M79.6 52.9L80.6 53.6L81.9 53.9M36.3 46.5L37.1 49L36.6 51.4M19.1 15.3L19.9 16.3M69.3 33.4L70.5 32.7L71.7 32.3M91.1 27.8L92.3 27.4L93.6 27.4M80.4 65.8h.01M64.4 66.3L65.5 67L66.8 67.3M27.1 3.6L26.9 6.2L27.8 7.1M59 63.4L60.1 62.6M13.7 36.7L14.4 37.8L15.5 38.5M35.3 40.9L35.6 42.2M35.4 57.3L35.6 58.6M92.4 57.4L93.4 56.5M28.3 66.6L29 67.7M76.5 31L77.7 30.7" stroke="#e9dfea" stroke-width="2.1" opacity="0.75"/>
<path d="M98.2 2L99.4 1.6M52.2 32.1L52 33.4M44.6 0.2L44.8 1.5L44.6 2.8M-1.2 -0.6L-0.6 0.6M51.7 22.9L51.8 24.2L52 25.5M29 11.7h.01M1.7 63.9L1.9 65.2M68.2 23h.01M95.3 11.8L96.6 11.8M93.1 9.5L93.5 8.3M97.4 49.6L98.6 49M68.9 50.8h.01M88.5 10.4L89.7 10.1M21.5 19.7h.01M72 68.6L73.3 69M49.7 71.7L50.8 72.4L52 72.9M39.2 64h.01M97.3 27.6L98.6 27.6M-0.5 20.7L0.4 21.7L0.6 23M9.2 19L9.8 20.1M47 69.9h.01M90 71.5L91.3 71.3M95 17.5L95.9 16.6" stroke="#e9dfea" stroke-width="1.7" opacity="0.75"/>
<path d="M98 7.3L100.4 6.2L102.7 5M15.5 67.1L16.3 69.6L17.1 72.1L18.3 74.4L19.9 76.4L21.2 78.7L22.3 81L24.3 82.6L26.9 82.6M24.2 56.9L25.7 59L27.6 60.8L30 61.6L32.3 62.9L34.7 63.7M63.7 71.8L66.2 72.5L68.7 73L71.3 73.1M-4.9 72.1L-3.2 74.1L-1.5 76L0.8 77.4L2.9 78.8L5 80.4L6.6 82.5L9.1 82.6L11.7 82.7L14.3 82.7M-8.6 16.9L-8.4 19.5L-6.8 21.5L-5 23.4L-3.3 25.4L-1.5 27.3L-0 29.4L1.5 31.5L3.3 33.4L5 35.4L6.6 37.4L8.4 39.3L10.3 41M31.7 -8.5L32.4 -6L32.7 -3.4L32.6 -0.8L32.8 1.8L33.2 4.3L33.1 6.9L33.4 9.5L33.7 12.1L33.8 14.7L33.2 17.2L33 19.8L32.8 21M80.3 -8.2L77.8 -8.7L75.2 -8.4L72.6 -8.4L70 -8.7L67.5 -8.2L66.1 -6.1L65.7 -3.5L65.8 -0.9L66.1 1.6L65.8 4.2L65.8 6.8L65.1 9.3L64.7 11.9L64.7 14.5L64.2 17L64.1 19.6M34.3 70.8L36.8 70.2L39.2 69.1L41.6 68.2L43.7 66.7M50.9 67.3L53.5 67.5L56 68.3L58.4 68.9M95.4 69.4L97.2 71.3L99.2 72.9L101.4 74.3M22 7.6L23 10L24.1 12.4L25.4 14.6L26.4 17L26.7 19.6L26.7 22.2M87.6 75.8L90.2 76.1L92.7 76.9L95 78M80.6 1.3L82.9 2.5L85.1 3.9L87.5 4.9L90 5.4M65.6 61L67.9 62.2L70.2 63.4L72.7 64.1L75.3 64.2M92.4 45.3L94.9 44.6L97.5 44.1L100 43.7M79.3 18.9L81.8 18.2L84.2 17.2L86.6 16.1L89 15.2L91.4 14.3M56.4 -5.6L56.4 -3L56.8 -0.4L57.3 2.1L57.8 4.7L58.1 7.3L58.5 9.8L58.7 12.4L58 14.9L57.5 17.5L57.1 20L56.9 22.6L56.6 25.2L56.9 27.8L57 30.4L57.6 32.9M85.8 -3.2L88.2 -2L90.5 -1L92.9 0.1M39.3 -8.7L39.3 -6.1L39.4 -3.5L39.5 -0.9L38.8 1.5L39.3 4.1L39.6 6.6L40 9.1L40.4 11.7L40.7 14.3L40.8 15.6M82.6 32.5L85.2 32.8L87.7 33L90.3 32.9M71.6 26.5L74.1 26L76.6 25.2L79.2 25.2M88.9 64.7L91.3 63.8L93.8 63.6L96.2 62.4L98.5 61.2M12.4 15.2L13.7 17.4L15.5 19.3L16.9 21.5L18.6 23.5L20.4 25.4L22 27.3L23.7 29.3L25.4 31.3L27.6 32.7M9.6 -8.5L12.2 -8.6L14.5 -7.5L16.4 -5.8L18 -3.7L19.4 -1.5L21.3 0.2L21.8 1.5M11.4 -2.3L12.7 -0.1L14.1 2L15.6 4.1L15.6 6.7L15.3 9.2L16.3 10.1M2.2 6.8L2.6 9.3L3 11.9L3.5 14.5L4.1 17L4.6 19.5L5.4 22L6.8 24.2L8.6 26.1L10 28.2L11.9 30.1M46.7 13.3L47 15.9L46.8 18.5L46.9 21.1L47 23.7L46.9 26.2L47.2 28.8L47.3 31.4L47.2 34L47.5 36.6L48.1 39.1L48.8 41.6L49.2 44.2L49.1 46.8L48.9 49.4L48.6 51.9L48.3 54.5L48.2 57.1L46.8 59.3L44.4 60L41.8 59.6M-5.4 43.3L-3.5 45.1L-1.7 46.9L0.1 48.8L1.5 51L2.6 53.4L3.5 55.8L4.2 58.3L5.3 60.6L6.7 62.8L7.8 65.2L8.7 67.6L9.5 70L10.1 72.6M64.5 25.6L64.4 27.9L64.4 30.5L64 33.1L63.4 35.6L62.1 37.9L61.6 40.4L62.3 42.9L63.2 45.3L63.5 47.9L63.9 50.5L64.1 53L63.2 55.5L60.9 56.7L58.4 57.5L56.2 58.8L53.8 59.6L53.1 60.7M30 38.6L29.9 41.2L30.4 43.7L30.8 46.3L30.9 48.9L31.1 51.4L31 54L30.4 55.2M77.3 73.4L79.3 72L81.7 71.1L84.2 70.3L85.5 70.2M-3.1 -8.6L-0.7 -7.9L0.9 -5.9L2.4 -3.8L3.6 -1.5L4.8 0.8L6.7 2.5L8 4.8L8.8 7.2L8.8 9.8M17.8 58.5L19.2 60.6L20.5 62.9L22.1 64.9L22.8 67.4L23.7 69.8L25 72.1L26.3 74.4L27.7 76.5L30.2 77.3M100.9 15.3L103.3 16.3L105.8 17.2L107.7 18.6M-8.5 -5.8L-7.7 -3.5L-6.8 -1L-6.1 1.5L-5 3.8L-4.6 6.3L-3.8 8.8L-3.3 11.4L-3 13.9L-2.7 15.2M70.8 13.2L70.6 15.7L70.6 18.3L72.4 20.2M98.4 32.3L101 32.5L103.5 32.1L106.1 32.3L107.4 32.3M77.6 58.1L79.8 59.6L82 60.7L84.3 60.6L86.3 58.8M54.7 38.3L55.1 40.5L55.6 43.1L56.5 45.5L56.9 48.1L56.6 50.6L54.7 52.3M19.4 44L16.9 43.5L14.9 45L15.1 47.5L16.9 49.4L18.7 51.3L19.3 52.4M48.2 -8.2L48.4 -5.7L48.9 -3.1L49.3 -0.5L49.6 2L49.5 4.6L48.8 7.1M-8 49.5L-8.6 52.1L-7.1 54.2L-6 56.6L-5.2 59L-4 61.3L-3.2 63.8L-3.1 66.4M80 45.3L82.1 46.8L84.5 47.8L86.6 49.2L89 50.4L91.1 51.8M99.5 -3.4L101.9 -4.3L104.3 -5.5L106.7 -6.4L107.8 -7.1M-8.7 29.9L-8.3 32.4L-6.8 34.3L-4.7 35.8L-2.6 37.3L-0.6 38.9L1.2 40.8L2.9 42.7L4.7 44.7L6.4 46.6L8.2 48.4M98.4 55.2L101 55.4L103.2 56.8L105.5 57.9L107.7 59.1M81.3 38.7L83.8 39.6L85.9 41.2L86.8 42M17.7 31.9L18.9 34.2L20.9 35.8L22.7 37.7L23.2 38.9M69.3 45.4L71.6 46.2L74 47.2L75.3 49.5M89.1 21.9L91.4 22L94 22.3L96.6 22.4L99.2 22.8L101.7 23.6M72.3 6L74.9 6.5L77.4 7M38.7 77.4L41.1 76.4L43.4 75.4L45.8 74.4M40 22L38.8 24.3L38.5 26.9L38.7 29.5L39.1 32L39.7 34.5L40.1 37.1L40.6 39.6L41 42.2L41.7 44.7L42.2 47.2L42.3 49.8L41.9 52.3L41.4 53.5M69.5 38.8L71.9 38.2L74.4 37.8L75.5 37.1M10.6 54.4L11.1 56.9L11.6 59.3M72 81.6L74.3 80.3L76.7 79.7L79.3 79.3M72.4 -1.5L73.7 -1.1L75 -1.1M102.3 66.9L104.5 68.4L107 68.9M60.7 80.3L63.3 80L65.7 79.2M69.9 55.5L70.8 56.5M51.1 77.3L53.2 78.8L54.6 80.9L55 82.1M76.9 13.2h.01M30.1 27.2h.01M3.1 70L3.7 71.2M23.1 -7.7L24.7 -5.7L26.2 -3.6M102.7 38.3L105.3 38.8L107.9 38.6M103.5 48.8L105.9 47.9L107.2 47.5" stroke="#f4eef3" stroke-width="1"/>
<path d="M24.6 47.1L24.5 48.4L24.9 49.7M92.4 38.9L94.9 38.2L96.2 38.3M82.8 11.2L83.8 10.5" stroke="#f4eef3" stroke-width="1"/>
<path d="M84.7 25.4L85.9 25.9M56 74.2L57.3 74.5L57.9 75.6M53.1 11.8L52.5 14.3L52.3 16.9M33.7 31.9L33.1 33L32.9 34.3M79.6 52.9L80.6 53.6L81.9 53.9M36.3 46.5L37.1 49L36.6 51.4M19.1 15.3L19.9 16.3M69.3 33.4L70.5 32.7L71.7 32.3M91.1 27.8L92.3 27.4L93.6 27.4M80.4 65.8h.01M64.4 66.3L65.5 67L66.8 67.3M27.1 3.6L26.9 6.2L27.8 7.1M59 63.4L60.1 62.6M13.7 36.7L14.4 37.8L15.5 38.5M35.3 40.9L35.6 42.2M35.4 57.3L35.6 58.6M92.4 57.4L93.4 56.5M28.3 66.6L29 67.7M76.5 31L77.7 30.7" stroke="#f4eef3" stroke-width="0.5"/>
<path d="M98.2 2L99.4 1.6M52.2 32.1L52 33.4M44.6 0.2L44.8 1.5L44.6 2.8M-1.2 -0.6L-0.6 0.6M51.7 22.9L51.8 24.2L52 25.5M29 11.7h.01M1.7 63.9L1.9 65.2M68.2 23h.01M95.3 11.8L96.6 11.8M93.1 9.5L93.5 8.3M97.4 49.6L98.6 49M68.9 50.8h.01M88.5 10.4L89.7 10.1M21.5 19.7h.01M72 68.6L73.3 69M49.7 71.7L50.8 72.4L52 72.9M39.2 64h.01M97.3 27.6L98.6 27.6M-0.5 20.7L0.4 21.7L0.6 23M9.2 19L9.8 20.1M47 69.9h.01M90 71.5L91.3 71.3M95 17.5L95.9 16.6" stroke="#f4eef3" stroke-width="0.4"/>
</g></g>
<ellipse cx="70" cy="46.5" rx="1.6" ry="1" fill="#d78a74" transform="rotate(20 70 46.5)" />
<rect width="99.2" height="74.1" filter="url(#gp22)"/>
<rect width="99.2" height="74.1" fill="url(#v22)"/>
<polygon points="0,0 11.5,0 8,3 6,8 1.5,12.5 0,13" fill="#e3e1df" />
<polygon points="99.2,0 74,0 76,4 80,6 82,11 88,15 93,19 99.2,24" fill="#e3e1df" />
<path d="M74 0l2 4 4 2 2 5 6 4 5 4 6.3 5" fill="none" stroke="#b58cb8" stroke-width="0.9" stroke-linecap="round" stroke-linejoin="round" /></g></g>
<g transform="translate(236.9,525.7)" clip-path="url(#tc)"><g filter="url(#bl05)"><rect width="99.2" height="74.1" fill="#c998b8"/>
<g fill="none" stroke-linecap="round" stroke-linejoin="round">
<path d="M12.2 38.4L14 40.2L15.5 42.4L16.9 44.5L18.3 46.7L19.5 49L21 51.2L22.7 53.1L24.6 54.8L26.9 56.2L29 57.7L31.1 59.1L33.3 60.5L35.3 62.2L37.5 63.6M39.4 21.9L41.8 20.9L44.3 20.4M-2.9 42.2L-0.7 43.7L1.1 45.5L3.2 47L5 48.8L6.9 50.7L8.8 52.3L11.1 53.7L13.3 55L15.3 56.6L17.5 58.1L19.7 59.4L22 60.7M72.4 60.9L74.8 61.9L77.2 62.9L79.5 63.9L81.9 64.9L84.2 66.2L86.3 67.7L88.6 69L90.7 70.5L92.7 72.2L94.6 73.8L96.4 75.8L98.1 77.7L99.9 79.6L101.7 81.4L103.5 83.3L106.1 83M-8.5 28.3L-6 28.5L-3.7 29.7L-1.7 31.4L0.3 33L2.4 34.4L4.6 35.8L5.7 38.2L5.7 40.8L6.7 41.6M14.2 23.1L16.5 24.1L19 25.1M52.1 21.1L54.5 22L56.9 23L59.3 24.1M-6.3 4.2L-3.8 4.7L-1.3 5.4L1 6.5M91.3 42.5L93.4 41L95.5 39.4M53.6 66.9L55.7 68.5L57.8 70.1L59.8 71.7L61.9 73.2L64.4 73.9L66.9 74.5L69.3 75.5L71.4 77L73.3 78.7L75.5 80L77.7 81.4L79.9 82.8L82.4 83.3M75 2.6L77.6 2.9L79.9 4L82.1 5.4M20.7 67.1L22.3 69L24.5 70.3L26.6 71.9L28.7 73.4L30.8 74.9L32.4 76.9L33.8 79.1L35.6 81L37.4 82.9L40 83.2M44.1 39.7L46.7 39.5L49.3 38.9L51.8 38.6L54.4 38.2M93.3 15.3L95.9 15.6L98.4 16.3L100.9 16.9M-8.9 44.2L-8.9 46.8L-7.7 48.9L-5.8 50.6L-3.7 52.1L-1.5 53.5L0.3 55.4L2.3 57.1L3.9 59.1L5.4 61.3L6.9 63.4L8.7 65.3L9.7 66M92.8 32.9L95.4 32.7L97.9 32.2L100.4 31.5L102.9 30.8M14.5 8.4L16.8 7.2L19.1 6L21.4 4.9M-4.4 12.6L-1.9 13.2L0.5 14.4L2.9 15.3M60.7 39.4L63.1 38.7L65.6 38L66.9 37.8M80.3 14.1L82.8 13.3L85.1 12.1L87.3 10.8M28.2 25.7L30.8 25.2L33.3 24.6M38.5 4.7L40.8 5.8L43.3 6.7M52.7 45.1L54.5 46.9L56.7 48.3L58.8 49.9L60.9 51.3L63 52.9L65.3 54L67.3 55.6L69.7 54.8L72.2 54.3L74.8 54.6L76.1 54.8M53.6 11.6L55.8 10.1L58.1 9M40.4 57L42.2 58.9L43.7 61.1L44.2 63.6L44.3 66.1L46.1 68L47.4 70.2L49.1 72.2L50.9 74.1L53 75.5M54.5 31.1L56.9 32.2L59.3 32.5L61.7 31.5L64.1 30.7M40.8 -4.4L43.3 -4.1L45.7 -3.1L48.2 -2.3L50.5 -1.1M58.8 16.1L61.2 15.3L63.7 15.8L65 16.2M89 49L91 50.7L92.9 52.4L94.9 54L97.1 55.5M24.7 34.4L27.1 33.4L29.5 32.5L32.1 32.2M14.4 16.6L16.9 17L19.3 18L21.9 18.4M89.4 3.1L91.9 3.4L94.5 3.1L97.1 2.7M71.8 26.6L74 25.2L76.1 23.6L78.6 23L81.1 22.5M34.2 43.5L36.1 45.3L38.1 46.9L40.2 48.5L42.4 49.7L44.5 51.3L46.5 52.9L48.9 53.9L51.3 54.8L53.7 55.8L56.1 56.9L58.4 58L60.4 59.7M101.7 -1.9L104.2 -1.4L106.6 -2.3M22.3 40.4L24.7 40.9L26.7 42.3L27.8 44.6L28.6 47.1L30.3 49L32.4 50.6M42.3 29L44.8 29.6L46.9 31.1L47.7 32.2M87.7 24.3L90.1 25.3L92.6 25.8M36.8 36.5L38 36.1L39.2 35.7M75.3 69.8L77.7 70.9L80 72.1L82.3 73.2L84.5 74.6L86.5 76.3L88.4 77.9L90.4 79.6L92.2 81.5L94.1 83.2M81.1 -6L83.6 -5.3L86.1 -4.7L88.3 -3.4M78.2 30.2L80.3 31.8L82.4 33.2L84.6 34.6M80.1 48.9L81.6 51.1L82.9 53.3L84.1 55.6L86.3 57L88.3 58.7L90.2 60.5L92 62.3L94.1 63.8L96 65.6L97.8 67.5L99.7 69.2M-9.1 66.5L-9.2 69L-7.5 70.9L-5.2 72.1L-3.2 73.8L-1.5 75.8L0.6 77.4L2.8 78.7L5.1 79.9L7.5 80.8L9.8 82.1M33.5 68.7L35.8 69.8L37.4 71.9L39.7 73.1L41.7 74.6L43.4 76.6L45.1 78.6L47.1 80.2L49.6 81.1L51.8 82.5L54.3 83L56.8 83.3L59.4 83.3L62 83L64.6 83L65.9 83.2M15 32.3L17.4 33.4L18.3 34.3M27.9 4.8L30.5 4.8L31.7 5.2M15 -3.8L17.3 -2.6L19.9 -2.4L22.5 -2.1L25 -2.5M67.1 8.6L69.7 9L72.1 9.8L74.3 11.2M-9 56.8L-7.5 58.9L-5.5 60.5L-3.7 62.4L-2.2 64.5L-0.2 66.2L1.7 67.9L3.5 69.8L5.3 71.7L7.1 73.5L9.5 74.5M55.8 -5.8L58.1 -4.8L60.6 -4M101.4 61.2L103 63.2L105.2 64.6L107.5 65.9L108.3 68.2L108.1 70.8L108.4 73.4L108.3 76M4.2 -0.9L6.4 0.4L8.7 1.5M97.5 47L99.6 48.5L101.5 50.3L103.7 51.6L106 52.9M66.9 1.3L69.2 -0L70.3 -2.3M15.7 71.9L17.3 73.9L19.3 75.6L21.5 76.9L23.5 78.5L25.2 80.5L27.1 82.3M27.8 15.3L29.2 17.5L31.6 18.2L34.2 17.6M93.1 -7.8L94.8 -5.9L95.8 -5.1M65.3 64.3L66.9 66.3L68.8 68M70.3 19.9L72.4 18.3L73.5 17.6M99.4 23.9L101.9 23.4L104.5 23.9L105.8 23.9M99.5 9.4L102 9.7L104.6 9.7M39.4 13.1L41.9 13.8L44.4 13.4L47 13.3M6.8 9.9L8.1 10.2M71.5 42.4L73.3 44.1L75.7 44L78 42.8M102.1 41.5L104.6 41.9L107.1 42.5M0.1 23.8L2.7 24L5.3 24L7.7 24.9L8.9 27.3M31.6 -2.6L33.6 -1L34.9 -1.2M-3.7 -4.8L-1.3 -5.8L1.1 -6.9M72.1 33.7L73.7 35.8L74.8 36.5M22.5 11.8h.01M-8.6 20.2L-6.1 19.7L-4.8 19.5M7.5 -6.6L8.7 -5.9M64.5 45.4L65.5 46.3L66.5 47.1M50.2 6h.01M55.9 2.6L58 2.2L59.3 2.6" stroke="#a68aba" stroke-width="7.1"/>
<path d="M84.3 43.8L84.7 42.5" stroke="#a68aba" stroke-width="7.1"/>
<path d="M27.5 63.5L28.6 64L29 65.3M50.2 60.4L50.7 61.6L52 61.6M64.8 21.9h.01M11.1 46.1L11.6 47.3M13.9 62.3L14.9 63.1L15.5 64.2M49.3 25.9L50.5 26.4M85.3 18.4L86.6 17.9L87.9 18M31.1 10.7L32 11.7L33.3 11.8M93.8 9.3h.01M8.5 18.3L8.8 17.1L8.8 15.8M45.6 45L46.5 46M102.9 74.2h.01" stroke="#a68aba" stroke-width="5.4"/>
<path d="M22.5 28.7L23.6 28L24.4 29M73.7 49.7L75 49.5M101.7 4.1L103 4.1M36.7 52.9h.01M80.6 38.1L81.8 38.6M79.9 58.5h.01M25.8 21.5h.01M83.5 0.3L84.6 1.1M85.3 28.8L86.4 29.5L87.4 30.4M75.4 -2.9L76.7 -2.8M14.1 2.9L15.1 2.1M-1.9 -0L-0.7 0.1M36.3 28.8L37.3 27.9L37.8 26.7M89 36.6L90.3 37.1M29.7 37.6L30.8 38.2M102 36.2L103.3 36.2M58.9 64.7L60.2 64.5L60.3 65.8M41.8 0.5L42.9 1.1M9.8 58.7L10.4 59.9M57.1 42.8h.01M9.9 32h.01M39.4 41.5h.01M66.9 25.9h.01" stroke="#a68aba" stroke-width="4"/>
<path d="M12.2 38.4L14 40.2L15.5 42.4L16.9 44.5L18.3 46.7L19.5 49L21 51.2L22.7 53.1L24.6 54.8L26.9 56.2L29 57.7L31.1 59.1L33.3 60.5L35.3 62.2L37.5 63.6M39.4 21.9L41.8 20.9L44.3 20.4M-2.9 42.2L-0.7 43.7L1.1 45.5L3.2 47L5 48.8L6.9 50.7L8.8 52.3L11.1 53.7L13.3 55L15.3 56.6L17.5 58.1L19.7 59.4L22 60.7M72.4 60.9L74.8 61.9L77.2 62.9L79.5 63.9L81.9 64.9L84.2 66.2L86.3 67.7L88.6 69L90.7 70.5L92.7 72.2L94.6 73.8L96.4 75.8L98.1 77.7L99.9 79.6L101.7 81.4L103.5 83.3L106.1 83M-8.5 28.3L-6 28.5L-3.7 29.7L-1.7 31.4L0.3 33L2.4 34.4L4.6 35.8L5.7 38.2L5.7 40.8L6.7 41.6M14.2 23.1L16.5 24.1L19 25.1M52.1 21.1L54.5 22L56.9 23L59.3 24.1M-6.3 4.2L-3.8 4.7L-1.3 5.4L1 6.5M91.3 42.5L93.4 41L95.5 39.4M53.6 66.9L55.7 68.5L57.8 70.1L59.8 71.7L61.9 73.2L64.4 73.9L66.9 74.5L69.3 75.5L71.4 77L73.3 78.7L75.5 80L77.7 81.4L79.9 82.8L82.4 83.3M75 2.6L77.6 2.9L79.9 4L82.1 5.4M20.7 67.1L22.3 69L24.5 70.3L26.6 71.9L28.7 73.4L30.8 74.9L32.4 76.9L33.8 79.1L35.6 81L37.4 82.9L40 83.2M44.1 39.7L46.7 39.5L49.3 38.9L51.8 38.6L54.4 38.2M93.3 15.3L95.9 15.6L98.4 16.3L100.9 16.9M-8.9 44.2L-8.9 46.8L-7.7 48.9L-5.8 50.6L-3.7 52.1L-1.5 53.5L0.3 55.4L2.3 57.1L3.9 59.1L5.4 61.3L6.9 63.4L8.7 65.3L9.7 66M92.8 32.9L95.4 32.7L97.9 32.2L100.4 31.5L102.9 30.8M14.5 8.4L16.8 7.2L19.1 6L21.4 4.9M-4.4 12.6L-1.9 13.2L0.5 14.4L2.9 15.3M60.7 39.4L63.1 38.7L65.6 38L66.9 37.8M80.3 14.1L82.8 13.3L85.1 12.1L87.3 10.8M28.2 25.7L30.8 25.2L33.3 24.6M38.5 4.7L40.8 5.8L43.3 6.7M52.7 45.1L54.5 46.9L56.7 48.3L58.8 49.9L60.9 51.3L63 52.9L65.3 54L67.3 55.6L69.7 54.8L72.2 54.3L74.8 54.6L76.1 54.8M53.6 11.6L55.8 10.1L58.1 9M40.4 57L42.2 58.9L43.7 61.1L44.2 63.6L44.3 66.1L46.1 68L47.4 70.2L49.1 72.2L50.9 74.1L53 75.5M54.5 31.1L56.9 32.2L59.3 32.5L61.7 31.5L64.1 30.7M40.8 -4.4L43.3 -4.1L45.7 -3.1L48.2 -2.3L50.5 -1.1M58.8 16.1L61.2 15.3L63.7 15.8L65 16.2M89 49L91 50.7L92.9 52.4L94.9 54L97.1 55.5M24.7 34.4L27.1 33.4L29.5 32.5L32.1 32.2M14.4 16.6L16.9 17L19.3 18L21.9 18.4M89.4 3.1L91.9 3.4L94.5 3.1L97.1 2.7M71.8 26.6L74 25.2L76.1 23.6L78.6 23L81.1 22.5M34.2 43.5L36.1 45.3L38.1 46.9L40.2 48.5L42.4 49.7L44.5 51.3L46.5 52.9L48.9 53.9L51.3 54.8L53.7 55.8L56.1 56.9L58.4 58L60.4 59.7M101.7 -1.9L104.2 -1.4L106.6 -2.3M22.3 40.4L24.7 40.9L26.7 42.3L27.8 44.6L28.6 47.1L30.3 49L32.4 50.6M42.3 29L44.8 29.6L46.9 31.1L47.7 32.2M87.7 24.3L90.1 25.3L92.6 25.8M36.8 36.5L38 36.1L39.2 35.7M75.3 69.8L77.7 70.9L80 72.1L82.3 73.2L84.5 74.6L86.5 76.3L88.4 77.9L90.4 79.6L92.2 81.5L94.1 83.2M81.1 -6L83.6 -5.3L86.1 -4.7L88.3 -3.4M78.2 30.2L80.3 31.8L82.4 33.2L84.6 34.6M80.1 48.9L81.6 51.1L82.9 53.3L84.1 55.6L86.3 57L88.3 58.7L90.2 60.5L92 62.3L94.1 63.8L96 65.6L97.8 67.5L99.7 69.2M-9.1 66.5L-9.2 69L-7.5 70.9L-5.2 72.1L-3.2 73.8L-1.5 75.8L0.6 77.4L2.8 78.7L5.1 79.9L7.5 80.8L9.8 82.1M33.5 68.7L35.8 69.8L37.4 71.9L39.7 73.1L41.7 74.6L43.4 76.6L45.1 78.6L47.1 80.2L49.6 81.1L51.8 82.5L54.3 83L56.8 83.3L59.4 83.3L62 83L64.6 83L65.9 83.2M15 32.3L17.4 33.4L18.3 34.3M27.9 4.8L30.5 4.8L31.7 5.2M15 -3.8L17.3 -2.6L19.9 -2.4L22.5 -2.1L25 -2.5M67.1 8.6L69.7 9L72.1 9.8L74.3 11.2M-9 56.8L-7.5 58.9L-5.5 60.5L-3.7 62.4L-2.2 64.5L-0.2 66.2L1.7 67.9L3.5 69.8L5.3 71.7L7.1 73.5L9.5 74.5M55.8 -5.8L58.1 -4.8L60.6 -4M101.4 61.2L103 63.2L105.2 64.6L107.5 65.9L108.3 68.2L108.1 70.8L108.4 73.4L108.3 76M4.2 -0.9L6.4 0.4L8.7 1.5M97.5 47L99.6 48.5L101.5 50.3L103.7 51.6L106 52.9M66.9 1.3L69.2 -0L70.3 -2.3M15.7 71.9L17.3 73.9L19.3 75.6L21.5 76.9L23.5 78.5L25.2 80.5L27.1 82.3M27.8 15.3L29.2 17.5L31.6 18.2L34.2 17.6M93.1 -7.8L94.8 -5.9L95.8 -5.1M65.3 64.3L66.9 66.3L68.8 68M70.3 19.9L72.4 18.3L73.5 17.6M99.4 23.9L101.9 23.4L104.5 23.9L105.8 23.9M99.5 9.4L102 9.7L104.6 9.7M39.4 13.1L41.9 13.8L44.4 13.4L47 13.3M6.8 9.9L8.1 10.2M71.5 42.4L73.3 44.1L75.7 44L78 42.8M102.1 41.5L104.6 41.9L107.1 42.5M0.1 23.8L2.7 24L5.3 24L7.7 24.9L8.9 27.3M31.6 -2.6L33.6 -1L34.9 -1.2M-3.7 -4.8L-1.3 -5.8L1.1 -6.9M72.1 33.7L73.7 35.8L74.8 36.5M22.5 11.8h.01M-8.6 20.2L-6.1 19.7L-4.8 19.5M7.5 -6.6L8.7 -5.9M64.5 45.4L65.5 46.3L66.5 47.1M50.2 6h.01M55.9 2.6L58 2.2L59.3 2.6" stroke="#cfbbd9" stroke-width="5.9"/>
<path d="M84.3 43.8L84.7 42.5" stroke="#cfbbd9" stroke-width="5.9"/>
<path d="M27.5 63.5L28.6 64L29 65.3M50.2 60.4L50.7 61.6L52 61.6M64.8 21.9h.01M11.1 46.1L11.6 47.3M13.9 62.3L14.9 63.1L15.5 64.2M49.3 25.9L50.5 26.4M85.3 18.4L86.6 17.9L87.9 18M31.1 10.7L32 11.7L33.3 11.8M93.8 9.3h.01M8.5 18.3L8.8 17.1L8.8 15.8M45.6 45L46.5 46M102.9 74.2h.01" stroke="#cfbbd9" stroke-width="4.2"/>
<path d="M22.5 28.7L23.6 28L24.4 29M73.7 49.7L75 49.5M101.7 4.1L103 4.1M36.7 52.9h.01M80.6 38.1L81.8 38.6M79.9 58.5h.01M25.8 21.5h.01M83.5 0.3L84.6 1.1M85.3 28.8L86.4 29.5L87.4 30.4M75.4 -2.9L76.7 -2.8M14.1 2.9L15.1 2.1M-1.9 -0L-0.7 0.1M36.3 28.8L37.3 27.9L37.8 26.7M89 36.6L90.3 37.1M29.7 37.6L30.8 38.2M102 36.2L103.3 36.2M58.9 64.7L60.2 64.5L60.3 65.8M41.8 0.5L42.9 1.1M9.8 58.7L10.4 59.9M57.1 42.8h.01M9.9 32h.01M39.4 41.5h.01M66.9 25.9h.01" stroke="#cfbbd9" stroke-width="2.8"/>
<g filter="url(#bl08)">
<path d="M12.2 38.4L14 40.2L15.5 42.4L16.9 44.5L18.3 46.7L19.5 49L21 51.2L22.7 53.1L24.6 54.8L26.9 56.2L29 57.7L31.1 59.1L33.3 60.5L35.3 62.2L37.5 63.6M39.4 21.9L41.8 20.9L44.3 20.4M-2.9 42.2L-0.7 43.7L1.1 45.5L3.2 47L5 48.8L6.9 50.7L8.8 52.3L11.1 53.7L13.3 55L15.3 56.6L17.5 58.1L19.7 59.4L22 60.7M72.4 60.9L74.8 61.9L77.2 62.9L79.5 63.9L81.9 64.9L84.2 66.2L86.3 67.7L88.6 69L90.7 70.5L92.7 72.2L94.6 73.8L96.4 75.8L98.1 77.7L99.9 79.6L101.7 81.4L103.5 83.3L106.1 83M-8.5 28.3L-6 28.5L-3.7 29.7L-1.7 31.4L0.3 33L2.4 34.4L4.6 35.8L5.7 38.2L5.7 40.8L6.7 41.6M14.2 23.1L16.5 24.1L19 25.1M52.1 21.1L54.5 22L56.9 23L59.3 24.1M-6.3 4.2L-3.8 4.7L-1.3 5.4L1 6.5M91.3 42.5L93.4 41L95.5 39.4M53.6 66.9L55.7 68.5L57.8 70.1L59.8 71.7L61.9 73.2L64.4 73.9L66.9 74.5L69.3 75.5L71.4 77L73.3 78.7L75.5 80L77.7 81.4L79.9 82.8L82.4 83.3M75 2.6L77.6 2.9L79.9 4L82.1 5.4M20.7 67.1L22.3 69L24.5 70.3L26.6 71.9L28.7 73.4L30.8 74.9L32.4 76.9L33.8 79.1L35.6 81L37.4 82.9L40 83.2M44.1 39.7L46.7 39.5L49.3 38.9L51.8 38.6L54.4 38.2M93.3 15.3L95.9 15.6L98.4 16.3L100.9 16.9M-8.9 44.2L-8.9 46.8L-7.7 48.9L-5.8 50.6L-3.7 52.1L-1.5 53.5L0.3 55.4L2.3 57.1L3.9 59.1L5.4 61.3L6.9 63.4L8.7 65.3L9.7 66M92.8 32.9L95.4 32.7L97.9 32.2L100.4 31.5L102.9 30.8M14.5 8.4L16.8 7.2L19.1 6L21.4 4.9M-4.4 12.6L-1.9 13.2L0.5 14.4L2.9 15.3M60.7 39.4L63.1 38.7L65.6 38L66.9 37.8M80.3 14.1L82.8 13.3L85.1 12.1L87.3 10.8M28.2 25.7L30.8 25.2L33.3 24.6M38.5 4.7L40.8 5.8L43.3 6.7M52.7 45.1L54.5 46.9L56.7 48.3L58.8 49.9L60.9 51.3L63 52.9L65.3 54L67.3 55.6L69.7 54.8L72.2 54.3L74.8 54.6L76.1 54.8M53.6 11.6L55.8 10.1L58.1 9M40.4 57L42.2 58.9L43.7 61.1L44.2 63.6L44.3 66.1L46.1 68L47.4 70.2L49.1 72.2L50.9 74.1L53 75.5M54.5 31.1L56.9 32.2L59.3 32.5L61.7 31.5L64.1 30.7M40.8 -4.4L43.3 -4.1L45.7 -3.1L48.2 -2.3L50.5 -1.1M58.8 16.1L61.2 15.3L63.7 15.8L65 16.2M89 49L91 50.7L92.9 52.4L94.9 54L97.1 55.5M24.7 34.4L27.1 33.4L29.5 32.5L32.1 32.2M14.4 16.6L16.9 17L19.3 18L21.9 18.4M89.4 3.1L91.9 3.4L94.5 3.1L97.1 2.7M71.8 26.6L74 25.2L76.1 23.6L78.6 23L81.1 22.5M34.2 43.5L36.1 45.3L38.1 46.9L40.2 48.5L42.4 49.7L44.5 51.3L46.5 52.9L48.9 53.9L51.3 54.8L53.7 55.8L56.1 56.9L58.4 58L60.4 59.7M101.7 -1.9L104.2 -1.4L106.6 -2.3M22.3 40.4L24.7 40.9L26.7 42.3L27.8 44.6L28.6 47.1L30.3 49L32.4 50.6M42.3 29L44.8 29.6L46.9 31.1L47.7 32.2M87.7 24.3L90.1 25.3L92.6 25.8M36.8 36.5L38 36.1L39.2 35.7M75.3 69.8L77.7 70.9L80 72.1L82.3 73.2L84.5 74.6L86.5 76.3L88.4 77.9L90.4 79.6L92.2 81.5L94.1 83.2M81.1 -6L83.6 -5.3L86.1 -4.7L88.3 -3.4M78.2 30.2L80.3 31.8L82.4 33.2L84.6 34.6M80.1 48.9L81.6 51.1L82.9 53.3L84.1 55.6L86.3 57L88.3 58.7L90.2 60.5L92 62.3L94.1 63.8L96 65.6L97.8 67.5L99.7 69.2M-9.1 66.5L-9.2 69L-7.5 70.9L-5.2 72.1L-3.2 73.8L-1.5 75.8L0.6 77.4L2.8 78.7L5.1 79.9L7.5 80.8L9.8 82.1M33.5 68.7L35.8 69.8L37.4 71.9L39.7 73.1L41.7 74.6L43.4 76.6L45.1 78.6L47.1 80.2L49.6 81.1L51.8 82.5L54.3 83L56.8 83.3L59.4 83.3L62 83L64.6 83L65.9 83.2M15 32.3L17.4 33.4L18.3 34.3M27.9 4.8L30.5 4.8L31.7 5.2M15 -3.8L17.3 -2.6L19.9 -2.4L22.5 -2.1L25 -2.5M67.1 8.6L69.7 9L72.1 9.8L74.3 11.2M-9 56.8L-7.5 58.9L-5.5 60.5L-3.7 62.4L-2.2 64.5L-0.2 66.2L1.7 67.9L3.5 69.8L5.3 71.7L7.1 73.5L9.5 74.5M55.8 -5.8L58.1 -4.8L60.6 -4M101.4 61.2L103 63.2L105.2 64.6L107.5 65.9L108.3 68.2L108.1 70.8L108.4 73.4L108.3 76M4.2 -0.9L6.4 0.4L8.7 1.5M97.5 47L99.6 48.5L101.5 50.3L103.7 51.6L106 52.9M66.9 1.3L69.2 -0L70.3 -2.3M15.7 71.9L17.3 73.9L19.3 75.6L21.5 76.9L23.5 78.5L25.2 80.5L27.1 82.3M27.8 15.3L29.2 17.5L31.6 18.2L34.2 17.6M93.1 -7.8L94.8 -5.9L95.8 -5.1M65.3 64.3L66.9 66.3L68.8 68M70.3 19.9L72.4 18.3L73.5 17.6M99.4 23.9L101.9 23.4L104.5 23.9L105.8 23.9M99.5 9.4L102 9.7L104.6 9.7M39.4 13.1L41.9 13.8L44.4 13.4L47 13.3M6.8 9.9L8.1 10.2M71.5 42.4L73.3 44.1L75.7 44L78 42.8M102.1 41.5L104.6 41.9L107.1 42.5M0.1 23.8L2.7 24L5.3 24L7.7 24.9L8.9 27.3M31.6 -2.6L33.6 -1L34.9 -1.2M-3.7 -4.8L-1.3 -5.8L1.1 -6.9M72.1 33.7L73.7 35.8L74.8 36.5M22.5 11.8h.01M-8.6 20.2L-6.1 19.7L-4.8 19.5M7.5 -6.6L8.7 -5.9M64.5 45.4L65.5 46.3L66.5 47.1M50.2 6h.01M55.9 2.6L58 2.2L59.3 2.6" stroke="#e9dfea" stroke-width="2.7" opacity="0.75"/>
<path d="M84.3 43.8L84.7 42.5" stroke="#e9dfea" stroke-width="2.7" opacity="0.75"/>
<path d="M27.5 63.5L28.6 64L29 65.3M50.2 60.4L50.7 61.6L52 61.6M64.8 21.9h.01M11.1 46.1L11.6 47.3M13.9 62.3L14.9 63.1L15.5 64.2M49.3 25.9L50.5 26.4M85.3 18.4L86.6 17.9L87.9 18M31.1 10.7L32 11.7L33.3 11.8M93.8 9.3h.01M8.5 18.3L8.8 17.1L8.8 15.8M45.6 45L46.5 46M102.9 74.2h.01" stroke="#e9dfea" stroke-width="2.2" opacity="0.75"/>
<path d="M22.5 28.7L23.6 28L24.4 29M73.7 49.7L75 49.5M101.7 4.1L103 4.1M36.7 52.9h.01M80.6 38.1L81.8 38.6M79.9 58.5h.01M25.8 21.5h.01M83.5 0.3L84.6 1.1M85.3 28.8L86.4 29.5L87.4 30.4M75.4 -2.9L76.7 -2.8M14.1 2.9L15.1 2.1M-1.9 -0L-0.7 0.1M36.3 28.8L37.3 27.9L37.8 26.7M89 36.6L90.3 37.1M29.7 37.6L30.8 38.2M102 36.2L103.3 36.2M58.9 64.7L60.2 64.5L60.3 65.8M41.8 0.5L42.9 1.1M9.8 58.7L10.4 59.9M57.1 42.8h.01M9.9 32h.01M39.4 41.5h.01M66.9 25.9h.01" stroke="#e9dfea" stroke-width="1.7" opacity="0.75"/>
<path d="M12.2 38.4L14 40.2L15.5 42.4L16.9 44.5L18.3 46.7L19.5 49L21 51.2L22.7 53.1L24.6 54.8L26.9 56.2L29 57.7L31.1 59.1L33.3 60.5L35.3 62.2L37.5 63.6M39.4 21.9L41.8 20.9L44.3 20.4M-2.9 42.2L-0.7 43.7L1.1 45.5L3.2 47L5 48.8L6.9 50.7L8.8 52.3L11.1 53.7L13.3 55L15.3 56.6L17.5 58.1L19.7 59.4L22 60.7M72.4 60.9L74.8 61.9L77.2 62.9L79.5 63.9L81.9 64.9L84.2 66.2L86.3 67.7L88.6 69L90.7 70.5L92.7 72.2L94.6 73.8L96.4 75.8L98.1 77.7L99.9 79.6L101.7 81.4L103.5 83.3L106.1 83M-8.5 28.3L-6 28.5L-3.7 29.7L-1.7 31.4L0.3 33L2.4 34.4L4.6 35.8L5.7 38.2L5.7 40.8L6.7 41.6M14.2 23.1L16.5 24.1L19 25.1M52.1 21.1L54.5 22L56.9 23L59.3 24.1M-6.3 4.2L-3.8 4.7L-1.3 5.4L1 6.5M91.3 42.5L93.4 41L95.5 39.4M53.6 66.9L55.7 68.5L57.8 70.1L59.8 71.7L61.9 73.2L64.4 73.9L66.9 74.5L69.3 75.5L71.4 77L73.3 78.7L75.5 80L77.7 81.4L79.9 82.8L82.4 83.3M75 2.6L77.6 2.9L79.9 4L82.1 5.4M20.7 67.1L22.3 69L24.5 70.3L26.6 71.9L28.7 73.4L30.8 74.9L32.4 76.9L33.8 79.1L35.6 81L37.4 82.9L40 83.2M44.1 39.7L46.7 39.5L49.3 38.9L51.8 38.6L54.4 38.2M93.3 15.3L95.9 15.6L98.4 16.3L100.9 16.9M-8.9 44.2L-8.9 46.8L-7.7 48.9L-5.8 50.6L-3.7 52.1L-1.5 53.5L0.3 55.4L2.3 57.1L3.9 59.1L5.4 61.3L6.9 63.4L8.7 65.3L9.7 66M92.8 32.9L95.4 32.7L97.9 32.2L100.4 31.5L102.9 30.8M14.5 8.4L16.8 7.2L19.1 6L21.4 4.9M-4.4 12.6L-1.9 13.2L0.5 14.4L2.9 15.3M60.7 39.4L63.1 38.7L65.6 38L66.9 37.8M80.3 14.1L82.8 13.3L85.1 12.1L87.3 10.8M28.2 25.7L30.8 25.2L33.3 24.6M38.5 4.7L40.8 5.8L43.3 6.7M52.7 45.1L54.5 46.9L56.7 48.3L58.8 49.9L60.9 51.3L63 52.9L65.3 54L67.3 55.6L69.7 54.8L72.2 54.3L74.8 54.6L76.1 54.8M53.6 11.6L55.8 10.1L58.1 9M40.4 57L42.2 58.9L43.7 61.1L44.2 63.6L44.3 66.1L46.1 68L47.4 70.2L49.1 72.2L50.9 74.1L53 75.5M54.5 31.1L56.9 32.2L59.3 32.5L61.7 31.5L64.1 30.7M40.8 -4.4L43.3 -4.1L45.7 -3.1L48.2 -2.3L50.5 -1.1M58.8 16.1L61.2 15.3L63.7 15.8L65 16.2M89 49L91 50.7L92.9 52.4L94.9 54L97.1 55.5M24.7 34.4L27.1 33.4L29.5 32.5L32.1 32.2M14.4 16.6L16.9 17L19.3 18L21.9 18.4M89.4 3.1L91.9 3.4L94.5 3.1L97.1 2.7M71.8 26.6L74 25.2L76.1 23.6L78.6 23L81.1 22.5M34.2 43.5L36.1 45.3L38.1 46.9L40.2 48.5L42.4 49.7L44.5 51.3L46.5 52.9L48.9 53.9L51.3 54.8L53.7 55.8L56.1 56.9L58.4 58L60.4 59.7M101.7 -1.9L104.2 -1.4L106.6 -2.3M22.3 40.4L24.7 40.9L26.7 42.3L27.8 44.6L28.6 47.1L30.3 49L32.4 50.6M42.3 29L44.8 29.6L46.9 31.1L47.7 32.2M87.7 24.3L90.1 25.3L92.6 25.8M36.8 36.5L38 36.1L39.2 35.7M75.3 69.8L77.7 70.9L80 72.1L82.3 73.2L84.5 74.6L86.5 76.3L88.4 77.9L90.4 79.6L92.2 81.5L94.1 83.2M81.1 -6L83.6 -5.3L86.1 -4.7L88.3 -3.4M78.2 30.2L80.3 31.8L82.4 33.2L84.6 34.6M80.1 48.9L81.6 51.1L82.9 53.3L84.1 55.6L86.3 57L88.3 58.7L90.2 60.5L92 62.3L94.1 63.8L96 65.6L97.8 67.5L99.7 69.2M-9.1 66.5L-9.2 69L-7.5 70.9L-5.2 72.1L-3.2 73.8L-1.5 75.8L0.6 77.4L2.8 78.7L5.1 79.9L7.5 80.8L9.8 82.1M33.5 68.7L35.8 69.8L37.4 71.9L39.7 73.1L41.7 74.6L43.4 76.6L45.1 78.6L47.1 80.2L49.6 81.1L51.8 82.5L54.3 83L56.8 83.3L59.4 83.3L62 83L64.6 83L65.9 83.2M15 32.3L17.4 33.4L18.3 34.3M27.9 4.8L30.5 4.8L31.7 5.2M15 -3.8L17.3 -2.6L19.9 -2.4L22.5 -2.1L25 -2.5M67.1 8.6L69.7 9L72.1 9.8L74.3 11.2M-9 56.8L-7.5 58.9L-5.5 60.5L-3.7 62.4L-2.2 64.5L-0.2 66.2L1.7 67.9L3.5 69.8L5.3 71.7L7.1 73.5L9.5 74.5M55.8 -5.8L58.1 -4.8L60.6 -4M101.4 61.2L103 63.2L105.2 64.6L107.5 65.9L108.3 68.2L108.1 70.8L108.4 73.4L108.3 76M4.2 -0.9L6.4 0.4L8.7 1.5M97.5 47L99.6 48.5L101.5 50.3L103.7 51.6L106 52.9M66.9 1.3L69.2 -0L70.3 -2.3M15.7 71.9L17.3 73.9L19.3 75.6L21.5 76.9L23.5 78.5L25.2 80.5L27.1 82.3M27.8 15.3L29.2 17.5L31.6 18.2L34.2 17.6M93.1 -7.8L94.8 -5.9L95.8 -5.1M65.3 64.3L66.9 66.3L68.8 68M70.3 19.9L72.4 18.3L73.5 17.6M99.4 23.9L101.9 23.4L104.5 23.9L105.8 23.9M99.5 9.4L102 9.7L104.6 9.7M39.4 13.1L41.9 13.8L44.4 13.4L47 13.3M6.8 9.9L8.1 10.2M71.5 42.4L73.3 44.1L75.7 44L78 42.8M102.1 41.5L104.6 41.9L107.1 42.5M0.1 23.8L2.7 24L5.3 24L7.7 24.9L8.9 27.3M31.6 -2.6L33.6 -1L34.9 -1.2M-3.7 -4.8L-1.3 -5.8L1.1 -6.9M72.1 33.7L73.7 35.8L74.8 36.5M22.5 11.8h.01M-8.6 20.2L-6.1 19.7L-4.8 19.5M7.5 -6.6L8.7 -5.9M64.5 45.4L65.5 46.3L66.5 47.1M50.2 6h.01M55.9 2.6L58 2.2L59.3 2.6" stroke="#f4eef3" stroke-width="1.1"/>
<path d="M84.3 43.8L84.7 42.5" stroke="#f4eef3" stroke-width="1.1"/>
<path d="M27.5 63.5L28.6 64L29 65.3M50.2 60.4L50.7 61.6L52 61.6M64.8 21.9h.01M11.1 46.1L11.6 47.3M13.9 62.3L14.9 63.1L15.5 64.2M49.3 25.9L50.5 26.4M85.3 18.4L86.6 17.9L87.9 18M31.1 10.7L32 11.7L33.3 11.8M93.8 9.3h.01M8.5 18.3L8.8 17.1L8.8 15.8M45.6 45L46.5 46M102.9 74.2h.01" stroke="#f4eef3" stroke-width="0.6"/>
<path d="M22.5 28.7L23.6 28L24.4 29M73.7 49.7L75 49.5M101.7 4.1L103 4.1M36.7 52.9h.01M80.6 38.1L81.8 38.6M79.9 58.5h.01M25.8 21.5h.01M83.5 0.3L84.6 1.1M85.3 28.8L86.4 29.5L87.4 30.4M75.4 -2.9L76.7 -2.8M14.1 2.9L15.1 2.1M-1.9 -0L-0.7 0.1M36.3 28.8L37.3 27.9L37.8 26.7M89 36.6L90.3 37.1M29.7 37.6L30.8 38.2M102 36.2L103.3 36.2M58.9 64.7L60.2 64.5L60.3 65.8M41.8 0.5L42.9 1.1M9.8 58.7L10.4 59.9M57.1 42.8h.01M9.9 32h.01M39.4 41.5h.01M66.9 25.9h.01" stroke="#f4eef3" stroke-width="0.4"/>
</g></g>
<rect width="99.2" height="74.1" filter="url(#gp13)"/>
<rect width="99.2" height="74.1" fill="url(#v13)"/></g></g>
<g transform="translate(236.9,602.2)" clip-path="url(#tc)"><g filter="url(#bl05)"><rect width="99.2" height="74.1" fill="#c998b8"/>
<g fill="none" stroke-linecap="round" stroke-linejoin="round">
<path d="M93.5 82.4L94.6 80.1L95.6 77.7L96.5 75.3L97.1 72.8L97.6 70.2L97.9 67.7L98.4 65.1L98.6 62.5M64.7 60.1L65.2 57.6L65.3 55L65.8 52.4L66.5 49.9L67 47.4L67.9 44.9L68.9 42.5L69.5 40L70.1 37.5L71 35M81.8 28.2L83 26L84.3 23.7L85.3 21.4L86.3 18.9L87 16.4M56.6 77.3L58.8 75.9L60.7 74.1L62.1 71.9M94.3 46.4L95.7 44.2L97.3 42.1L99.2 40.3L101 38.5L102.7 36.5L103.9 34.3M51.4 68L52.8 65.8L54.4 63.7L55.7 61.5L56.8 59.1M82.9 53.1L84.4 51L86 49L87.5 46.8L88.5 44.4M98 3.3L99.4 1.1L100.7 -1.2M-0.4 3.8L-0.3 6.4L-0.7 9L-1.6 11.4L-2.3 13.9L-2.9 16.4L-3.5 19L-3.9 21.5L-4.5 24.1L-5.2 26.6L-5.4 29.2L-5.5 31.8L-5.3 34.3L-4.9 36.9L-4.6 39.5L-4.3 42.1L-3.7 44.6L-3.1 47.1L-2.7 49.7M20.7 71.4L22.1 69.3L23.5 67.1L24.3 64.6L25.2 62.2M59.3 8.5L60.4 6.1L61.9 4L63 1.7L63.9 -0.8L64.8 -3.2L65.4 -5.7L66.1 -8.2M75.2 69.3L77.1 67.5L78.7 65.5L80.3 63.5L81.6 61.2L83.4 59.4M31.4 54.2L33 52.1L34.4 49.9L36.2 48.1L38.4 46.8M35.5 60.7L36.6 58.4L38 56.2L39.4 54L41.4 52.4M40.5 14.8L41.4 12.4L42.8 10.2L44.2 8L45.4 5.7L46.5 3.3M35 33L36.2 30.6L37.2 28.2L38.1 25.8L39.5 23.7L41.2 21.6M52.4 8.2L53.7 5.9L54.6 3.5L55.4 1M14.6 27.6L15.7 25.2L16.4 22.7L17.1 20.2M77.1 50.8L78.7 48.7L80.2 46.6L81.1 44.2L82.2 41.8L83.6 39.6L84.7 37.3L86.1 35.1M18.1 51.5L20 49.6L21.7 47.7L23.2 45.5L24.4 43.3L26.2 41.4L28 39.5L29.9 37.9L31.1 37.4M9.3 45.5L9.4 48.1L9.4 50.7L9.7 53.3L9.7 55.9L9.8 58.5L9.6 61.1L9.8 63.7L9.4 66.2L9 68.8L8.8 71.4L8.1 73.9L7.4 76.4L6.5 78.8M59.6 66.7L60.6 65.9L60.7 64.6M41.5 82.3L44 82.4L46.6 82.3L48.4 80.6L49.7 78.3L50.7 75.9L51.9 73.7M92.7 26.5L93.9 24.3L94.9 21.8L96 19.5L96.8 17.1L97.8 14.6L98.3 12.1L99.5 9.9L101.5 8.3M19.6 2.9L18.2 5.1L16.5 7.1L14.9 9.1L13.8 11.5L12.9 13.9L11.6 16.2L10.6 18.6L9.7 21L8.6 23.4L7.5 25.7L6.6 28.1L5.9 30.6L5.8 33.2L6.4 35.8L7.3 38.2M66.2 20.7L68.1 18.9L69.9 17.1L71.9 15.5L74.2 14.2L76.2 12.6M8.4 -8L8.3 -5.4L7.7 -2.9L7.3 -0.3L7.5 2.2L7.6 4.8L7.6 7.4L7.2 10L6.5 12.5M84 70.1L85.2 67.9L86.8 65.9L88.1 63.6L89.6 61.5L91.5 59.7M58.5 36.9L59.8 34.6L61.3 32.5L62.4 30.2L63.3 27.8L65.4 26.7M25.4 16.5L26.1 14L26.9 11.6L27.6 9.1L28.4 6.6M74.6 6.6L77.1 6.4L79.6 5.7L80.8 3.4L81.7 1M47.3 51.8L48.6 49.8L50.2 47.7L50.8 45.2L51.5 42.7M100.3 49.4L102 47.5L103.6 45.5M35.5 6L36.8 3.7L37.8 1.3L38.9 -1M29.9 76.6L30.8 74.1L31.3 71.6L31.7 69L32.9 66.8L35.4 66.6L37.9 66.3L39.8 64.6M40.4 41.2L43 41.2L45 39.6L47 38M87.4 -0.5L89.1 -2.2L90.8 -4.2L92.8 -5.9L94.4 -8M48.9 29L50.5 27L51.9 24.8L53.4 22.7L54.9 20.6L56.7 18.7M13.3 1.8L13.8 -0.5L14 -3.1L14.9 -5.5L16.4 -7.6L18.9 -8.3M68.2 67.3L69.5 65.1L70.5 62.7L70.7 60.1L72.3 58.1L73.8 56M105.1 64.7L104.6 62.2L104.1 59.7L104.7 57.2L105.5 54.7L106.6 52.4M90 54L92.1 52.6L94.7 52.2M15.5 68.3L15.8 65.8L15.9 63.2L16.7 60.9L18.7 59.1L20.6 57.4M25.5 0L27.2 -1.8L28.4 -4.1L29.6 -6.4L30.2 -7.6M22.6 36.3L24.1 34.2L25.4 32L26.8 29.7M90.8 38.8L92.4 36.8L92.9 34.2L94.2 32.2L96.4 31L98.3 29.2L99.6 26.9L99.9 25.7M29.8 24.2L30.9 21.8L31.1 19.3L31.7 16.7L31.9 15.5M2.8 52.1L1.1 53.9L-0.7 55.8L-1.9 58.1L-1.7 60.6L-1.9 63.2L-2.2 65.8L-3 68.3L-3.3 70.9L-3.5 73.4L-4.7 75.8L-5.6 78.2L-6.5 80.6L-8.2 82.5M74.2 44.9L74.9 42.6L75.5 40.1L76.5 37.7L77.3 35.2L77.6 34M62.1 15L64.5 13.9L66.3 12.1L68 10.1L69.2 9.5M76.2 25.3L77.3 22.9L78 20.4L79.5 18.3M35.4 79.7L37.1 77.8L39.5 76.8L41.8 75.8L43.1 73.6L43.9 71.2L44.9 68.8L45.5 66.2L45.8 63.7M56.9 50.8L57 48.2L57.2 45.6L58.2 43.5L60.6 42.6L62.9 41.3M68 76.8L69.6 74.8L71.7 73.9M45.1 -2.7L47.3 -4L47.8 -6.5L48 -7.8M69.2 2.8L70.8 0.8L72.3 -1.4L74 -3.3L75.3 -5.6L76.7 -7.8L79.2 -8.1L81.8 -8.2L84.4 -8M52.4 35.9L53.2 33.5L54.6 31.3L56.2 29.3M89 8.6L90.3 6.4L91.6 4.1M102.4 20.3L103.3 17.8L104.2 15.4L105.7 13.3M20.8 28.4L21.8 26L22.8 23.6L23 22.3M76.2 79.1L77.6 76.9L79.1 74.8L79.1 73.5M13.6 78.4L14.2 75.9L15 74.9M47.1 20.6L48.4 18.7L49.9 16.6L51.2 14.3M15.4 45L14.6 42.5L15 40.1L16.7 38.2L16.5 35.6M40.7 34.7L42.4 32.9L43.1 30.4L43 29.1M48 58.3L50.3 57L52.2 55.3M82.2 11.4L83.3 10.7M2.4 73.3h.01M3.2 17.4L3 19.7L2.3 22.2L1.5 24.6M100 82.5L101.9 80.7L103.2 78.4L104.1 76L105 73.6L106.6 71.7M84.5 82.2L86.2 80.4L87.2 78L88 75.5L89 73.1L90.6 71.1L91.8 69M19 81.9L19.6 79.3L20.9 77.4L23.5 76.9M-3.7 -8L-3.4 -5.4L-2.7 -2.9L-4 -0.9L-5.9 0.8L-7.1 3.1L-8.3 5.4L-8 8L-8 10.6L-8.4 13.1M1.6 39.6L2.1 42.1L2.7 44.5L3 45.8M19.6 14.8L19.6 13.5L20.1 12.4M53.6 -4.6L54.9 -6.9L55.3 -8.1M104.7 -5.5L106.1 -7.6L107.3 -8.2" stroke="#a68aba" stroke-width="6.5"/>
<path d="M30 45.9L31.8 44.1L32.9 43.4M71.7 29.3h.01" stroke="#a68aba" stroke-width="6.5"/>
<path d="M25.5 56.3L25.4 53.8L26.8 51.6M96.4 57.3L97.4 56.5L98.6 55.9M0.1 32.6L0.4 33.9M3.7 59.8L3.6 61L3.6 62.3M59.5 -3.4L59.5 -4.7M19.4 -2.3L21.6 -3.4L22.4 -4.4M32 1.2L32.9 -1.2L33.8 -3.6M92 13.7L93 12.9L93.2 11.6M12.5 32.6L11.7 33.7M3.6 66.8L2.5 67.5M29.5 59.2h.01M35.7 11.7h.01M2.7 -3.6L2.4 -2.3L2.1 -1M87.4 29.8L88.2 28.8L87.8 27.6M71.4 50.7L71.8 49.5" stroke="#a68aba" stroke-width="4.9"/>
<path d="M61.7 49.6L61.5 48.3L62.3 47.3M56.4 14.2L57.3 13.3M36.5 19.3L37.1 18.2M31.2 29.8L31.4 28.5M36.3 39.6L36.7 38.4M93.5 -0.1L94.8 -0.3L95.3 -1.5M84.6 5.9L85.4 5M64.2 36.2L65.1 35.3L65.8 34.2M71.8 23L72.3 21.8L72.9 20.6M13.8 49.6h.01M43.3 47.4L44.3 46.6M37.7 71.9L38.6 71M0.6 29.1h.01M76.2 61.2L76.7 60M78.6 56.3L78.9 55M42.9 60.3L43.2 59M21.8 8.2L23 7.7L23.5 6.5M59.6 55.1L60.4 54.1L61.1 53.1M49.8 0.3L50.7 -0.7M26.7 71.8L26.9 70.5M46 14L46.9 13.1L47.1 11.9M5.4 56.5h.01M56.8 71.2h.01M89.6 22.4L90.2 21.2M31.8 10.4L32.8 9.5M91.3 17.8h.01M69.7 25.2h.01M58.4 24.5L59.5 23.8L60 22.6M76 1.4L76.8 0.4M76.1 29.8h.01M82.3 32.6h.01M14.1 55.9L14.3 54.6M17.4 31.2h.01" stroke="#a68aba" stroke-width="3.7"/>
<path d="M93.5 82.4L94.6 80.1L95.6 77.7L96.5 75.3L97.1 72.8L97.6 70.2L97.9 67.7L98.4 65.1L98.6 62.5M64.7 60.1L65.2 57.6L65.3 55L65.8 52.4L66.5 49.9L67 47.4L67.9 44.9L68.9 42.5L69.5 40L70.1 37.5L71 35M81.8 28.2L83 26L84.3 23.7L85.3 21.4L86.3 18.9L87 16.4M56.6 77.3L58.8 75.9L60.7 74.1L62.1 71.9M94.3 46.4L95.7 44.2L97.3 42.1L99.2 40.3L101 38.5L102.7 36.5L103.9 34.3M51.4 68L52.8 65.8L54.4 63.7L55.7 61.5L56.8 59.1M82.9 53.1L84.4 51L86 49L87.5 46.8L88.5 44.4M98 3.3L99.4 1.1L100.7 -1.2M-0.4 3.8L-0.3 6.4L-0.7 9L-1.6 11.4L-2.3 13.9L-2.9 16.4L-3.5 19L-3.9 21.5L-4.5 24.1L-5.2 26.6L-5.4 29.2L-5.5 31.8L-5.3 34.3L-4.9 36.9L-4.6 39.5L-4.3 42.1L-3.7 44.6L-3.1 47.1L-2.7 49.7M20.7 71.4L22.1 69.3L23.5 67.1L24.3 64.6L25.2 62.2M59.3 8.5L60.4 6.1L61.9 4L63 1.7L63.9 -0.8L64.8 -3.2L65.4 -5.7L66.1 -8.2M75.2 69.3L77.1 67.5L78.7 65.5L80.3 63.5L81.6 61.2L83.4 59.4M31.4 54.2L33 52.1L34.4 49.9L36.2 48.1L38.4 46.8M35.5 60.7L36.6 58.4L38 56.2L39.4 54L41.4 52.4M40.5 14.8L41.4 12.4L42.8 10.2L44.2 8L45.4 5.7L46.5 3.3M35 33L36.2 30.6L37.2 28.2L38.1 25.8L39.5 23.7L41.2 21.6M52.4 8.2L53.7 5.9L54.6 3.5L55.4 1M14.6 27.6L15.7 25.2L16.4 22.7L17.1 20.2M77.1 50.8L78.7 48.7L80.2 46.6L81.1 44.2L82.2 41.8L83.6 39.6L84.7 37.3L86.1 35.1M18.1 51.5L20 49.6L21.7 47.7L23.2 45.5L24.4 43.3L26.2 41.4L28 39.5L29.9 37.9L31.1 37.4M9.3 45.5L9.4 48.1L9.4 50.7L9.7 53.3L9.7 55.9L9.8 58.5L9.6 61.1L9.8 63.7L9.4 66.2L9 68.8L8.8 71.4L8.1 73.9L7.4 76.4L6.5 78.8M59.6 66.7L60.6 65.9L60.7 64.6M41.5 82.3L44 82.4L46.6 82.3L48.4 80.6L49.7 78.3L50.7 75.9L51.9 73.7M92.7 26.5L93.9 24.3L94.9 21.8L96 19.5L96.8 17.1L97.8 14.6L98.3 12.1L99.5 9.9L101.5 8.3M19.6 2.9L18.2 5.1L16.5 7.1L14.9 9.1L13.8 11.5L12.9 13.9L11.6 16.2L10.6 18.6L9.7 21L8.6 23.4L7.5 25.7L6.6 28.1L5.9 30.6L5.8 33.2L6.4 35.8L7.3 38.2M66.2 20.7L68.1 18.9L69.9 17.1L71.9 15.5L74.2 14.2L76.2 12.6M8.4 -8L8.3 -5.4L7.7 -2.9L7.3 -0.3L7.5 2.2L7.6 4.8L7.6 7.4L7.2 10L6.5 12.5M84 70.1L85.2 67.9L86.8 65.9L88.1 63.6L89.6 61.5L91.5 59.7M58.5 36.9L59.8 34.6L61.3 32.5L62.4 30.2L63.3 27.8L65.4 26.7M25.4 16.5L26.1 14L26.9 11.6L27.6 9.1L28.4 6.6M74.6 6.6L77.1 6.4L79.6 5.7L80.8 3.4L81.7 1M47.3 51.8L48.6 49.8L50.2 47.7L50.8 45.2L51.5 42.7M100.3 49.4L102 47.5L103.6 45.5M35.5 6L36.8 3.7L37.8 1.3L38.9 -1M29.9 76.6L30.8 74.1L31.3 71.6L31.7 69L32.9 66.8L35.4 66.6L37.9 66.3L39.8 64.6M40.4 41.2L43 41.2L45 39.6L47 38M87.4 -0.5L89.1 -2.2L90.8 -4.2L92.8 -5.9L94.4 -8M48.9 29L50.5 27L51.9 24.8L53.4 22.7L54.9 20.6L56.7 18.7M13.3 1.8L13.8 -0.5L14 -3.1L14.9 -5.5L16.4 -7.6L18.9 -8.3M68.2 67.3L69.5 65.1L70.5 62.7L70.7 60.1L72.3 58.1L73.8 56M105.1 64.7L104.6 62.2L104.1 59.7L104.7 57.2L105.5 54.7L106.6 52.4M90 54L92.1 52.6L94.7 52.2M15.5 68.3L15.8 65.8L15.9 63.2L16.7 60.9L18.7 59.1L20.6 57.4M25.5 0L27.2 -1.8L28.4 -4.1L29.6 -6.4L30.2 -7.6M22.6 36.3L24.1 34.2L25.4 32L26.8 29.7M90.8 38.8L92.4 36.8L92.9 34.2L94.2 32.2L96.4 31L98.3 29.2L99.6 26.9L99.9 25.7M29.8 24.2L30.9 21.8L31.1 19.3L31.7 16.7L31.9 15.5M2.8 52.1L1.1 53.9L-0.7 55.8L-1.9 58.1L-1.7 60.6L-1.9 63.2L-2.2 65.8L-3 68.3L-3.3 70.9L-3.5 73.4L-4.7 75.8L-5.6 78.2L-6.5 80.6L-8.2 82.5M74.2 44.9L74.9 42.6L75.5 40.1L76.5 37.7L77.3 35.2L77.6 34M62.1 15L64.5 13.9L66.3 12.1L68 10.1L69.2 9.5M76.2 25.3L77.3 22.9L78 20.4L79.5 18.3M35.4 79.7L37.1 77.8L39.5 76.8L41.8 75.8L43.1 73.6L43.9 71.2L44.9 68.8L45.5 66.2L45.8 63.7M56.9 50.8L57 48.2L57.2 45.6L58.2 43.5L60.6 42.6L62.9 41.3M68 76.8L69.6 74.8L71.7 73.9M45.1 -2.7L47.3 -4L47.8 -6.5L48 -7.8M69.2 2.8L70.8 0.8L72.3 -1.4L74 -3.3L75.3 -5.6L76.7 -7.8L79.2 -8.1L81.8 -8.2L84.4 -8M52.4 35.9L53.2 33.5L54.6 31.3L56.2 29.3M89 8.6L90.3 6.4L91.6 4.1M102.4 20.3L103.3 17.8L104.2 15.4L105.7 13.3M20.8 28.4L21.8 26L22.8 23.6L23 22.3M76.2 79.1L77.6 76.9L79.1 74.8L79.1 73.5M13.6 78.4L14.2 75.9L15 74.9M47.1 20.6L48.4 18.7L49.9 16.6L51.2 14.3M15.4 45L14.6 42.5L15 40.1L16.7 38.2L16.5 35.6M40.7 34.7L42.4 32.9L43.1 30.4L43 29.1M48 58.3L50.3 57L52.2 55.3M82.2 11.4L83.3 10.7M2.4 73.3h.01M3.2 17.4L3 19.7L2.3 22.2L1.5 24.6M100 82.5L101.9 80.7L103.2 78.4L104.1 76L105 73.6L106.6 71.7M84.5 82.2L86.2 80.4L87.2 78L88 75.5L89 73.1L90.6 71.1L91.8 69M19 81.9L19.6 79.3L20.9 77.4L23.5 76.9M-3.7 -8L-3.4 -5.4L-2.7 -2.9L-4 -0.9L-5.9 0.8L-7.1 3.1L-8.3 5.4L-8 8L-8 10.6L-8.4 13.1M1.6 39.6L2.1 42.1L2.7 44.5L3 45.8M19.6 14.8L19.6 13.5L20.1 12.4M53.6 -4.6L54.9 -6.9L55.3 -8.1M104.7 -5.5L106.1 -7.6L107.3 -8.2" stroke="#cfbbd9" stroke-width="5.3"/>
<path d="M30 45.9L31.8 44.1L32.9 43.4M71.7 29.3h.01" stroke="#cfbbd9" stroke-width="5.3"/>
<path d="M25.5 56.3L25.4 53.8L26.8 51.6M96.4 57.3L97.4 56.5L98.6 55.9M0.1 32.6L0.4 33.9M3.7 59.8L3.6 61L3.6 62.3M59.5 -3.4L59.5 -4.7M19.4 -2.3L21.6 -3.4L22.4 -4.4M32 1.2L32.9 -1.2L33.8 -3.6M92 13.7L93 12.9L93.2 11.6M12.5 32.6L11.7 33.7M3.6 66.8L2.5 67.5M29.5 59.2h.01M35.7 11.7h.01M2.7 -3.6L2.4 -2.3L2.1 -1M87.4 29.8L88.2 28.8L87.8 27.6M71.4 50.7L71.8 49.5" stroke="#cfbbd9" stroke-width="3.7"/>
<path d="M61.7 49.6L61.5 48.3L62.3 47.3M56.4 14.2L57.3 13.3M36.5 19.3L37.1 18.2M31.2 29.8L31.4 28.5M36.3 39.6L36.7 38.4M93.5 -0.1L94.8 -0.3L95.3 -1.5M84.6 5.9L85.4 5M64.2 36.2L65.1 35.3L65.8 34.2M71.8 23L72.3 21.8L72.9 20.6M13.8 49.6h.01M43.3 47.4L44.3 46.6M37.7 71.9L38.6 71M0.6 29.1h.01M76.2 61.2L76.7 60M78.6 56.3L78.9 55M42.9 60.3L43.2 59M21.8 8.2L23 7.7L23.5 6.5M59.6 55.1L60.4 54.1L61.1 53.1M49.8 0.3L50.7 -0.7M26.7 71.8L26.9 70.5M46 14L46.9 13.1L47.1 11.9M5.4 56.5h.01M56.8 71.2h.01M89.6 22.4L90.2 21.2M31.8 10.4L32.8 9.5M91.3 17.8h.01M69.7 25.2h.01M58.4 24.5L59.5 23.8L60 22.6M76 1.4L76.8 0.4M76.1 29.8h.01M82.3 32.6h.01M14.1 55.9L14.3 54.6M17.4 31.2h.01" stroke="#cfbbd9" stroke-width="2.5"/>
<g filter="url(#bl08)">
<path d="M93.5 82.4L94.6 80.1L95.6 77.7L96.5 75.3L97.1 72.8L97.6 70.2L97.9 67.7L98.4 65.1L98.6 62.5M64.7 60.1L65.2 57.6L65.3 55L65.8 52.4L66.5 49.9L67 47.4L67.9 44.9L68.9 42.5L69.5 40L70.1 37.5L71 35M81.8 28.2L83 26L84.3 23.7L85.3 21.4L86.3 18.9L87 16.4M56.6 77.3L58.8 75.9L60.7 74.1L62.1 71.9M94.3 46.4L95.7 44.2L97.3 42.1L99.2 40.3L101 38.5L102.7 36.5L103.9 34.3M51.4 68L52.8 65.8L54.4 63.7L55.7 61.5L56.8 59.1M82.9 53.1L84.4 51L86 49L87.5 46.8L88.5 44.4M98 3.3L99.4 1.1L100.7 -1.2M-0.4 3.8L-0.3 6.4L-0.7 9L-1.6 11.4L-2.3 13.9L-2.9 16.4L-3.5 19L-3.9 21.5L-4.5 24.1L-5.2 26.6L-5.4 29.2L-5.5 31.8L-5.3 34.3L-4.9 36.9L-4.6 39.5L-4.3 42.1L-3.7 44.6L-3.1 47.1L-2.7 49.7M20.7 71.4L22.1 69.3L23.5 67.1L24.3 64.6L25.2 62.2M59.3 8.5L60.4 6.1L61.9 4L63 1.7L63.9 -0.8L64.8 -3.2L65.4 -5.7L66.1 -8.2M75.2 69.3L77.1 67.5L78.7 65.5L80.3 63.5L81.6 61.2L83.4 59.4M31.4 54.2L33 52.1L34.4 49.9L36.2 48.1L38.4 46.8M35.5 60.7L36.6 58.4L38 56.2L39.4 54L41.4 52.4M40.5 14.8L41.4 12.4L42.8 10.2L44.2 8L45.4 5.7L46.5 3.3M35 33L36.2 30.6L37.2 28.2L38.1 25.8L39.5 23.7L41.2 21.6M52.4 8.2L53.7 5.9L54.6 3.5L55.4 1M14.6 27.6L15.7 25.2L16.4 22.7L17.1 20.2M77.1 50.8L78.7 48.7L80.2 46.6L81.1 44.2L82.2 41.8L83.6 39.6L84.7 37.3L86.1 35.1M18.1 51.5L20 49.6L21.7 47.7L23.2 45.5L24.4 43.3L26.2 41.4L28 39.5L29.9 37.9L31.1 37.4M9.3 45.5L9.4 48.1L9.4 50.7L9.7 53.3L9.7 55.9L9.8 58.5L9.6 61.1L9.8 63.7L9.4 66.2L9 68.8L8.8 71.4L8.1 73.9L7.4 76.4L6.5 78.8M59.6 66.7L60.6 65.9L60.7 64.6M41.5 82.3L44 82.4L46.6 82.3L48.4 80.6L49.7 78.3L50.7 75.9L51.9 73.7M92.7 26.5L93.9 24.3L94.9 21.8L96 19.5L96.8 17.1L97.8 14.6L98.3 12.1L99.5 9.9L101.5 8.3M19.6 2.9L18.2 5.1L16.5 7.1L14.9 9.1L13.8 11.5L12.9 13.9L11.6 16.2L10.6 18.6L9.7 21L8.6 23.4L7.5 25.7L6.6 28.1L5.9 30.6L5.8 33.2L6.4 35.8L7.3 38.2M66.2 20.7L68.1 18.9L69.9 17.1L71.9 15.5L74.2 14.2L76.2 12.6M8.4 -8L8.3 -5.4L7.7 -2.9L7.3 -0.3L7.5 2.2L7.6 4.8L7.6 7.4L7.2 10L6.5 12.5M84 70.1L85.2 67.9L86.8 65.9L88.1 63.6L89.6 61.5L91.5 59.7M58.5 36.9L59.8 34.6L61.3 32.5L62.4 30.2L63.3 27.8L65.4 26.7M25.4 16.5L26.1 14L26.9 11.6L27.6 9.1L28.4 6.6M74.6 6.6L77.1 6.4L79.6 5.7L80.8 3.4L81.7 1M47.3 51.8L48.6 49.8L50.2 47.7L50.8 45.2L51.5 42.7M100.3 49.4L102 47.5L103.6 45.5M35.5 6L36.8 3.7L37.8 1.3L38.9 -1M29.9 76.6L30.8 74.1L31.3 71.6L31.7 69L32.9 66.8L35.4 66.6L37.9 66.3L39.8 64.6M40.4 41.2L43 41.2L45 39.6L47 38M87.4 -0.5L89.1 -2.2L90.8 -4.2L92.8 -5.9L94.4 -8M48.9 29L50.5 27L51.9 24.8L53.4 22.7L54.9 20.6L56.7 18.7M13.3 1.8L13.8 -0.5L14 -3.1L14.9 -5.5L16.4 -7.6L18.9 -8.3M68.2 67.3L69.5 65.1L70.5 62.7L70.7 60.1L72.3 58.1L73.8 56M105.1 64.7L104.6 62.2L104.1 59.7L104.7 57.2L105.5 54.7L106.6 52.4M90 54L92.1 52.6L94.7 52.2M15.5 68.3L15.8 65.8L15.9 63.2L16.7 60.9L18.7 59.1L20.6 57.4M25.5 0L27.2 -1.8L28.4 -4.1L29.6 -6.4L30.2 -7.6M22.6 36.3L24.1 34.2L25.4 32L26.8 29.7M90.8 38.8L92.4 36.8L92.9 34.2L94.2 32.2L96.4 31L98.3 29.2L99.6 26.9L99.9 25.7M29.8 24.2L30.9 21.8L31.1 19.3L31.7 16.7L31.9 15.5M2.8 52.1L1.1 53.9L-0.7 55.8L-1.9 58.1L-1.7 60.6L-1.9 63.2L-2.2 65.8L-3 68.3L-3.3 70.9L-3.5 73.4L-4.7 75.8L-5.6 78.2L-6.5 80.6L-8.2 82.5M74.2 44.9L74.9 42.6L75.5 40.1L76.5 37.7L77.3 35.2L77.6 34M62.1 15L64.5 13.9L66.3 12.1L68 10.1L69.2 9.5M76.2 25.3L77.3 22.9L78 20.4L79.5 18.3M35.4 79.7L37.1 77.8L39.5 76.8L41.8 75.8L43.1 73.6L43.9 71.2L44.9 68.8L45.5 66.2L45.8 63.7M56.9 50.8L57 48.2L57.2 45.6L58.2 43.5L60.6 42.6L62.9 41.3M68 76.8L69.6 74.8L71.7 73.9M45.1 -2.7L47.3 -4L47.8 -6.5L48 -7.8M69.2 2.8L70.8 0.8L72.3 -1.4L74 -3.3L75.3 -5.6L76.7 -7.8L79.2 -8.1L81.8 -8.2L84.4 -8M52.4 35.9L53.2 33.5L54.6 31.3L56.2 29.3M89 8.6L90.3 6.4L91.6 4.1M102.4 20.3L103.3 17.8L104.2 15.4L105.7 13.3M20.8 28.4L21.8 26L22.8 23.6L23 22.3M76.2 79.1L77.6 76.9L79.1 74.8L79.1 73.5M13.6 78.4L14.2 75.9L15 74.9M47.1 20.6L48.4 18.7L49.9 16.6L51.2 14.3M15.4 45L14.6 42.5L15 40.1L16.7 38.2L16.5 35.6M40.7 34.7L42.4 32.9L43.1 30.4L43 29.1M48 58.3L50.3 57L52.2 55.3M82.2 11.4L83.3 10.7M2.4 73.3h.01M3.2 17.4L3 19.7L2.3 22.2L1.5 24.6M100 82.5L101.9 80.7L103.2 78.4L104.1 76L105 73.6L106.6 71.7M84.5 82.2L86.2 80.4L87.2 78L88 75.5L89 73.1L90.6 71.1L91.8 69M19 81.9L19.6 79.3L20.9 77.4L23.5 76.9M-3.7 -8L-3.4 -5.4L-2.7 -2.9L-4 -0.9L-5.9 0.8L-7.1 3.1L-8.3 5.4L-8 8L-8 10.6L-8.4 13.1M1.6 39.6L2.1 42.1L2.7 44.5L3 45.8M19.6 14.8L19.6 13.5L20.1 12.4M53.6 -4.6L54.9 -6.9L55.3 -8.1M104.7 -5.5L106.1 -7.6L107.3 -8.2" stroke="#e9dfea" stroke-width="2.5" opacity="0.75"/>
<path d="M30 45.9L31.8 44.1L32.9 43.4M71.7 29.3h.01" stroke="#e9dfea" stroke-width="2.5" opacity="0.75"/>
<path d="M25.5 56.3L25.4 53.8L26.8 51.6M96.4 57.3L97.4 56.5L98.6 55.9M0.1 32.6L0.4 33.9M3.7 59.8L3.6 61L3.6 62.3M59.5 -3.4L59.5 -4.7M19.4 -2.3L21.6 -3.4L22.4 -4.4M32 1.2L32.9 -1.2L33.8 -3.6M92 13.7L93 12.9L93.2 11.6M12.5 32.6L11.7 33.7M3.6 66.8L2.5 67.5M29.5 59.2h.01M35.7 11.7h.01M2.7 -3.6L2.4 -2.3L2.1 -1M87.4 29.8L88.2 28.8L87.8 27.6M71.4 50.7L71.8 49.5" stroke="#e9dfea" stroke-width="2" opacity="0.75"/>
<path d="M61.7 49.6L61.5 48.3L62.3 47.3M56.4 14.2L57.3 13.3M36.5 19.3L37.1 18.2M31.2 29.8L31.4 28.5M36.3 39.6L36.7 38.4M93.5 -0.1L94.8 -0.3L95.3 -1.5M84.6 5.9L85.4 5M64.2 36.2L65.1 35.3L65.8 34.2M71.8 23L72.3 21.8L72.9 20.6M13.8 49.6h.01M43.3 47.4L44.3 46.6M37.7 71.9L38.6 71M0.6 29.1h.01M76.2 61.2L76.7 60M78.6 56.3L78.9 55M42.9 60.3L43.2 59M21.8 8.2L23 7.7L23.5 6.5M59.6 55.1L60.4 54.1L61.1 53.1M49.8 0.3L50.7 -0.7M26.7 71.8L26.9 70.5M46 14L46.9 13.1L47.1 11.9M5.4 56.5h.01M56.8 71.2h.01M89.6 22.4L90.2 21.2M31.8 10.4L32.8 9.5M91.3 17.8h.01M69.7 25.2h.01M58.4 24.5L59.5 23.8L60 22.6M76 1.4L76.8 0.4M76.1 29.8h.01M82.3 32.6h.01M14.1 55.9L14.3 54.6M17.4 31.2h.01" stroke="#e9dfea" stroke-width="1.6" opacity="0.75"/>
<path d="M93.5 82.4L94.6 80.1L95.6 77.7L96.5 75.3L97.1 72.8L97.6 70.2L97.9 67.7L98.4 65.1L98.6 62.5M64.7 60.1L65.2 57.6L65.3 55L65.8 52.4L66.5 49.9L67 47.4L67.9 44.9L68.9 42.5L69.5 40L70.1 37.5L71 35M81.8 28.2L83 26L84.3 23.7L85.3 21.4L86.3 18.9L87 16.4M56.6 77.3L58.8 75.9L60.7 74.1L62.1 71.9M94.3 46.4L95.7 44.2L97.3 42.1L99.2 40.3L101 38.5L102.7 36.5L103.9 34.3M51.4 68L52.8 65.8L54.4 63.7L55.7 61.5L56.8 59.1M82.9 53.1L84.4 51L86 49L87.5 46.8L88.5 44.4M98 3.3L99.4 1.1L100.7 -1.2M-0.4 3.8L-0.3 6.4L-0.7 9L-1.6 11.4L-2.3 13.9L-2.9 16.4L-3.5 19L-3.9 21.5L-4.5 24.1L-5.2 26.6L-5.4 29.2L-5.5 31.8L-5.3 34.3L-4.9 36.9L-4.6 39.5L-4.3 42.1L-3.7 44.6L-3.1 47.1L-2.7 49.7M20.7 71.4L22.1 69.3L23.5 67.1L24.3 64.6L25.2 62.2M59.3 8.5L60.4 6.1L61.9 4L63 1.7L63.9 -0.8L64.8 -3.2L65.4 -5.7L66.1 -8.2M75.2 69.3L77.1 67.5L78.7 65.5L80.3 63.5L81.6 61.2L83.4 59.4M31.4 54.2L33 52.1L34.4 49.9L36.2 48.1L38.4 46.8M35.5 60.7L36.6 58.4L38 56.2L39.4 54L41.4 52.4M40.5 14.8L41.4 12.4L42.8 10.2L44.2 8L45.4 5.7L46.5 3.3M35 33L36.2 30.6L37.2 28.2L38.1 25.8L39.5 23.7L41.2 21.6M52.4 8.2L53.7 5.9L54.6 3.5L55.4 1M14.6 27.6L15.7 25.2L16.4 22.7L17.1 20.2M77.1 50.8L78.7 48.7L80.2 46.6L81.1 44.2L82.2 41.8L83.6 39.6L84.7 37.3L86.1 35.1M18.1 51.5L20 49.6L21.7 47.7L23.2 45.5L24.4 43.3L26.2 41.4L28 39.5L29.9 37.9L31.1 37.4M9.3 45.5L9.4 48.1L9.4 50.7L9.7 53.3L9.7 55.9L9.8 58.5L9.6 61.1L9.8 63.7L9.4 66.2L9 68.8L8.8 71.4L8.1 73.9L7.4 76.4L6.5 78.8M59.6 66.7L60.6 65.9L60.7 64.6M41.5 82.3L44 82.4L46.6 82.3L48.4 80.6L49.7 78.3L50.7 75.9L51.9 73.7M92.7 26.5L93.9 24.3L94.9 21.8L96 19.5L96.8 17.1L97.8 14.6L98.3 12.1L99.5 9.9L101.5 8.3M19.6 2.9L18.2 5.1L16.5 7.1L14.9 9.1L13.8 11.5L12.9 13.9L11.6 16.2L10.6 18.6L9.7 21L8.6 23.4L7.5 25.7L6.6 28.1L5.9 30.6L5.8 33.2L6.4 35.8L7.3 38.2M66.2 20.7L68.1 18.9L69.9 17.1L71.9 15.5L74.2 14.2L76.2 12.6M8.4 -8L8.3 -5.4L7.7 -2.9L7.3 -0.3L7.5 2.2L7.6 4.8L7.6 7.4L7.2 10L6.5 12.5M84 70.1L85.2 67.9L86.8 65.9L88.1 63.6L89.6 61.5L91.5 59.7M58.5 36.9L59.8 34.6L61.3 32.5L62.4 30.2L63.3 27.8L65.4 26.7M25.4 16.5L26.1 14L26.9 11.6L27.6 9.1L28.4 6.6M74.6 6.6L77.1 6.4L79.6 5.7L80.8 3.4L81.7 1M47.3 51.8L48.6 49.8L50.2 47.7L50.8 45.2L51.5 42.7M100.3 49.4L102 47.5L103.6 45.5M35.5 6L36.8 3.7L37.8 1.3L38.9 -1M29.9 76.6L30.8 74.1L31.3 71.6L31.7 69L32.9 66.8L35.4 66.6L37.9 66.3L39.8 64.6M40.4 41.2L43 41.2L45 39.6L47 38M87.4 -0.5L89.1 -2.2L90.8 -4.2L92.8 -5.9L94.4 -8M48.9 29L50.5 27L51.9 24.8L53.4 22.7L54.9 20.6L56.7 18.7M13.3 1.8L13.8 -0.5L14 -3.1L14.9 -5.5L16.4 -7.6L18.9 -8.3M68.2 67.3L69.5 65.1L70.5 62.7L70.7 60.1L72.3 58.1L73.8 56M105.1 64.7L104.6 62.2L104.1 59.7L104.7 57.2L105.5 54.7L106.6 52.4M90 54L92.1 52.6L94.7 52.2M15.5 68.3L15.8 65.8L15.9 63.2L16.7 60.9L18.7 59.1L20.6 57.4M25.5 0L27.2 -1.8L28.4 -4.1L29.6 -6.4L30.2 -7.6M22.6 36.3L24.1 34.2L25.4 32L26.8 29.7M90.8 38.8L92.4 36.8L92.9 34.2L94.2 32.2L96.4 31L98.3 29.2L99.6 26.9L99.9 25.7M29.8 24.2L30.9 21.8L31.1 19.3L31.7 16.7L31.9 15.5M2.8 52.1L1.1 53.9L-0.7 55.8L-1.9 58.1L-1.7 60.6L-1.9 63.2L-2.2 65.8L-3 68.3L-3.3 70.9L-3.5 73.4L-4.7 75.8L-5.6 78.2L-6.5 80.6L-8.2 82.5M74.2 44.9L74.9 42.6L75.5 40.1L76.5 37.7L77.3 35.2L77.6 34M62.1 15L64.5 13.9L66.3 12.1L68 10.1L69.2 9.5M76.2 25.3L77.3 22.9L78 20.4L79.5 18.3M35.4 79.7L37.1 77.8L39.5 76.8L41.8 75.8L43.1 73.6L43.9 71.2L44.9 68.8L45.5 66.2L45.8 63.7M56.9 50.8L57 48.2L57.2 45.6L58.2 43.5L60.6 42.6L62.9 41.3M68 76.8L69.6 74.8L71.7 73.9M45.1 -2.7L47.3 -4L47.8 -6.5L48 -7.8M69.2 2.8L70.8 0.8L72.3 -1.4L74 -3.3L75.3 -5.6L76.7 -7.8L79.2 -8.1L81.8 -8.2L84.4 -8M52.4 35.9L53.2 33.5L54.6 31.3L56.2 29.3M89 8.6L90.3 6.4L91.6 4.1M102.4 20.3L103.3 17.8L104.2 15.4L105.7 13.3M20.8 28.4L21.8 26L22.8 23.6L23 22.3M76.2 79.1L77.6 76.9L79.1 74.8L79.1 73.5M13.6 78.4L14.2 75.9L15 74.9M47.1 20.6L48.4 18.7L49.9 16.6L51.2 14.3M15.4 45L14.6 42.5L15 40.1L16.7 38.2L16.5 35.6M40.7 34.7L42.4 32.9L43.1 30.4L43 29.1M48 58.3L50.3 57L52.2 55.3M82.2 11.4L83.3 10.7M2.4 73.3h.01M3.2 17.4L3 19.7L2.3 22.2L1.5 24.6M100 82.5L101.9 80.7L103.2 78.4L104.1 76L105 73.6L106.6 71.7M84.5 82.2L86.2 80.4L87.2 78L88 75.5L89 73.1L90.6 71.1L91.8 69M19 81.9L19.6 79.3L20.9 77.4L23.5 76.9M-3.7 -8L-3.4 -5.4L-2.7 -2.9L-4 -0.9L-5.9 0.8L-7.1 3.1L-8.3 5.4L-8 8L-8 10.6L-8.4 13.1M1.6 39.6L2.1 42.1L2.7 44.5L3 45.8M19.6 14.8L19.6 13.5L20.1 12.4M53.6 -4.6L54.9 -6.9L55.3 -8.1M104.7 -5.5L106.1 -7.6L107.3 -8.2" stroke="#f4eef3" stroke-width="0.9"/>
<path d="M30 45.9L31.8 44.1L32.9 43.4M71.7 29.3h.01" stroke="#f4eef3" stroke-width="0.9"/>
<path d="M25.5 56.3L25.4 53.8L26.8 51.6M96.4 57.3L97.4 56.5L98.6 55.9M0.1 32.6L0.4 33.9M3.7 59.8L3.6 61L3.6 62.3M59.5 -3.4L59.5 -4.7M19.4 -2.3L21.6 -3.4L22.4 -4.4M32 1.2L32.9 -1.2L33.8 -3.6M92 13.7L93 12.9L93.2 11.6M12.5 32.6L11.7 33.7M3.6 66.8L2.5 67.5M29.5 59.2h.01M35.7 11.7h.01M2.7 -3.6L2.4 -2.3L2.1 -1M87.4 29.8L88.2 28.8L87.8 27.6M71.4 50.7L71.8 49.5" stroke="#f4eef3" stroke-width="0.4"/>
<path d="M61.7 49.6L61.5 48.3L62.3 47.3M56.4 14.2L57.3 13.3M36.5 19.3L37.1 18.2M31.2 29.8L31.4 28.5M36.3 39.6L36.7 38.4M93.5 -0.1L94.8 -0.3L95.3 -1.5M84.6 5.9L85.4 5M64.2 36.2L65.1 35.3L65.8 34.2M71.8 23L72.3 21.8L72.9 20.6M13.8 49.6h.01M43.3 47.4L44.3 46.6M37.7 71.9L38.6 71M0.6 29.1h.01M76.2 61.2L76.7 60M78.6 56.3L78.9 55M42.9 60.3L43.2 59M21.8 8.2L23 7.7L23.5 6.5M59.6 55.1L60.4 54.1L61.1 53.1M49.8 0.3L50.7 -0.7M26.7 71.8L26.9 70.5M46 14L46.9 13.1L47.1 11.9M5.4 56.5h.01M56.8 71.2h.01M89.6 22.4L90.2 21.2M31.8 10.4L32.8 9.5M91.3 17.8h.01M69.7 25.2h.01M58.4 24.5L59.5 23.8L60 22.6M76 1.4L76.8 0.4M76.1 29.8h.01M82.3 32.6h.01M14.1 55.9L14.3 54.6M17.4 31.2h.01" stroke="#f4eef3" stroke-width="0.4"/>
</g></g>
<ellipse cx="81" cy="8.3" rx="4.2" ry="1.7" fill="#f2eef2" transform="rotate(5 81 8.3)" />
<ellipse cx="3" cy="60.5" rx="2.6" ry="1" fill="#d58f94" transform="rotate(-30 3 60.5)" />
<rect width="99.2" height="74.1" filter="url(#gp23)"/>
<rect width="99.2" height="74.1" fill="url(#v23)"/>
<polygon points="0,0 5,0 2,3 0,8" fill="#e3e1df" />
<polygon points="99.2,58 99.2,74.1 84,74.1 86,70 91,68 94,62" fill="#dddde1" /></g></g>
<g transform="translate(379.3,524.9) scale(1.004,1)" clip-path="url(#tc)"><g filter="url(#bl05)"><rect width="99.2" height="74.1" fill="#e3e1df"/>
<path d="M-1 12.5 L4 9 9 7 18 6 28 4.8 38 3 48 1.6 59 0 75 0 84 2.2 92 4 101 5.8 101 67 97 69.5 93.5 69.8 87 69.2 75 66.5 66 65 59 64.2 50 64.8 43.5 65.8 35 68 28 70.4 20 73 15 75 -1 75Z" fill="#e0d1dd" stroke="#dba8b6" stroke-width="1.5" stroke-linecap="round" stroke-linejoin="round" />
<g clip-path="url(#c11)">
<g filter="url(#bl3)"><ellipse cx="26" cy="33" rx="19" ry="21" fill="#c2b5d4" opacity="0.9"/><ellipse cx="12" cy="58" rx="20" ry="14" fill="#c6bbd9" opacity="0.8"/><ellipse cx="5" cy="25" rx="8" ry="14" fill="#c9bedb" opacity="0.8"/><ellipse cx="74" cy="36" rx="14" ry="9" fill="#cfc0da" opacity="0.5"/><ellipse cx="64" cy="12" rx="28" ry="8" fill="#e0cedb" opacity="0.8"/><ellipse cx="70" cy="56" rx="24" ry="8" fill="#dfd0de" opacity="0.7"/></g>
<rect width="99.2" height="74.1" filter="url(#g11)"/>
</g>
<ellipse cx="35.1" cy="13.1" rx="3.5" ry="3.3" fill="#6f5190" opacity="0.8"/><ellipse cx="36.1" cy="12.3" rx="2.3" ry="2.1" fill="#f4f0f4" />
<ellipse cx="31.5" cy="17" rx="1.6" ry="1.3" fill="#6a4b88" />
<ellipse cx="24.9" cy="21.7" rx="2.1" ry="1.8" fill="#6f5190" opacity="0.8"/>
<ellipse cx="20" cy="31.5" rx="7.5" ry="2.6" fill="#6f5290" transform="rotate(8 20 31.5)" opacity="0.75"/>
<ellipse cx="31" cy="34" rx="5.5" ry="2.6" fill="#6f5290" transform="rotate(-10 31 34)" opacity="0.75"/>
<ellipse cx="15.5" cy="30.5" rx="2.2" ry="1.2" fill="#f4f0f4" />
<ellipse cx="21.5" cy="32.5" rx="2.6" ry="1.3" fill="#f4f0f4" />
<ellipse cx="27.5" cy="30.5" rx="1.6" ry="1" fill="#f4f0f4" />
<ellipse cx="32.5" cy="34.5" rx="2.6" ry="1.6" fill="#f4f0f4" />
<ellipse cx="37" cy="36.5" rx="1.2" ry="0.9" fill="#f4f0f4" />
<ellipse cx="74.1" cy="34.2" rx="3.9" ry="3.6" fill="#6f5190" opacity="0.8"/><ellipse cx="75.1" cy="33.4" rx="2.7" ry="2.4" fill="#f4f0f4" />
<ellipse cx="81.2" cy="38.3" rx="2.2" ry="1.9" fill="#6f5190" opacity="0.8"/>
<ellipse cx="67.9" cy="36" rx="1.9" ry="2.4" fill="#6f5190" opacity="0.8"/>
<ellipse cx="47.6" cy="49.1" rx="2.8" ry="2.1" fill="#6f5190" opacity="0.8"/><ellipse cx="48.6" cy="48.3" rx="1.7" ry="1.1" fill="#f4f0f4" />
<ellipse cx="31.2" cy="53.8" rx="2.2" ry="2.3" fill="#6f5190" opacity="0.8"/>
<ellipse cx="44.4" cy="34.2" rx="1.6" ry="2" fill="#6f5190" opacity="0.8"/>
<path d="M47 43l3 -3.5 2.5 -1" fill="none" stroke="#f2eef2" stroke-width="1.3" stroke-linecap="round" stroke-linejoin="round" />
<path d="M53 30l3 -1.2 3.5 0.2" fill="none" stroke="#efe9f0" stroke-width="1.1" stroke-linecap="round" stroke-linejoin="round" />
<ellipse cx="96.3" cy="29.8" rx="2.8" ry="1.4" fill="#e9a49b" transform="rotate(8 96.3 29.8)" />
<ellipse cx="95" cy="59.8" rx="2.5" ry="4.4" fill="#e9a49b" transform="rotate(28 95 59.8)" />
<ellipse cx="30.2" cy="7.9" rx="2.6" ry="1" fill="#e9a49b" transform="rotate(-28 30.2 7.9)" />
<ellipse cx="13" cy="12.6" rx="1.2" ry="1.2" fill="#e9a49b" />
<ellipse cx="59" cy="3.8" rx="1.3" ry="1" fill="#e9a49b" />
<ellipse cx="48.2" cy="8.7" rx="1.6" ry="1.2" fill="#e9a49b" />
<ellipse cx="88.8" cy="67.3" rx="2" ry="1" fill="#e9a49b" />
<ellipse cx="83.5" cy="47.5" rx="1.2" ry="0.9" fill="#e9a49b" />
<ellipse cx="71" cy="55" rx="1" ry="0.8" fill="#e9a49b" /></g><rect width="99.2" height="74.1" fill="url(#vR)"/></g>
<g transform="translate(379.3,602.0) scale(1.004,1)" clip-path="url(#tc)"><g filter="url(#bl05)"><rect width="99.2" height="74.1" fill="#dec8d9"/>
<g filter="url(#bl3)"><ellipse cx="16" cy="36" rx="26" ry="42" fill="#bdb1d6" opacity="0.9"/><ellipse cx="92" cy="58" rx="16" ry="24" fill="#c0b2d6" opacity="0.8"/><ellipse cx="80" cy="8" rx="18" ry="9" fill="#c9bad8" opacity="0.7"/></g>
<rect width="99.2" height="74.1" filter="url(#g21)"/>
<g fill="none" stroke-linecap="round" stroke-linejoin="round">
<path d="M-9.3 6.8L-8.6 4.4L-6.1 3.6L-3.6 3.1L-1.2 2.1L1.3 1.3M101 6.9L103 5.2L104.4 3L105.9 0.9L107.4 -1.2L108.5 -3.6M26.8 15.4L28.9 13.8L31.1 12.4L33.5 11.4L35.9 10.6L38.5 10.2L41 9.7M31.1 53.3L33.5 52.3L35.7 50.9L38 49.7L40.6 49.5L43 48.8L44.8 47M-2.3 34.3L-0.2 32.9L1.6 31L3.6 29.3L5.7 27.9L7.9 26.5L10.2 25.2L12.5 24.1M39.7 39.8L42.1 38.9L44.5 37.9L46.9 36.9L48.9 35.3L50.6 33.3L51.5 30.9M26.6 -3.1L29 -3.9L31.5 -4.8L33.9 -5.8L36 -7.3L38.3 -8.5M44.2 74.6L46.2 72.9L48.1 71.2L50.1 69.5L52.3 68.2L54.3 66.5L56.3 64.9L57.9 62.8L59.8 61M20.4 29.2L23 29.6L25.5 30.1L28.1 30.6L30.6 31.1L33.1 31.9L35.7 32.2M75.6 7.5L77.2 5.4L78.3 3.1L79.2 0.6L80.6 -1.5L82.3 -3.5L83.6 -5.7L84.5 -8.2M56.6 37.3L57.9 35.1L58.5 32.6L58.5 30L59.1 27.6L60.8 25.6L62.2 23.4L63.6 21.2L65.1 19.1L66 18.2M65.3 10.1L66.9 8.1L68.2 5.8L69.6 3.7L71.1 1.5L72.2 -0.8L73.3 -3.1L74.4 -5.4L75.3 -7.9L75.8 -9.1M83.9 73L86.3 71.8L88.5 70.5L90.4 68.8L92.4 67L94.3 65.3L95.7 63.1L97.2 61.1L99 59.1L100.6 57.1L102.2 55.1M77.7 39.9L78.8 37.5L79.9 35.2L81.4 33L83.1 31.1L84.5 28.9L86.7 27.6M10.1 15.9L12.2 14.4L14.6 13.4L17 12.4L19.3 11.3M36.4 24.3L38.7 25.5L41 26.7L43.5 26.7L45.9 25.8L48 24.3L49.5 22.1L51.1 20.1L53.1 18.4L54.9 16.5L56.9 14.9M96.5 45.1L97.5 42.7L98.5 40.3L99.7 38L101.1 35.8L102.9 33.9L104.2 31.6L105.3 29.3L106.4 27L107.8 24.7M-2.3 67.2L-0.1 65.9L2.3 64.9L4.7 64L7 62.6L9.2 61.2L11.2 59.6M81.5 66.1L83.3 64.3L84.9 62.3L86.4 60.2L87.6 57.9L89.2 55.8L90.5 53.6L92.3 51.8L93.6 51.5M-1.6 75.9L0.7 74.7L3.1 73.7L5.5 72.9L7.5 71.2L9.5 69.5L11.8 68.4M52.2 83L54.1 81.2L56.1 79.6L57.9 77.7L59.9 76L61.8 74.2M12 52.4L14.4 53.4L16.9 54.2L19.3 53.6L21.8 52.8L24 51.5L25.3 49.3L27.1 47.5M66.8 54.2L68.4 52.2L70 50.1L71.4 47.9L73.1 45.9M24.9 78.7L26.9 77.2L29.1 76L31.7 76L34.3 76.3L36.9 76.3L38.2 78.5M-6 44.6L-3.7 43.5L-1.2 42.7L1.1 41.5L3.2 39.9M79.9 83.3L82.5 82.9L84.1 80.9L86.2 79.6L88.7 78.7L90.9 77.4M66.3 68.9L68.8 68.3L70.8 66.5L72.4 64.5L73.8 62.4L75.6 60.5L77.5 58.7L79.5 57L81.1 54.9M43.7 63.2L45.6 61.4L47.9 60.3L49.5 58.2L51.4 56.6L53.5 55L55.6 53.5M-8.3 18.8L-5.7 19.1L-3.2 19.6L-0.6 19.7L2 19.8L4.6 20.3M48.1 9.4L49.5 7.6L51.4 5.9L53.3 4.1L55 2.1L56.6 0.1L58.2 -2L60 -3.8L61.7 -5.8L62.7 -8.2L63.6 -9.2M9.2 -0.4L11.6 0.6L14.1 1.3L16.6 1.9L19.2 2.1L21.8 2.5M84.8 49.1L86.5 47.2L88.1 45.2L88.7 42.7L89.3 40.2L90.1 37.7L91.3 35.4L92.7 33.2L94.1 31M92.9 24.2L94.1 22.2L96 20.5L98.1 19L100 17.2L102 15.5L103.9 13.7L105.9 12.1L108 10.6M33.5 43.4h.01M39.8 17.2L42.4 16.9L44.9 16.4M-8.1 52.5L-5.5 52L-3 51.4L-0.4 51.4L2 52.4L4.2 53.8L5 54.8M22.8 37.5L25.3 38.1L27.9 38.6L29.1 38M71.1 24.2L72.4 21.9L72.9 19.4L72.9 16.9L72.7 14.3L75.3 14.5L77.9 14.4L80.1 13.1L82.1 11.5M95.5 83L97.9 82.6L99.9 81L102.1 79.6L104.3 78.1L106.4 76.6L108.3 74.9L108.2 72.3L108.4 69.7L107.9 67.2L108.1 65.9M86.1 4.7L88 3.1L89.6 1.1L91 -1.1L92 -2M37 69.1L38.3 69L39.6 69M99.2 -2.2L99.9 -4.7L101.4 -6.8L102.7 -9.1M62.6 83.2L64.6 81.9L66.1 79.8L68.3 78.4L70.4 76.8L72.3 75.1L74.1 73.3L76.2 71.8M-8.6 -3L-6.3 -4.2L-3.9 -5.3L-1.6 -6.4L0.7 -7.6L3 -8.8M9.8 36L12.3 36.5L14.9 36.5L16 38.8L16.5 41.3M40.2 1.7L42.7 0.8L45.1 0L47.5 -1L49.6 -2.5L50.9 -4.8L51.8 -7.2M-4.6 11.9L-2.5 10.4L-0 9.5L2.2 10.7L4.7 10.9L6.8 9.4L7.9 8.8M19.2 21.6L21.5 20.6L23.8 21.8L25.1 22.1M61.9 48.5L63.4 46.5L64.3 45.5M90.5 11.8L92.7 10.5L93.9 10M-9.1 32.2L-9.3 29.6L-7.2 28.1L-4.8 27.3M17.6 64.5L18.6 62.2L20.9 61.1L23.4 60.2L25.8 59.4L27.1 59.5M-8.3 59.4L-5.7 59.7L-4.6 60.4M28.1 5.3L30 4.1L32.3 2.8M103 48.1L104.5 46L105.8 43.7L106.9 41.4L108.2 39.1M96.4 73.1L98.7 72L100.2 69.9L100.8 68.7M6.7 46.1L7.8 46.8M10.2 -9L12 -7.2L14.2 -5.8L16.8 -5.8L19.2 -4.8" stroke="#a08dbf" stroke-width="6.7"/>
<path d="M49.8 43L50.9 42.3L51.9 41.5M59.5 7.1L60.8 4.8L62.4 2.8M99 26.8L99.6 25.7M66 62.1L65.8 60.9L67 60.3M16.5 47.3L19.1 47.1L20 46.2M95.7 3.8h.01M78.5 48.7L79 47.5" stroke="#a08dbf" stroke-width="5"/>
<path d="M-9.3 6.8L-8.6 4.4L-6.1 3.6L-3.6 3.1L-1.2 2.1L1.3 1.3M101 6.9L103 5.2L104.4 3L105.9 0.9L107.4 -1.2L108.5 -3.6M26.8 15.4L28.9 13.8L31.1 12.4L33.5 11.4L35.9 10.6L38.5 10.2L41 9.7M31.1 53.3L33.5 52.3L35.7 50.9L38 49.7L40.6 49.5L43 48.8L44.8 47M-2.3 34.3L-0.2 32.9L1.6 31L3.6 29.3L5.7 27.9L7.9 26.5L10.2 25.2L12.5 24.1M39.7 39.8L42.1 38.9L44.5 37.9L46.9 36.9L48.9 35.3L50.6 33.3L51.5 30.9M26.6 -3.1L29 -3.9L31.5 -4.8L33.9 -5.8L36 -7.3L38.3 -8.5M44.2 74.6L46.2 72.9L48.1 71.2L50.1 69.5L52.3 68.2L54.3 66.5L56.3 64.9L57.9 62.8L59.8 61M20.4 29.2L23 29.6L25.5 30.1L28.1 30.6L30.6 31.1L33.1 31.9L35.7 32.2M75.6 7.5L77.2 5.4L78.3 3.1L79.2 0.6L80.6 -1.5L82.3 -3.5L83.6 -5.7L84.5 -8.2M56.6 37.3L57.9 35.1L58.5 32.6L58.5 30L59.1 27.6L60.8 25.6L62.2 23.4L63.6 21.2L65.1 19.1L66 18.2M65.3 10.1L66.9 8.1L68.2 5.8L69.6 3.7L71.1 1.5L72.2 -0.8L73.3 -3.1L74.4 -5.4L75.3 -7.9L75.8 -9.1M83.9 73L86.3 71.8L88.5 70.5L90.4 68.8L92.4 67L94.3 65.3L95.7 63.1L97.2 61.1L99 59.1L100.6 57.1L102.2 55.1M77.7 39.9L78.8 37.5L79.9 35.2L81.4 33L83.1 31.1L84.5 28.9L86.7 27.6M10.1 15.9L12.2 14.4L14.6 13.4L17 12.4L19.3 11.3M36.4 24.3L38.7 25.5L41 26.7L43.5 26.7L45.9 25.8L48 24.3L49.5 22.1L51.1 20.1L53.1 18.4L54.9 16.5L56.9 14.9M96.5 45.1L97.5 42.7L98.5 40.3L99.7 38L101.1 35.8L102.9 33.9L104.2 31.6L105.3 29.3L106.4 27L107.8 24.7M-2.3 67.2L-0.1 65.9L2.3 64.9L4.7 64L7 62.6L9.2 61.2L11.2 59.6M81.5 66.1L83.3 64.3L84.9 62.3L86.4 60.2L87.6 57.9L89.2 55.8L90.5 53.6L92.3 51.8L93.6 51.5M-1.6 75.9L0.7 74.7L3.1 73.7L5.5 72.9L7.5 71.2L9.5 69.5L11.8 68.4M52.2 83L54.1 81.2L56.1 79.6L57.9 77.7L59.9 76L61.8 74.2M12 52.4L14.4 53.4L16.9 54.2L19.3 53.6L21.8 52.8L24 51.5L25.3 49.3L27.1 47.5M66.8 54.2L68.4 52.2L70 50.1L71.4 47.9L73.1 45.9M24.9 78.7L26.9 77.2L29.1 76L31.7 76L34.3 76.3L36.9 76.3L38.2 78.5M-6 44.6L-3.7 43.5L-1.2 42.7L1.1 41.5L3.2 39.9M79.9 83.3L82.5 82.9L84.1 80.9L86.2 79.6L88.7 78.7L90.9 77.4M66.3 68.9L68.8 68.3L70.8 66.5L72.4 64.5L73.8 62.4L75.6 60.5L77.5 58.7L79.5 57L81.1 54.9M43.7 63.2L45.6 61.4L47.9 60.3L49.5 58.2L51.4 56.6L53.5 55L55.6 53.5M-8.3 18.8L-5.7 19.1L-3.2 19.6L-0.6 19.7L2 19.8L4.6 20.3M48.1 9.4L49.5 7.6L51.4 5.9L53.3 4.1L55 2.1L56.6 0.1L58.2 -2L60 -3.8L61.7 -5.8L62.7 -8.2L63.6 -9.2M9.2 -0.4L11.6 0.6L14.1 1.3L16.6 1.9L19.2 2.1L21.8 2.5M84.8 49.1L86.5 47.2L88.1 45.2L88.7 42.7L89.3 40.2L90.1 37.7L91.3 35.4L92.7 33.2L94.1 31M92.9 24.2L94.1 22.2L96 20.5L98.1 19L100 17.2L102 15.5L103.9 13.7L105.9 12.1L108 10.6M33.5 43.4h.01M39.8 17.2L42.4 16.9L44.9 16.4M-8.1 52.5L-5.5 52L-3 51.4L-0.4 51.4L2 52.4L4.2 53.8L5 54.8M22.8 37.5L25.3 38.1L27.9 38.6L29.1 38M71.1 24.2L72.4 21.9L72.9 19.4L72.9 16.9L72.7 14.3L75.3 14.5L77.9 14.4L80.1 13.1L82.1 11.5M95.5 83L97.9 82.6L99.9 81L102.1 79.6L104.3 78.1L106.4 76.6L108.3 74.9L108.2 72.3L108.4 69.7L107.9 67.2L108.1 65.9M86.1 4.7L88 3.1L89.6 1.1L91 -1.1L92 -2M37 69.1L38.3 69L39.6 69M99.2 -2.2L99.9 -4.7L101.4 -6.8L102.7 -9.1M62.6 83.2L64.6 81.9L66.1 79.8L68.3 78.4L70.4 76.8L72.3 75.1L74.1 73.3L76.2 71.8M-8.6 -3L-6.3 -4.2L-3.9 -5.3L-1.6 -6.4L0.7 -7.6L3 -8.8M9.8 36L12.3 36.5L14.9 36.5L16 38.8L16.5 41.3M40.2 1.7L42.7 0.8L45.1 0L47.5 -1L49.6 -2.5L50.9 -4.8L51.8 -7.2M-4.6 11.9L-2.5 10.4L-0 9.5L2.2 10.7L4.7 10.9L6.8 9.4L7.9 8.8M19.2 21.6L21.5 20.6L23.8 21.8L25.1 22.1M61.9 48.5L63.4 46.5L64.3 45.5M90.5 11.8L92.7 10.5L93.9 10M-9.1 32.2L-9.3 29.6L-7.2 28.1L-4.8 27.3M17.6 64.5L18.6 62.2L20.9 61.1L23.4 60.2L25.8 59.4L27.1 59.5M-8.3 59.4L-5.7 59.7L-4.6 60.4M28.1 5.3L30 4.1L32.3 2.8M103 48.1L104.5 46L105.8 43.7L106.9 41.4L108.2 39.1M96.4 73.1L98.7 72L100.2 69.9L100.8 68.7M6.7 46.1L7.8 46.8M10.2 -9L12 -7.2L14.2 -5.8L16.8 -5.8L19.2 -4.8" stroke="#cdc0dc" stroke-width="5.2"/>
<path d="M49.8 43L50.9 42.3L51.9 41.5M59.5 7.1L60.8 4.8L62.4 2.8M99 26.8L99.6 25.7M66 62.1L65.8 60.9L67 60.3M16.5 47.3L19.1 47.1L20 46.2M95.7 3.8h.01M78.5 48.7L79 47.5" stroke="#cdc0dc" stroke-width="3.5"/>
<g filter="url(#bl08)">
<path d="M-9.3 6.8L-8.6 4.4L-6.1 3.6L-3.6 3.1L-1.2 2.1L1.3 1.3M101 6.9L103 5.2L104.4 3L105.9 0.9L107.4 -1.2L108.5 -3.6M26.8 15.4L28.9 13.8L31.1 12.4L33.5 11.4L35.9 10.6L38.5 10.2L41 9.7M31.1 53.3L33.5 52.3L35.7 50.9L38 49.7L40.6 49.5L43 48.8L44.8 47M-2.3 34.3L-0.2 32.9L1.6 31L3.6 29.3L5.7 27.9L7.9 26.5L10.2 25.2L12.5 24.1M39.7 39.8L42.1 38.9L44.5 37.9L46.9 36.9L48.9 35.3L50.6 33.3L51.5 30.9M26.6 -3.1L29 -3.9L31.5 -4.8L33.9 -5.8L36 -7.3L38.3 -8.5M44.2 74.6L46.2 72.9L48.1 71.2L50.1 69.5L52.3 68.2L54.3 66.5L56.3 64.9L57.9 62.8L59.8 61M20.4 29.2L23 29.6L25.5 30.1L28.1 30.6L30.6 31.1L33.1 31.9L35.7 32.2M75.6 7.5L77.2 5.4L78.3 3.1L79.2 0.6L80.6 -1.5L82.3 -3.5L83.6 -5.7L84.5 -8.2M56.6 37.3L57.9 35.1L58.5 32.6L58.5 30L59.1 27.6L60.8 25.6L62.2 23.4L63.6 21.2L65.1 19.1L66 18.2M65.3 10.1L66.9 8.1L68.2 5.8L69.6 3.7L71.1 1.5L72.2 -0.8L73.3 -3.1L74.4 -5.4L75.3 -7.9L75.8 -9.1M83.9 73L86.3 71.8L88.5 70.5L90.4 68.8L92.4 67L94.3 65.3L95.7 63.1L97.2 61.1L99 59.1L100.6 57.1L102.2 55.1M77.7 39.9L78.8 37.5L79.9 35.2L81.4 33L83.1 31.1L84.5 28.9L86.7 27.6M10.1 15.9L12.2 14.4L14.6 13.4L17 12.4L19.3 11.3M36.4 24.3L38.7 25.5L41 26.7L43.5 26.7L45.9 25.8L48 24.3L49.5 22.1L51.1 20.1L53.1 18.4L54.9 16.5L56.9 14.9M96.5 45.1L97.5 42.7L98.5 40.3L99.7 38L101.1 35.8L102.9 33.9L104.2 31.6L105.3 29.3L106.4 27L107.8 24.7M-2.3 67.2L-0.1 65.9L2.3 64.9L4.7 64L7 62.6L9.2 61.2L11.2 59.6M81.5 66.1L83.3 64.3L84.9 62.3L86.4 60.2L87.6 57.9L89.2 55.8L90.5 53.6L92.3 51.8L93.6 51.5M-1.6 75.9L0.7 74.7L3.1 73.7L5.5 72.9L7.5 71.2L9.5 69.5L11.8 68.4M52.2 83L54.1 81.2L56.1 79.6L57.9 77.7L59.9 76L61.8 74.2M12 52.4L14.4 53.4L16.9 54.2L19.3 53.6L21.8 52.8L24 51.5L25.3 49.3L27.1 47.5M66.8 54.2L68.4 52.2L70 50.1L71.4 47.9L73.1 45.9M24.9 78.7L26.9 77.2L29.1 76L31.7 76L34.3 76.3L36.9 76.3L38.2 78.5M-6 44.6L-3.7 43.5L-1.2 42.7L1.1 41.5L3.2 39.9M79.9 83.3L82.5 82.9L84.1 80.9L86.2 79.6L88.7 78.7L90.9 77.4M66.3 68.9L68.8 68.3L70.8 66.5L72.4 64.5L73.8 62.4L75.6 60.5L77.5 58.7L79.5 57L81.1 54.9M43.7 63.2L45.6 61.4L47.9 60.3L49.5 58.2L51.4 56.6L53.5 55L55.6 53.5M-8.3 18.8L-5.7 19.1L-3.2 19.6L-0.6 19.7L2 19.8L4.6 20.3M48.1 9.4L49.5 7.6L51.4 5.9L53.3 4.1L55 2.1L56.6 0.1L58.2 -2L60 -3.8L61.7 -5.8L62.7 -8.2L63.6 -9.2M9.2 -0.4L11.6 0.6L14.1 1.3L16.6 1.9L19.2 2.1L21.8 2.5M84.8 49.1L86.5 47.2L88.1 45.2L88.7 42.7L89.3 40.2L90.1 37.7L91.3 35.4L92.7 33.2L94.1 31M92.9 24.2L94.1 22.2L96 20.5L98.1 19L100 17.2L102 15.5L103.9 13.7L105.9 12.1L108 10.6M33.5 43.4h.01M39.8 17.2L42.4 16.9L44.9 16.4M-8.1 52.5L-5.5 52L-3 51.4L-0.4 51.4L2 52.4L4.2 53.8L5 54.8M22.8 37.5L25.3 38.1L27.9 38.6L29.1 38M71.1 24.2L72.4 21.9L72.9 19.4L72.9 16.9L72.7 14.3L75.3 14.5L77.9 14.4L80.1 13.1L82.1 11.5M95.5 83L97.9 82.6L99.9 81L102.1 79.6L104.3 78.1L106.4 76.6L108.3 74.9L108.2 72.3L108.4 69.7L107.9 67.2L108.1 65.9M86.1 4.7L88 3.1L89.6 1.1L91 -1.1L92 -2M37 69.1L38.3 69L39.6 69M99.2 -2.2L99.9 -4.7L101.4 -6.8L102.7 -9.1M62.6 83.2L64.6 81.9L66.1 79.8L68.3 78.4L70.4 76.8L72.3 75.1L74.1 73.3L76.2 71.8M-8.6 -3L-6.3 -4.2L-3.9 -5.3L-1.6 -6.4L0.7 -7.6L3 -8.8M9.8 36L12.3 36.5L14.9 36.5L16 38.8L16.5 41.3M40.2 1.7L42.7 0.8L45.1 0L47.5 -1L49.6 -2.5L50.9 -4.8L51.8 -7.2M-4.6 11.9L-2.5 10.4L-0 9.5L2.2 10.7L4.7 10.9L6.8 9.4L7.9 8.8M19.2 21.6L21.5 20.6L23.8 21.8L25.1 22.1M61.9 48.5L63.4 46.5L64.3 45.5M90.5 11.8L92.7 10.5L93.9 10M-9.1 32.2L-9.3 29.6L-7.2 28.1L-4.8 27.3M17.6 64.5L18.6 62.2L20.9 61.1L23.4 60.2L25.8 59.4L27.1 59.5M-8.3 59.4L-5.7 59.7L-4.6 60.4M28.1 5.3L30 4.1L32.3 2.8M103 48.1L104.5 46L105.8 43.7L106.9 41.4L108.2 39.1M96.4 73.1L98.7 72L100.2 69.9L100.8 68.7M6.7 46.1L7.8 46.8M10.2 -9L12 -7.2L14.2 -5.8L16.8 -5.8L19.2 -4.8" stroke="#efeaf1" stroke-width="3.4" opacity="0.9"/>
<path d="M49.8 43L50.9 42.3L51.9 41.5M59.5 7.1L60.8 4.8L62.4 2.8M99 26.8L99.6 25.7M66 62.1L65.8 60.9L67 60.3M16.5 47.3L19.1 47.1L20 46.2M95.7 3.8h.01M78.5 48.7L79 47.5" stroke="#efeaf1" stroke-width="2.7" opacity="0.9"/>
<path d="M-9.3 6.8L-8.6 4.4L-6.1 3.6L-3.6 3.1L-1.2 2.1L1.3 1.3M101 6.9L103 5.2L104.4 3L105.9 0.9L107.4 -1.2L108.5 -3.6M26.8 15.4L28.9 13.8L31.1 12.4L33.5 11.4L35.9 10.6L38.5 10.2L41 9.7M31.1 53.3L33.5 52.3L35.7 50.9L38 49.7L40.6 49.5L43 48.8L44.8 47M-2.3 34.3L-0.2 32.9L1.6 31L3.6 29.3L5.7 27.9L7.9 26.5L10.2 25.2L12.5 24.1M39.7 39.8L42.1 38.9L44.5 37.9L46.9 36.9L48.9 35.3L50.6 33.3L51.5 30.9M26.6 -3.1L29 -3.9L31.5 -4.8L33.9 -5.8L36 -7.3L38.3 -8.5M44.2 74.6L46.2 72.9L48.1 71.2L50.1 69.5L52.3 68.2L54.3 66.5L56.3 64.9L57.9 62.8L59.8 61M20.4 29.2L23 29.6L25.5 30.1L28.1 30.6L30.6 31.1L33.1 31.9L35.7 32.2M75.6 7.5L77.2 5.4L78.3 3.1L79.2 0.6L80.6 -1.5L82.3 -3.5L83.6 -5.7L84.5 -8.2M56.6 37.3L57.9 35.1L58.5 32.6L58.5 30L59.1 27.6L60.8 25.6L62.2 23.4L63.6 21.2L65.1 19.1L66 18.2M65.3 10.1L66.9 8.1L68.2 5.8L69.6 3.7L71.1 1.5L72.2 -0.8L73.3 -3.1L74.4 -5.4L75.3 -7.9L75.8 -9.1M83.9 73L86.3 71.8L88.5 70.5L90.4 68.8L92.4 67L94.3 65.3L95.7 63.1L97.2 61.1L99 59.1L100.6 57.1L102.2 55.1M77.7 39.9L78.8 37.5L79.9 35.2L81.4 33L83.1 31.1L84.5 28.9L86.7 27.6M10.1 15.9L12.2 14.4L14.6 13.4L17 12.4L19.3 11.3M36.4 24.3L38.7 25.5L41 26.7L43.5 26.7L45.9 25.8L48 24.3L49.5 22.1L51.1 20.1L53.1 18.4L54.9 16.5L56.9 14.9M96.5 45.1L97.5 42.7L98.5 40.3L99.7 38L101.1 35.8L102.9 33.9L104.2 31.6L105.3 29.3L106.4 27L107.8 24.7M-2.3 67.2L-0.1 65.9L2.3 64.9L4.7 64L7 62.6L9.2 61.2L11.2 59.6M81.5 66.1L83.3 64.3L84.9 62.3L86.4 60.2L87.6 57.9L89.2 55.8L90.5 53.6L92.3 51.8L93.6 51.5M-1.6 75.9L0.7 74.7L3.1 73.7L5.5 72.9L7.5 71.2L9.5 69.5L11.8 68.4M52.2 83L54.1 81.2L56.1 79.6L57.9 77.7L59.9 76L61.8 74.2M12 52.4L14.4 53.4L16.9 54.2L19.3 53.6L21.8 52.8L24 51.5L25.3 49.3L27.1 47.5M66.8 54.2L68.4 52.2L70 50.1L71.4 47.9L73.1 45.9M24.9 78.7L26.9 77.2L29.1 76L31.7 76L34.3 76.3L36.9 76.3L38.2 78.5M-6 44.6L-3.7 43.5L-1.2 42.7L1.1 41.5L3.2 39.9M79.9 83.3L82.5 82.9L84.1 80.9L86.2 79.6L88.7 78.7L90.9 77.4M66.3 68.9L68.8 68.3L70.8 66.5L72.4 64.5L73.8 62.4L75.6 60.5L77.5 58.7L79.5 57L81.1 54.9M43.7 63.2L45.6 61.4L47.9 60.3L49.5 58.2L51.4 56.6L53.5 55L55.6 53.5M-8.3 18.8L-5.7 19.1L-3.2 19.6L-0.6 19.7L2 19.8L4.6 20.3M48.1 9.4L49.5 7.6L51.4 5.9L53.3 4.1L55 2.1L56.6 0.1L58.2 -2L60 -3.8L61.7 -5.8L62.7 -8.2L63.6 -9.2M9.2 -0.4L11.6 0.6L14.1 1.3L16.6 1.9L19.2 2.1L21.8 2.5M84.8 49.1L86.5 47.2L88.1 45.2L88.7 42.7L89.3 40.2L90.1 37.7L91.3 35.4L92.7 33.2L94.1 31M92.9 24.2L94.1 22.2L96 20.5L98.1 19L100 17.2L102 15.5L103.9 13.7L105.9 12.1L108 10.6M33.5 43.4h.01M39.8 17.2L42.4 16.9L44.9 16.4M-8.1 52.5L-5.5 52L-3 51.4L-0.4 51.4L2 52.4L4.2 53.8L5 54.8M22.8 37.5L25.3 38.1L27.9 38.6L29.1 38M71.1 24.2L72.4 21.9L72.9 19.4L72.9 16.9L72.7 14.3L75.3 14.5L77.9 14.4L80.1 13.1L82.1 11.5M95.5 83L97.9 82.6L99.9 81L102.1 79.6L104.3 78.1L106.4 76.6L108.3 74.9L108.2 72.3L108.4 69.7L107.9 67.2L108.1 65.9M86.1 4.7L88 3.1L89.6 1.1L91 -1.1L92 -2M37 69.1L38.3 69L39.6 69M99.2 -2.2L99.9 -4.7L101.4 -6.8L102.7 -9.1M62.6 83.2L64.6 81.9L66.1 79.8L68.3 78.4L70.4 76.8L72.3 75.1L74.1 73.3L76.2 71.8M-8.6 -3L-6.3 -4.2L-3.9 -5.3L-1.6 -6.4L0.7 -7.6L3 -8.8M9.8 36L12.3 36.5L14.9 36.5L16 38.8L16.5 41.3M40.2 1.7L42.7 0.8L45.1 0L47.5 -1L49.6 -2.5L50.9 -4.8L51.8 -7.2M-4.6 11.9L-2.5 10.4L-0 9.5L2.2 10.7L4.7 10.9L6.8 9.4L7.9 8.8M19.2 21.6L21.5 20.6L23.8 21.8L25.1 22.1M61.9 48.5L63.4 46.5L64.3 45.5M90.5 11.8L92.7 10.5L93.9 10M-9.1 32.2L-9.3 29.6L-7.2 28.1L-4.8 27.3M17.6 64.5L18.6 62.2L20.9 61.1L23.4 60.2L25.8 59.4L27.1 59.5M-8.3 59.4L-5.7 59.7L-4.6 60.4M28.1 5.3L30 4.1L32.3 2.8M103 48.1L104.5 46L105.8 43.7L106.9 41.4L108.2 39.1M96.4 73.1L98.7 72L100.2 69.9L100.8 68.7M6.7 46.1L7.8 46.8M10.2 -9L12 -7.2L14.2 -5.8L16.8 -5.8L19.2 -4.8" stroke="#f8f6f8" stroke-width="1.8"/>
<path d="M49.8 43L50.9 42.3L51.9 41.5M59.5 7.1L60.8 4.8L62.4 2.8M99 26.8L99.6 25.7M66 62.1L65.8 60.9L67 60.3M16.5 47.3L19.1 47.1L20 46.2M95.7 3.8h.01M78.5 48.7L79 47.5" stroke="#f8f6f8" stroke-width="1.1"/>
</g></g>
<ellipse cx="40.3" cy="18.6" rx="3.2" ry="2" fill="#e9a49b" transform="rotate(10 40.3 18.6)" />
<ellipse cx="60.7" cy="11.5" rx="2.1" ry="2.5" fill="#e9a49b" />
<ellipse cx="56" cy="16.5" rx="1.6" ry="1.2" fill="#e9a49b" />
<ellipse cx="66" cy="6.5" rx="1.5" ry="1" fill="#e9a49b" />
<ellipse cx="19" cy="68.5" rx="1.7" ry="0.9" fill="#e9a49b" />
<ellipse cx="33" cy="38" rx="1" ry="0.9" fill="#e9a49b" />
<ellipse cx="34" cy="62" rx="1.2" ry="0.8" fill="#e9a49b" />
<polygon points="0,0 29,0 26,2.8 21,5.2 13,5.5 7,7 3,9 0,11" fill="#e3e1df" />
<path d="M29 0.3L26 3 21 5.5 13 5.8 7 7.3 3 9.3 0 11.3" fill="none" stroke="#a692c2" stroke-width="0.9" stroke-linecap="round" stroke-linejoin="round" />
<polygon points="0,59 3,63 7,67 12,71 17,74.1 0,74.1" fill="#e3e1df" /></g><rect width="99.2" height="74.1" fill="url(#vR)"/></g>
<g transform="translate(481.4,524.9) scale(1.004,1)" clip-path="url(#tc)"><g filter="url(#bl05)"><rect width="99.2" height="74.1" fill="#e3e1df"/>
<path d="M-1 52l3 8 6 6 9 6 6 4" fill="none" stroke="#e3c3cf" stroke-width="2.5" stroke-linecap="round" stroke-linejoin="round" />
<path d="M-1 -1 L85 -1 91 4.8 97 12.6 101 20 101 75 29 75 17.5 67.3 6.5 59.5 1.5 51 6 46.5 10.4 41.5 5 37.5 -1 34Z" fill="#e0d1dd" stroke="#d9a9bd" stroke-width="1.5" stroke-linecap="round" stroke-linejoin="round" />
<path d="M-1 34.5l6 3.5 5 3.8-4.5 5-5 4.5" fill="none" stroke="#dfa6b6" stroke-width="2.4" stroke-linecap="round" stroke-linejoin="round" />
<g clip-path="url(#c12)">
<g filter="url(#bl3)"><ellipse cx="60" cy="30" rx="30" ry="12" fill="#b5a3c8" transform="rotate(40 60 30)" opacity="0.9"/><ellipse cx="50" cy="10" rx="26" ry="8" fill="#c9a5c0" transform="rotate(10 50 10)" opacity="0.9"/><ellipse cx="12" cy="14" rx="10" ry="12" fill="#c3b4d4" opacity="0.6"/><ellipse cx="88" cy="50" rx="9" ry="22" fill="#cfc3de" opacity="0.7"/></g>
<rect width="99.2" height="74.1" filter="url(#g12)"/>
</g>
<path d="M30 0.6 L48 0.8" fill="none" stroke="#e3a9a8" stroke-width="1.6" stroke-linecap="round" stroke-linejoin="round" />
<path d="M47 1.2 L60 2.8 72 5.4 84.5 9.8" fill="none" stroke="#e89e95" stroke-width="3.6" stroke-linecap="round" stroke-linejoin="round" />
<path d="M77 11.5l6.5 1.8" fill="none" stroke="#e99b90" stroke-width="2.0" stroke-linecap="round" stroke-linejoin="round" />
<ellipse cx="3.4" cy="7.9" rx="2.6" ry="1.8" fill="#e9a49b" />
<ellipse cx="36.2" cy="12.6" rx="3.6" ry="1.7" fill="#e9a49b" transform="rotate(-35 36.2 12.6)" />
<ellipse cx="48.7" cy="16.5" rx="4" ry="1.5" fill="#e9a49b" transform="rotate(10 48.7 16.5)" />
<ellipse cx="44" cy="28.3" rx="1.5" ry="2.8" fill="#e9a49b" transform="rotate(20 44 28.3)" />
<ellipse cx="73.7" cy="47" rx="2.3" ry="2.5" fill="#e9a49b" />
<ellipse cx="16.6" cy="48.6" rx="1.5" ry="1.1" fill="#e9a49b" />
<ellipse cx="34.6" cy="23.6" rx="1.3" ry="1.3" fill="#e9a49b" />
<ellipse cx="57.5" cy="20" rx="1.3" ry="1" fill="#e9a49b" />
<ellipse cx="52" cy="36.5" rx="1.2" ry="0.9" fill="#e9a49b" />
<ellipse cx="55.7" cy="28.3" rx="4.4" ry="4" fill="#c9b2cf" stroke="#9a82b4" stroke-width="1.7"/>
<ellipse cx="55.9" cy="28.5" rx="2.1" ry="1.9" fill="#e9a49b" />
<ellipse cx="78.4" cy="15.8" rx="4.3" ry="1.9" fill="#f3eff3" transform="rotate(-12 78.4 15.8)" />
<ellipse cx="65.9" cy="20.4" rx="1.6" ry="1.1" fill="#efe9ef" />
<ellipse cx="34.6" cy="48.6" rx="0.9" ry="1.3" fill="#f1ecf2" />
<ellipse cx="39.3" cy="59.5" rx="0.9" ry="1.3" fill="#f1ecf2" />
<ellipse cx="42.4" cy="68.9" rx="0.9" ry="1.3" fill="#f1ecf2" />
<ellipse cx="46" cy="44.5" rx="0.9" ry="1.3" fill="#f1ecf2" />
<ellipse cx="37" cy="54" rx="0.9" ry="1.3" fill="#f1ecf2" />
<ellipse cx="27.5" cy="63" rx="0.9" ry="1.3" fill="#f1ecf2" />
<ellipse cx="79" cy="62" rx="8.4" ry="3" fill="#4a2c65" transform="rotate(30 79 62)" />
<ellipse cx="76.6" cy="69.4" rx="4.6" ry="2.2" fill="#53346e" transform="rotate(12 76.6 69.4)" />
<ellipse cx="75.2" cy="51.9" rx="2" ry="1.2" fill="#5e3f79" />
<ellipse cx="89" cy="69" rx="5" ry="1.6" fill="#a793c0" transform="rotate(35 89 69)" opacity="0.7"/></g><rect width="99.2" height="74.1" fill="url(#vR)"/></g>
<g transform="translate(481.4,602.0) scale(1.004,1)" clip-path="url(#tc)"><g filter="url(#bl05)"><rect width="99.2" height="74.1" fill="#dccbdc"/>
<g filter="url(#bl3)"><ellipse cx="56" cy="35" rx="12" ry="12" fill="#a48fba" opacity="0.9"/><ellipse cx="88" cy="58" rx="15" ry="13" fill="#a895c4" opacity="0.95"/><ellipse cx="6" cy="30" rx="9" ry="28" fill="#c2b4d6" opacity="0.75"/><ellipse cx="66" cy="69" rx="26" ry="6" fill="#b09ec9" opacity="0.75"/><ellipse cx="30" cy="6" rx="26" ry="8" fill="#cbbddb" opacity="0.7"/><ellipse cx="44" cy="21" rx="5" ry="3.5" fill="#9c88b3" opacity="0.8"/></g>
<rect width="99.2" height="74.1" filter="url(#g22)"/>
<ellipse cx="57" cy="39.5" rx="5.8" ry="3.7" fill="#b9a5c9" transform="rotate(35 57 39.5)" stroke="#78639a" stroke-width="1.9"/>
<ellipse cx="57.5" cy="40" rx="2.9" ry="1.1" fill="#ebe3ee" transform="rotate(35 57.5 40)" />
<ellipse cx="36.5" cy="41" rx="2.9" ry="1.8" fill="#5b3d78" transform="rotate(-35 36.5 41)" />
<ellipse cx="37.5" cy="40.2" rx="1.1" ry="0.6" fill="#e6dde9" transform="rotate(-35 37.5 40.2)" />
<ellipse cx="67" cy="8" rx="2.7" ry="1" fill="#e9a49b" transform="rotate(-50 67 8)" />
<ellipse cx="70.5" cy="16.5" rx="3.7" ry="1" fill="#e9a49b" transform="rotate(-25 70.5 16.5)" />
<ellipse cx="80.5" cy="30.5" rx="2.7" ry="1" fill="#e9a49b" transform="rotate(-50 80.5 30.5)" />
<ellipse cx="47" cy="43.5" rx="2.3" ry="1.3" fill="#e9a49b" transform="rotate(-50 47 43.5)" />
<ellipse cx="75.5" cy="46.5" rx="3.5" ry="1.1" fill="#e9a49b" transform="rotate(-60 75.5 46.5)" />
<ellipse cx="66.5" cy="56.5" rx="8.8" ry="1.9" fill="#e9a49b" transform="rotate(-22 66.5 56.5)" />
<ellipse cx="13" cy="64.8" rx="6" ry="1.6" fill="#e9a49b" transform="rotate(30 13 64.8)" />
<ellipse cx="9" cy="28.5" rx="2.5" ry="1.3" fill="#e9a49b" transform="rotate(20 9 28.5)" />
<ellipse cx="68" cy="35.5" rx="2.3" ry="1.2" fill="#e9a49b" />
<ellipse cx="26" cy="46.5" rx="1.6" ry="1" fill="#e9a49b" />
<ellipse cx="58" cy="49" rx="1.5" ry="1.6" fill="#e9a49b" />
<ellipse cx="14.5" cy="30.5" rx="1.4" ry="1" fill="#e9a49b" />
<ellipse cx="43" cy="66.5" rx="3" ry="1.3" fill="#e9a49b" />
<ellipse cx="83" cy="71.2" rx="3" ry="1.2" fill="#e9a49b" />
<ellipse cx="36" cy="52.5" rx="1.1" ry="1.3" fill="#e9a49b" />
<ellipse cx="62" cy="46" rx="1.2" ry="1.5" fill="#e9a49b" />
<ellipse cx="14" cy="21" rx="1.2" ry="0.7" fill="#e9a49b" transform="rotate(40 14 21)" />
<path d="M-1 65.5 L3 63.5 7 67.5 13 69.8 22 70.4 33 70 40 71.2 38 75 -1 75Z" fill="#e3e1df" />
<path d="M-1 65.5 L3 63.5 7 67.5 13 69.8 22 70.4 33 70 40 71.2" fill="none" stroke="#d9b5c6" stroke-width="0.9" stroke-linecap="round" stroke-linejoin="round" />
<path d="M89 51l6.5 5.5M83.5 55.5l8.5 7M80 61.5l6 5" fill="none" stroke="#dcd2e8" stroke-width="1.3" stroke-linecap="round" stroke-linejoin="round" /></g><rect width="99.2" height="74.1" fill="url(#vR)"/></g>
<g transform="translate(583.6,524.9) scale(1.004,1)" clip-path="url(#tc)"><g filter="url(#bl05)"><rect width="99.2" height="74.1" fill="#e3e1df"/>
<path d="M80 68c6 -5 14 -5 20 -3M88 72l13 -1" fill="none" stroke="#d5cbd6" stroke-width="0.8" stroke-linecap="round" stroke-linejoin="round" />
<path d="M19.2 -1 L101 -1 101 56 94 60 82 63 68 66.5 58 70.5 50 75 -1 75 -1 22.3 2.3 20 5.5 14 10 9.3 14 4.5Z" fill="#dacddf" stroke="#d9a9c1" stroke-width="1.6" stroke-linecap="round" stroke-linejoin="round" />
<g clip-path="url(#c13)">
<g filter="url(#bl3)"><ellipse cx="18" cy="38" rx="17" ry="22" fill="#c8badb" opacity="0.85"/><ellipse cx="42" cy="30" rx="14" ry="14" fill="#d2c3dc" opacity="0.5"/><ellipse cx="86" cy="14" rx="14" ry="8" fill="#d0c1dc" transform="rotate(25 86 14)" opacity="0.6"/><ellipse cx="14" cy="68" rx="18" ry="6" fill="#bfafd2" opacity="0.8"/></g>
<rect width="99.2" height="74.1" filter="url(#g13)"/>
</g>
<path d="M40 6l8 -2 8 3 6 6 5 8 8 6 6 9" fill="none" stroke="#f5f2f5" stroke-width="1.1" stroke-linecap="round" stroke-linejoin="round" />
<path d="M66 3l9 3 10 1 8 3" fill="none" stroke="#f5f2f5" stroke-width="1.3" stroke-linecap="round" stroke-linejoin="round" />
<path d="M82 24l7 6 9 2" fill="none" stroke="#f5f2f5" stroke-width="1.5" stroke-linecap="round" stroke-linejoin="round" />
<path d="M72 28l4 8 7 7 4 6" fill="none" stroke="#f5f2f5" stroke-width="1.2" stroke-linecap="round" stroke-linejoin="round" />
<path d="M22 9l8 -3.5 9 0.5" fill="none" stroke="#f5f2f5" stroke-width="1.0" stroke-linecap="round" stroke-linejoin="round" />
<path d="M60 26l-4 6" fill="none" stroke="#f5f2f5" stroke-width="0.9" stroke-linecap="round" stroke-linejoin="round" />
<path d="M86 14l6 5 8 0" fill="none" stroke="#f5f2f5" stroke-width="1.2" stroke-linecap="round" stroke-linejoin="round" />
<path d="M50 12l6 7" fill="none" stroke="#f5f2f5" stroke-width="0.9" stroke-linecap="round" stroke-linejoin="round" />
<path d="M93 36l6 3" fill="none" stroke="#f5f2f5" stroke-width="1.4" stroke-linecap="round" stroke-linejoin="round" />
<path d="M0 57 C6 62 16 64.5 28 64 C40 63.5 52 60.5 64 57 S88 50 101 44" fill="none" stroke="#e5bccb" stroke-width="3.6" stroke-linecap="round" stroke-linejoin="round" />
<path d="M3 24 C1 34 1 46 3 56" fill="none" stroke="#dfb0c6" stroke-width="2.4" stroke-linecap="round" stroke-linejoin="round" />
<ellipse cx="17.7" cy="28.4" rx="3.4" ry="2.4" fill="#e9a49b" transform="rotate(-20 17.7 28.4)" />
<ellipse cx="6.9" cy="44.5" rx="1.5" ry="5.2" fill="#e9a49b" transform="rotate(-22 6.9 44.5)" />
<ellipse cx="37.6" cy="20" rx="1.6" ry="1.4" fill="#e9a49b" />
<ellipse cx="49.9" cy="25.4" rx="1.6" ry="1.6" fill="#e9a49b" />
<ellipse cx="54.5" cy="30" rx="1.5" ry="1.3" fill="#e9a49b" />
<ellipse cx="62.2" cy="33" rx="1.7" ry="1.5" fill="#e9a49b" />
<ellipse cx="32.2" cy="39.9" rx="1.5" ry="1.9" fill="#e9a49b" />
<ellipse cx="30.7" cy="15.4" rx="2.4" ry="1.3" fill="#e9a49b" transform="rotate(-20 30.7 15.4)" />
<ellipse cx="68.3" cy="61.4" rx="7.2" ry="2.9" fill="#e9a49b" transform="rotate(-14 68.3 61.4)" />
<ellipse cx="86.7" cy="56" rx="4.2" ry="2.1" fill="#e9a49b" transform="rotate(-15 86.7 56)" />
<ellipse cx="45" cy="16.5" rx="1.3" ry="1" fill="#e9a49b" />
<path d="M10.4 55.6 C9.8 49.5 13 46.6 19 46 L25.4 48.8 25 51.8 C19.5 50.4 14.5 51.5 13 55.6Z" fill="#ea9f96" />
<path d="M53 49.6 C52.3 43.5 56 39.4 60.5 39.6 S65.5 43.8 69.6 42.2" fill="none" stroke="#ea9f96" stroke-width="3.6" stroke-linecap="round" stroke-linejoin="round" />
<path d="M23 75 C30 69 38 66 46 63.2 L57 60.5 55 64.5 48 69 42 75Z" fill="#eaa198" />
<path d="M28 70l8 -2 6 2.5" fill="none" stroke="#d9bfd6" stroke-width="1.0" stroke-linecap="round" stroke-linejoin="round" />
<ellipse cx="76.7" cy="11.8" rx="2.7" ry="2" fill="#66467f" transform="rotate(20 76.7 11.8)" />
<ellipse cx="80.5" cy="14.5" rx="1.4" ry="1" fill="#7a5c95" />
<ellipse cx="92.1" cy="22.3" rx="2.3" ry="1.6" fill="#6a4a86" transform="rotate(15 92.1 22.3)" />
<path d="M4 70l6 -4 8 -1M12 73l8 -4" fill="none" stroke="#9d8abb" stroke-width="1.2" stroke-linecap="round" stroke-linejoin="round" opacity="0.8"/></g><rect width="99.2" height="74.1" fill="url(#vR)"/></g>
<g transform="translate(583.6,602.0) scale(1.004,1)" clip-path="url(#tc)"><g filter="url(#bl05)"><rect width="99.2" height="74.1" fill="#e0cbdc"/>
<g filter="url(#bl3)"><ellipse cx="20" cy="40" rx="30" ry="44" fill="#beb1d6" opacity="0.9"/><ellipse cx="80" cy="66" rx="24" ry="10" fill="#a592c1" opacity="0.95"/><ellipse cx="46" cy="66" rx="14" ry="9" fill="#b2a1cb" opacity="0.85"/><ellipse cx="60" cy="6" rx="18" ry="7" fill="#c4b4d6" opacity="0.7"/></g>
<rect width="99.2" height="74.1" filter="url(#g23)"/>
<g fill="none" stroke-linecap="round" stroke-linejoin="round">
<path d="M40.3 44.3L42.8 44L45.4 44.3L47.9 45.1L50.3 46.1L52.6 47.2L55.1 48L57.6 48.8L58.9 49M-10.8 5.7L-8.9 4L-6.9 2.3L-4.7 0.8L-2.6 -0.6L-0.3 -1.8L2.3 -2.4L4.9 -2.5L7.4 -2.3L10 -1.8L12.5 -1.5L15.1 -1.4L17.7 -1.4L20.3 -1.2L22.9 -1.4L25.5 -1.8M31.9 35.3L33.9 33.7L35.8 31.9L38.1 30.6L40.3 29.3L42.8 28.7L45.1 27.5L47.5 26.4L49.7 25L51.9 23.6L54 22.2L56.2 20.8L58.2 19.1L59.5 16.9L60.9 14.7M20 63.8L21.6 61.7L22.5 59.3L23 56.7L23.5 54.2L23.8 51.6L24.8 49.2L26 46.9L27.2 44.6L29.5 43.5L32.1 43.4M62.1 6.7L63.7 4.6L65.1 2.4L66.5 0.3L67.6 -2.1L68.5 -4.5L70 -6.6L71.7 -8.6L73.3 -10.6M0.8 33.3L2 30.9L2.9 28.5L4.1 26.2L5.4 24L7.4 22.2L9.2 20.4L10.8 18.4L12.5 16.3L14.4 14.6L16.8 13.6M-2 79.9L0.6 79.5L3.2 79.4L5.7 79.2L8.3 79.1L10.9 79.4L13.5 79.8L16 80.5L18.5 81L21.1 81.2L23.7 81.6M-3.6 67.6L-1.2 66.5L0.6 64.7L2.6 63L4 60.8L4.8 58.3L5.6 55.9L6.1 53.3L6.7 50.8M15.7 50.7L15.4 48.1L15.2 45.5L14.7 43L14.4 40.4L14.6 37.8L14.6 35.2L14.9 32.7L15.5 30.1L16.5 27.8L17.2 25.2L18 22.8L20 21.1L22.2 19.8L24.5 18.6M68.6 17L69.6 14.6L70.7 12.3L72.4 10.3L73.8 8.1L75.5 6.1L75.6 3.6L75.2 2.4M10.9 70.9L13.5 71.1L15.9 72.1L18.4 72.7L21 73L23.5 72.8L25.8 71.6L28 70.3L30.2 68.9L32.2 67.2L34.1 65.4L35.8 63.5L37.8 61.8L37.9 59.2L37.9 56.6L37.6 54M30.1 12.6L32.6 12.3L34.6 10.7L36.3 8.7L38.1 6.8L39.8 4.9L40.9 2.5L42 0.2L43.1 -2.2M52.5 8.9L53.5 6.5L54.3 4L55.2 1.6L55.5 -1L55.3 -3.6L54.8 -6.1L55 -8.7L56.2 -10.8M-10.6 56L-10.4 53.4L-10.7 50.8L-9.2 49L-7 47.5L-4.7 46.3L-2.3 45.2L-0.6 43.3L1.2 41.5M31.4 84.7L32.1 82.2L33.6 80.1L35 77.9L36.8 76.1L37.6 73.9M-10.6 33.7L-10.6 31.1L-10.5 28.5L-10.4 25.9L-10.2 23.4L-8.3 21.6L-6.6 19.7L-4.5 18.1L-2.4 16.6L-0.1 15.4L2.1 14L4.3 12.7L6.2 10.9M46.6 36L49 35L51.1 33.5L53.5 32.6L56 32.1L57.2 32.6M24.3 31.9L25.7 29.7L27.7 28L29.3 26L31.1 24.2L33 22.3L34.8 20.5L37 19.3L39.5 18.4L41.8 17.1M22 7.3L23 8.1L24 7.3M33.8 -1.7L33.7 -4.2L35.6 -5.9L37.3 -7.8L39.2 -9.7L39.9 -10.7" stroke="#a08dbf" stroke-width="7.7"/>
<path d="M12.1 62.6L12.3 61.3L12.7 60.1" stroke="#a08dbf" stroke-width="7.7"/>
<path d="M30 58.8L30.3 56.3L30.6 55M56.8 40.5L58.1 40.8L59.4 40.9M-3.5 56.6L-2.3 56L-1.8 54.8M21.4 40.2L21.9 38.9M1.4 5.4L2.6 4.9M11.5 6L12.7 6.3L14 6.2M49.2 16.2L50.5 15.9M7 37h.01" stroke="#a08dbf" stroke-width="5.7"/>
<path d="M40.3 44.3L42.8 44L45.4 44.3L47.9 45.1L50.3 46.1L52.6 47.2L55.1 48L57.6 48.8L58.9 49M-10.8 5.7L-8.9 4L-6.9 2.3L-4.7 0.8L-2.6 -0.6L-0.3 -1.8L2.3 -2.4L4.9 -2.5L7.4 -2.3L10 -1.8L12.5 -1.5L15.1 -1.4L17.7 -1.4L20.3 -1.2L22.9 -1.4L25.5 -1.8M31.9 35.3L33.9 33.7L35.8 31.9L38.1 30.6L40.3 29.3L42.8 28.7L45.1 27.5L47.5 26.4L49.7 25L51.9 23.6L54 22.2L56.2 20.8L58.2 19.1L59.5 16.9L60.9 14.7M20 63.8L21.6 61.7L22.5 59.3L23 56.7L23.5 54.2L23.8 51.6L24.8 49.2L26 46.9L27.2 44.6L29.5 43.5L32.1 43.4M62.1 6.7L63.7 4.6L65.1 2.4L66.5 0.3L67.6 -2.1L68.5 -4.5L70 -6.6L71.7 -8.6L73.3 -10.6M0.8 33.3L2 30.9L2.9 28.5L4.1 26.2L5.4 24L7.4 22.2L9.2 20.4L10.8 18.4L12.5 16.3L14.4 14.6L16.8 13.6M-2 79.9L0.6 79.5L3.2 79.4L5.7 79.2L8.3 79.1L10.9 79.4L13.5 79.8L16 80.5L18.5 81L21.1 81.2L23.7 81.6M-3.6 67.6L-1.2 66.5L0.6 64.7L2.6 63L4 60.8L4.8 58.3L5.6 55.9L6.1 53.3L6.7 50.8M15.7 50.7L15.4 48.1L15.2 45.5L14.7 43L14.4 40.4L14.6 37.8L14.6 35.2L14.9 32.7L15.5 30.1L16.5 27.8L17.2 25.2L18 22.8L20 21.1L22.2 19.8L24.5 18.6M68.6 17L69.6 14.6L70.7 12.3L72.4 10.3L73.8 8.1L75.5 6.1L75.6 3.6L75.2 2.4M10.9 70.9L13.5 71.1L15.9 72.1L18.4 72.7L21 73L23.5 72.8L25.8 71.6L28 70.3L30.2 68.9L32.2 67.2L34.1 65.4L35.8 63.5L37.8 61.8L37.9 59.2L37.9 56.6L37.6 54M30.1 12.6L32.6 12.3L34.6 10.7L36.3 8.7L38.1 6.8L39.8 4.9L40.9 2.5L42 0.2L43.1 -2.2M52.5 8.9L53.5 6.5L54.3 4L55.2 1.6L55.5 -1L55.3 -3.6L54.8 -6.1L55 -8.7L56.2 -10.8M-10.6 56L-10.4 53.4L-10.7 50.8L-9.2 49L-7 47.5L-4.7 46.3L-2.3 45.2L-0.6 43.3L1.2 41.5M31.4 84.7L32.1 82.2L33.6 80.1L35 77.9L36.8 76.1L37.6 73.9M-10.6 33.7L-10.6 31.1L-10.5 28.5L-10.4 25.9L-10.2 23.4L-8.3 21.6L-6.6 19.7L-4.5 18.1L-2.4 16.6L-0.1 15.4L2.1 14L4.3 12.7L6.2 10.9M46.6 36L49 35L51.1 33.5L53.5 32.6L56 32.1L57.2 32.6M24.3 31.9L25.7 29.7L27.7 28L29.3 26L31.1 24.2L33 22.3L34.8 20.5L37 19.3L39.5 18.4L41.8 17.1M22 7.3L23 8.1L24 7.3M33.8 -1.7L33.7 -4.2L35.6 -5.9L37.3 -7.8L39.2 -9.7L39.9 -10.7" stroke="#cbbddb" stroke-width="6.2"/>
<path d="M12.1 62.6L12.3 61.3L12.7 60.1" stroke="#cbbddb" stroke-width="6.2"/>
<path d="M30 58.8L30.3 56.3L30.6 55M56.8 40.5L58.1 40.8L59.4 40.9M-3.5 56.6L-2.3 56L-1.8 54.8M21.4 40.2L21.9 38.9M1.4 5.4L2.6 4.9M11.5 6L12.7 6.3L14 6.2M49.2 16.2L50.5 15.9M7 37h.01" stroke="#cbbddb" stroke-width="4.2"/>
<g filter="url(#bl08)">
<path d="M40.3 44.3L42.8 44L45.4 44.3L47.9 45.1L50.3 46.1L52.6 47.2L55.1 48L57.6 48.8L58.9 49M-10.8 5.7L-8.9 4L-6.9 2.3L-4.7 0.8L-2.6 -0.6L-0.3 -1.8L2.3 -2.4L4.9 -2.5L7.4 -2.3L10 -1.8L12.5 -1.5L15.1 -1.4L17.7 -1.4L20.3 -1.2L22.9 -1.4L25.5 -1.8M31.9 35.3L33.9 33.7L35.8 31.9L38.1 30.6L40.3 29.3L42.8 28.7L45.1 27.5L47.5 26.4L49.7 25L51.9 23.6L54 22.2L56.2 20.8L58.2 19.1L59.5 16.9L60.9 14.7M20 63.8L21.6 61.7L22.5 59.3L23 56.7L23.5 54.2L23.8 51.6L24.8 49.2L26 46.9L27.2 44.6L29.5 43.5L32.1 43.4M62.1 6.7L63.7 4.6L65.1 2.4L66.5 0.3L67.6 -2.1L68.5 -4.5L70 -6.6L71.7 -8.6L73.3 -10.6M0.8 33.3L2 30.9L2.9 28.5L4.1 26.2L5.4 24L7.4 22.2L9.2 20.4L10.8 18.4L12.5 16.3L14.4 14.6L16.8 13.6M-2 79.9L0.6 79.5L3.2 79.4L5.7 79.2L8.3 79.1L10.9 79.4L13.5 79.8L16 80.5L18.5 81L21.1 81.2L23.7 81.6M-3.6 67.6L-1.2 66.5L0.6 64.7L2.6 63L4 60.8L4.8 58.3L5.6 55.9L6.1 53.3L6.7 50.8M15.7 50.7L15.4 48.1L15.2 45.5L14.7 43L14.4 40.4L14.6 37.8L14.6 35.2L14.9 32.7L15.5 30.1L16.5 27.8L17.2 25.2L18 22.8L20 21.1L22.2 19.8L24.5 18.6M68.6 17L69.6 14.6L70.7 12.3L72.4 10.3L73.8 8.1L75.5 6.1L75.6 3.6L75.2 2.4M10.9 70.9L13.5 71.1L15.9 72.1L18.4 72.7L21 73L23.5 72.8L25.8 71.6L28 70.3L30.2 68.9L32.2 67.2L34.1 65.4L35.8 63.5L37.8 61.8L37.9 59.2L37.9 56.6L37.6 54M30.1 12.6L32.6 12.3L34.6 10.7L36.3 8.7L38.1 6.8L39.8 4.9L40.9 2.5L42 0.2L43.1 -2.2M52.5 8.9L53.5 6.5L54.3 4L55.2 1.6L55.5 -1L55.3 -3.6L54.8 -6.1L55 -8.7L56.2 -10.8M-10.6 56L-10.4 53.4L-10.7 50.8L-9.2 49L-7 47.5L-4.7 46.3L-2.3 45.2L-0.6 43.3L1.2 41.5M31.4 84.7L32.1 82.2L33.6 80.1L35 77.9L36.8 76.1L37.6 73.9M-10.6 33.7L-10.6 31.1L-10.5 28.5L-10.4 25.9L-10.2 23.4L-8.3 21.6L-6.6 19.7L-4.5 18.1L-2.4 16.6L-0.1 15.4L2.1 14L4.3 12.7L6.2 10.9M46.6 36L49 35L51.1 33.5L53.5 32.6L56 32.1L57.2 32.6M24.3 31.9L25.7 29.7L27.7 28L29.3 26L31.1 24.2L33 22.3L34.8 20.5L37 19.3L39.5 18.4L41.8 17.1M22 7.3L23 8.1L24 7.3M33.8 -1.7L33.7 -4.2L35.6 -5.9L37.3 -7.8L39.2 -9.7L39.9 -10.7" stroke="#efeaf1" stroke-width="3.9" opacity="0.9"/>
<path d="M12.1 62.6L12.3 61.3L12.7 60.1" stroke="#efeaf1" stroke-width="3.9" opacity="0.9"/>
<path d="M30 58.8L30.3 56.3L30.6 55M56.8 40.5L58.1 40.8L59.4 40.9M-3.5 56.6L-2.3 56L-1.8 54.8M21.4 40.2L21.9 38.9M1.4 5.4L2.6 4.9M11.5 6L12.7 6.3L14 6.2M49.2 16.2L50.5 15.9M7 37h.01" stroke="#efeaf1" stroke-width="3" opacity="0.9"/>
<path d="M40.3 44.3L42.8 44L45.4 44.3L47.9 45.1L50.3 46.1L52.6 47.2L55.1 48L57.6 48.8L58.9 49M-10.8 5.7L-8.9 4L-6.9 2.3L-4.7 0.8L-2.6 -0.6L-0.3 -1.8L2.3 -2.4L4.9 -2.5L7.4 -2.3L10 -1.8L12.5 -1.5L15.1 -1.4L17.7 -1.4L20.3 -1.2L22.9 -1.4L25.5 -1.8M31.9 35.3L33.9 33.7L35.8 31.9L38.1 30.6L40.3 29.3L42.8 28.7L45.1 27.5L47.5 26.4L49.7 25L51.9 23.6L54 22.2L56.2 20.8L58.2 19.1L59.5 16.9L60.9 14.7M20 63.8L21.6 61.7L22.5 59.3L23 56.7L23.5 54.2L23.8 51.6L24.8 49.2L26 46.9L27.2 44.6L29.5 43.5L32.1 43.4M62.1 6.7L63.7 4.6L65.1 2.4L66.5 0.3L67.6 -2.1L68.5 -4.5L70 -6.6L71.7 -8.6L73.3 -10.6M0.8 33.3L2 30.9L2.9 28.5L4.1 26.2L5.4 24L7.4 22.2L9.2 20.4L10.8 18.4L12.5 16.3L14.4 14.6L16.8 13.6M-2 79.9L0.6 79.5L3.2 79.4L5.7 79.2L8.3 79.1L10.9 79.4L13.5 79.8L16 80.5L18.5 81L21.1 81.2L23.7 81.6M-3.6 67.6L-1.2 66.5L0.6 64.7L2.6 63L4 60.8L4.8 58.3L5.6 55.9L6.1 53.3L6.7 50.8M15.7 50.7L15.4 48.1L15.2 45.5L14.7 43L14.4 40.4L14.6 37.8L14.6 35.2L14.9 32.7L15.5 30.1L16.5 27.8L17.2 25.2L18 22.8L20 21.1L22.2 19.8L24.5 18.6M68.6 17L69.6 14.6L70.7 12.3L72.4 10.3L73.8 8.1L75.5 6.1L75.6 3.6L75.2 2.4M10.9 70.9L13.5 71.1L15.9 72.1L18.4 72.7L21 73L23.5 72.8L25.8 71.6L28 70.3L30.2 68.9L32.2 67.2L34.1 65.4L35.8 63.5L37.8 61.8L37.9 59.2L37.9 56.6L37.6 54M30.1 12.6L32.6 12.3L34.6 10.7L36.3 8.7L38.1 6.8L39.8 4.9L40.9 2.5L42 0.2L43.1 -2.2M52.5 8.9L53.5 6.5L54.3 4L55.2 1.6L55.5 -1L55.3 -3.6L54.8 -6.1L55 -8.7L56.2 -10.8M-10.6 56L-10.4 53.4L-10.7 50.8L-9.2 49L-7 47.5L-4.7 46.3L-2.3 45.2L-0.6 43.3L1.2 41.5M31.4 84.7L32.1 82.2L33.6 80.1L35 77.9L36.8 76.1L37.6 73.9M-10.6 33.7L-10.6 31.1L-10.5 28.5L-10.4 25.9L-10.2 23.4L-8.3 21.6L-6.6 19.7L-4.5 18.1L-2.4 16.6L-0.1 15.4L2.1 14L4.3 12.7L6.2 10.9M46.6 36L49 35L51.1 33.5L53.5 32.6L56 32.1L57.2 32.6M24.3 31.9L25.7 29.7L27.7 28L29.3 26L31.1 24.2L33 22.3L34.8 20.5L37 19.3L39.5 18.4L41.8 17.1M22 7.3L23 8.1L24 7.3M33.8 -1.7L33.7 -4.2L35.6 -5.9L37.3 -7.8L39.2 -9.7L39.9 -10.7" stroke="#f9f7f9" stroke-width="2.3"/>
<path d="M12.1 62.6L12.3 61.3L12.7 60.1" stroke="#f9f7f9" stroke-width="2.3"/>
<path d="M30 58.8L30.3 56.3L30.6 55M56.8 40.5L58.1 40.8L59.4 40.9M-3.5 56.6L-2.3 56L-1.8 54.8M21.4 40.2L21.9 38.9M1.4 5.4L2.6 4.9M11.5 6L12.7 6.3L14 6.2M49.2 16.2L50.5 15.9M7 37h.01" stroke="#f9f7f9" stroke-width="1.4"/>
</g></g>
<ellipse cx="61" cy="55" rx="1.8" ry="1.6" fill="#e9a49b" />
<ellipse cx="71" cy="54" rx="1.5" ry="1.5" fill="#e9a49b" />
<ellipse cx="68" cy="46.5" rx="1.6" ry="1.2" fill="#e9a49b" />
<ellipse cx="73" cy="37.5" rx="1.6" ry="1" fill="#e9a49b" />
<ellipse cx="88" cy="28.5" rx="1.4" ry="1.4" fill="#e9a49b" />
<ellipse cx="90" cy="52" rx="1.6" ry="2.6" fill="#e9a49b" transform="rotate(-30 90 52)" />
<ellipse cx="93" cy="26" rx="1.2" ry="1" fill="#e9a49b" />
<ellipse cx="84" cy="20" rx="1.1" ry="1.1" fill="#e9a49b" />
<path d="M44 73.3 L58 72.7 70 73.5" fill="none" stroke="#e79a92" stroke-width="2.0" stroke-linecap="round" stroke-linejoin="round" />
<path d="M80 73.6l8 -0.4 8 0.6" fill="none" stroke="#e79a92" stroke-width="1.4" stroke-linecap="round" stroke-linejoin="round" />
<ellipse cx="89" cy="67" rx="4" ry="1.9" fill="#f3eff4" transform="rotate(10 89 67)" />
<ellipse cx="83.5" cy="62.5" rx="2.6" ry="1.4" fill="#f3eff4" transform="rotate(20 83.5 62.5)" />
<ellipse cx="96" cy="69" rx="1.6" ry="1.8" fill="#f3eff4" />
<ellipse cx="81" cy="70.5" rx="2" ry="1" fill="#f3eff4" />
<polygon points="0,0 6,0 3,2.5 0,6" fill="#e4e4ea" /></g><rect width="99.2" height="74.1" fill="url(#vR)"/></g>
<g opacity="0.999">
<text x="5.00" y="19.00" font-size="25.0" font-weight="bold" text-anchor="start"  stroke="#000" stroke-width="0.32" stroke-linejoin="round">A</text>
<text x="325.80" y="19.00" font-size="25.0" font-weight="bold" text-anchor="start"  stroke="#000" stroke-width="0.32" stroke-linejoin="round">B</text>
<text x="5.00" y="285.10" font-size="25.0" font-weight="bold" text-anchor="start"  stroke="#000" stroke-width="0.32" stroke-linejoin="round">C</text>
<text x="325.80" y="285.00" font-size="25.0" font-weight="bold" text-anchor="start"  stroke="#000" stroke-width="0.32" stroke-linejoin="round">D</text>
<text x="8.50" y="517.80" font-size="25.0" font-weight="bold" text-anchor="start"  stroke="#000" stroke-width="0.32" stroke-linejoin="round">E</text>
<line x1="52.90" y1="23.10" x2="52.90" y2="193.95" stroke="#000" stroke-width="1.7" />
<line x1="52.05" y1="193.10" x2="307.90" y2="193.10" stroke="#000" stroke-width="1.7" />
<line x1="45.90" y1="193.10" x2="52.90" y2="193.10" stroke="#000" stroke-width="1.7" />
<text x="43.40" y="197.60" font-size="13.1" font-weight="bold" text-anchor="end"  stroke="#000" stroke-width="0.32" stroke-linejoin="round">0</text>
<line x1="45.90" y1="150.80" x2="52.90" y2="150.80" stroke="#000" stroke-width="1.7" />
<text x="43.40" y="155.30" font-size="13.1" font-weight="bold" text-anchor="end"  stroke="#000" stroke-width="0.32" stroke-linejoin="round">2</text>
<line x1="45.90" y1="108.50" x2="52.90" y2="108.50" stroke="#000" stroke-width="1.7" />
<text x="43.40" y="113.00" font-size="13.1" font-weight="bold" text-anchor="end"  stroke="#000" stroke-width="0.32" stroke-linejoin="round">4</text>
<line x1="45.90" y1="66.20" x2="52.90" y2="66.20" stroke="#000" stroke-width="1.7" />
<text x="43.40" y="70.70" font-size="13.1" font-weight="bold" text-anchor="end"  stroke="#000" stroke-width="0.32" stroke-linejoin="round">6</text>
<line x1="45.90" y1="23.90" x2="52.90" y2="23.90" stroke="#000" stroke-width="1.7" />
<text x="43.40" y="28.40" font-size="13.1" font-weight="bold" text-anchor="end"  stroke="#000" stroke-width="0.32" stroke-linejoin="round">8</text>
<line x1="52.90" y1="193.10" x2="52.90" y2="200.10" stroke="#000" stroke-width="1.7" />
<text x="52.90" y="215.40" font-size="13.1" font-weight="bold" text-anchor="middle"  stroke="#000" stroke-width="0.32" stroke-linejoin="round">0</text>
<line x1="158.90" y1="193.10" x2="158.90" y2="200.10" stroke="#000" stroke-width="1.7" />
<text x="158.90" y="215.40" font-size="13.1" font-weight="bold" text-anchor="middle"  stroke="#000" stroke-width="0.32" stroke-linejoin="round">50</text>
<line x1="264.90" y1="193.10" x2="264.90" y2="200.10" stroke="#000" stroke-width="1.7" />
<text x="264.90" y="215.40" font-size="13.1" font-weight="bold" text-anchor="middle"  stroke="#000" stroke-width="0.32" stroke-linejoin="round">100</text>
<text x="180.00" y="235.80" font-size="14.1" font-weight="bold" text-anchor="middle"  stroke="#000" stroke-width="0.32" stroke-linejoin="round">Hours post infection</text>
<text transform="translate(25.30,108.50) rotate(-90)" font-size="14.1" font-weight="bold" text-anchor="middle"  stroke="#000" stroke-width="0.32" stroke-linejoin="round">Log<tspan font-size="10.5" dy="2.5">10</tspan><tspan dy="-2.5"> FFU</tspan></text>
<line x1="62.00" y1="150.80" x2="307.00" y2="150.80" stroke="#000" stroke-width="1.5" stroke-dasharray="1.75 3.35"/>
<polyline fill="none" stroke="#907f3a" stroke-width="1.7" points="55.02,165.20 103.78,135.60 154.66,144.40 205.54,149.60 256.42,136.10 307.30,142.60"/>
<line x1="55.02" y1="153.20" x2="55.02" y2="177.20" stroke="#907f3a" stroke-width="1.6" />
<line x1="51.42" y1="153.20" x2="58.62" y2="153.20" stroke="#907f3a" stroke-width="1.5" />
<line x1="51.42" y1="177.20" x2="58.62" y2="177.20" stroke="#907f3a" stroke-width="1.5" />
<rect x="51.42" y="161.70" width="7.2" height="7.0" fill="#907f3a"/>
<rect x="100.18" y="132.10" width="7.2" height="7.0" fill="#907f3a"/>
<rect x="151.06" y="140.90" width="7.2" height="7.0" fill="#907f3a"/>
<line x1="205.54" y1="130.10" x2="205.54" y2="169.10" stroke="#907f3a" stroke-width="1.6" />
<line x1="201.94" y1="130.10" x2="209.14" y2="130.10" stroke="#907f3a" stroke-width="1.5" />
<line x1="201.94" y1="169.10" x2="209.14" y2="169.10" stroke="#907f3a" stroke-width="1.5" />
<rect x="201.94" y="146.10" width="7.2" height="7.0" fill="#907f3a"/>
<rect x="252.82" y="132.60" width="7.2" height="7.0" fill="#907f3a"/>
<line x1="307.30" y1="135.10" x2="307.30" y2="150.10" stroke="#907f3a" stroke-width="1.6" />
<line x1="303.70" y1="135.10" x2="310.90" y2="135.10" stroke="#907f3a" stroke-width="1.5" />
<line x1="303.70" y1="150.10" x2="310.90" y2="150.10" stroke="#907f3a" stroke-width="1.5" />
<rect x="303.70" y="139.10" width="7.2" height="7.0" fill="#907f3a"/>
<polyline fill="none" stroke="#0000ff" stroke-width="1.7" points="55.02,150.90 103.78,112.20 154.66,90.00 205.54,62.00 256.42,62.30 307.30,60.30"/>
<circle cx="55.02" cy="150.90" r="3.7" fill="#0000ff"/>
<line x1="103.78" y1="106.60" x2="103.78" y2="117.80" stroke="#0000ff" stroke-width="1.6" />
<line x1="100.18" y1="106.60" x2="107.38" y2="106.60" stroke="#0000ff" stroke-width="1.5" />
<line x1="100.18" y1="117.80" x2="107.38" y2="117.80" stroke="#0000ff" stroke-width="1.5" />
<circle cx="103.78" cy="112.20" r="3.7" fill="#0000ff"/>
<line x1="154.66" y1="80.80" x2="154.66" y2="99.20" stroke="#0000ff" stroke-width="1.6" />
<line x1="151.06" y1="80.80" x2="158.26" y2="80.80" stroke="#0000ff" stroke-width="1.5" />
<line x1="151.06" y1="99.20" x2="158.26" y2="99.20" stroke="#0000ff" stroke-width="1.5" />
<circle cx="154.66" cy="90.00" r="3.7" fill="#0000ff"/>
<line x1="205.54" y1="57.80" x2="205.54" y2="66.20" stroke="#0000ff" stroke-width="1.6" />
<line x1="201.94" y1="57.80" x2="209.14" y2="57.80" stroke="#0000ff" stroke-width="1.5" />
<line x1="201.94" y1="66.20" x2="209.14" y2="66.20" stroke="#0000ff" stroke-width="1.5" />
<circle cx="205.54" cy="62.00" r="3.7" fill="#0000ff"/>
<circle cx="256.42" cy="62.30" r="3.7" fill="#0000ff"/>
<circle cx="307.30" cy="60.30" r="3.7" fill="#0000ff"/>
<line x1="74.00" y1="35.20" x2="92.00" y2="35.20" stroke="#0000ff" stroke-width="1.7" />
<circle cx="83" cy="35.2" r="3.7" fill="#0000ff"/>
<text x="102.30" y="39.90" font-size="14.1" font-weight="normal" text-anchor="start" >hpSertoli</text>
<line x1="74.00" y1="57.80" x2="92.00" y2="57.80" stroke="#907f3a" stroke-width="1.7" />
<rect x="79.3" y="54.3" width="7.2" height="7.0" fill="#907f3a"/>
<text x="102.30" y="62.50" font-size="14.1" font-weight="normal" text-anchor="start" >15P-1</text>
<line x1="397.80" y1="23.25" x2="397.80" y2="194.25" stroke="#000" stroke-width="1.7" />
<line x1="396.95" y1="193.40" x2="653.50" y2="193.40" stroke="#000" stroke-width="1.7" />
<line x1="390.80" y1="193.40" x2="397.80" y2="193.40" stroke="#000" stroke-width="1.7" />
<text x="388.30" y="197.40" font-size="13.1" font-weight="bold" text-anchor="end"  stroke="#000" stroke-width="0.32" stroke-linejoin="round">0</text>
<line x1="390.80" y1="136.95" x2="397.80" y2="136.95" stroke="#000" stroke-width="1.7" />
<text x="388.30" y="140.95" font-size="13.1" font-weight="bold" text-anchor="end"  stroke="#000" stroke-width="0.32" stroke-linejoin="round">50</text>
<line x1="390.80" y1="80.50" x2="397.80" y2="80.50" stroke="#000" stroke-width="1.7" />
<text x="388.30" y="84.50" font-size="13.1" font-weight="bold" text-anchor="end"  stroke="#000" stroke-width="0.32" stroke-linejoin="round">100</text>
<line x1="390.80" y1="24.05" x2="397.80" y2="24.05" stroke="#000" stroke-width="1.7" />
<text x="388.30" y="28.05" font-size="13.1" font-weight="bold" text-anchor="end"  stroke="#000" stroke-width="0.32" stroke-linejoin="round">150</text>
<text transform="translate(358.70,108.50) rotate(-90)" font-size="14.1" font-weight="bold" text-anchor="middle"  stroke="#000" stroke-width="0.32" stroke-linejoin="round">MTT O.D. % uninfected</text>
<line x1="436.70" y1="68.76" x2="436.70" y2="80.50" stroke="#000" stroke-width="1.6" />
<line x1="427.20" y1="68.76" x2="446.20" y2="68.76" stroke="#000" stroke-width="1.6" />
<rect x="418.05" y="81.35" width="37.30" height="112.05" fill="#000" stroke="#000" stroke-width="1.7"/>
<line x1="436.70" y1="193.40" x2="436.70" y2="200.40" stroke="#000" stroke-width="1.7" />
<line x1="495.50" y1="179.17" x2="495.50" y2="184.37" stroke="#000" stroke-width="1.6" />
<line x1="486.00" y1="179.17" x2="505.00" y2="179.17" stroke="#000" stroke-width="1.6" />
<rect x="476.85" y="185.22" width="37.30" height="8.18" fill="#ff0000" stroke="#000" stroke-width="1.7"/>
<line x1="495.50" y1="193.40" x2="495.50" y2="200.40" stroke="#000" stroke-width="1.7" />
<line x1="553.50" y1="66.95" x2="553.50" y2="80.50" stroke="#000" stroke-width="1.6" />
<line x1="544.00" y1="66.95" x2="563.00" y2="66.95" stroke="#000" stroke-width="1.6" />
<rect x="534.85" y="81.35" width="37.30" height="112.05" fill="#000" stroke="#000" stroke-width="1.7"/>
<line x1="553.50" y1="193.40" x2="553.50" y2="200.40" stroke="#000" stroke-width="1.7" />
<line x1="612.60" y1="94.39" x2="612.60" y2="99.13" stroke="#000" stroke-width="1.6" />
<line x1="603.10" y1="94.39" x2="622.10" y2="94.39" stroke="#000" stroke-width="1.6" />
<rect x="593.95" y="99.98" width="37.30" height="93.42" fill="#ff0000" stroke="#000" stroke-width="1.7"/>
<line x1="612.60" y1="193.40" x2="612.60" y2="200.40" stroke="#000" stroke-width="1.7" />
<line x1="434.50" y1="47.80" x2="495.50" y2="47.80" stroke="#000" stroke-width="2.5" />
<line x1="434.50" y1="40.50" x2="434.50" y2="55.10" stroke="#000" stroke-width="2.5" />
<line x1="495.50" y1="40.50" x2="495.50" y2="55.10" stroke="#000" stroke-width="2.5" />
<line x1="551.50" y1="47.60" x2="612.50" y2="47.60" stroke="#000" stroke-width="2.5" />
<line x1="551.50" y1="40.30" x2="551.50" y2="54.90" stroke="#000" stroke-width="2.5" />
<line x1="612.50" y1="40.30" x2="612.50" y2="54.90" stroke="#000" stroke-width="2.5" />
<text x="464.60" y="42.80" font-size="14.0" font-weight="normal" text-anchor="middle" >****</text>
<text x="583.00" y="39.80" font-size="13.5" font-weight="normal" text-anchor="middle" >n.s.</text>
<text transform="translate(441.70,211.40) rotate(-45)" font-size="13.1" font-weight="bold" text-anchor="end" stroke="#000" stroke-width="0.32" stroke-linejoin="round">Uninfected</text>
<text transform="translate(500.50,211.40) rotate(-45)" font-size="13.1" font-weight="bold" text-anchor="end" stroke="#000" stroke-width="0.32" stroke-linejoin="round">Infected</text>
<text transform="translate(558.50,211.40) rotate(-45)" font-size="13.1" font-weight="bold" text-anchor="end" stroke="#000" stroke-width="0.32" stroke-linejoin="round">Uninfected</text>
<text transform="translate(617.60,211.40) rotate(-45)" font-size="13.1" font-weight="bold" text-anchor="end" stroke="#000" stroke-width="0.32" stroke-linejoin="round">Infected</text>
<line x1="420.00" y1="267.20" x2="515.50" y2="267.20" stroke="#000" stroke-width="2.2" />
<text x="467.70" y="283.50" font-size="14.0" font-weight="normal" text-anchor="middle" >Vero</text>
<line x1="537.00" y1="267.20" x2="633.20" y2="267.20" stroke="#000" stroke-width="2.2" />
<text x="585.20" y="283.50" font-size="14.1" font-weight="normal" text-anchor="middle" >hpSertoli</text>
<line x1="54.10" y1="317.08" x2="54.10" y2="487.85" stroke="#000" stroke-width="1.7" />
<line x1="53.25" y1="487.00" x2="309.60" y2="487.00" stroke="#000" stroke-width="1.7" />
<line x1="47.10" y1="487.00" x2="54.10" y2="487.00" stroke="#000" stroke-width="1.7" />
<text x="44.60" y="491.50" font-size="13.1" font-weight="bold" text-anchor="end"  stroke="#000" stroke-width="0.32" stroke-linejoin="round">0</text>
<line x1="47.10" y1="444.72" x2="54.10" y2="444.72" stroke="#000" stroke-width="1.7" />
<text x="44.60" y="449.22" font-size="13.1" font-weight="bold" text-anchor="end"  stroke="#000" stroke-width="0.32" stroke-linejoin="round">2</text>
<line x1="47.10" y1="402.44" x2="54.10" y2="402.44" stroke="#000" stroke-width="1.7" />
<text x="44.60" y="406.94" font-size="13.1" font-weight="bold" text-anchor="end"  stroke="#000" stroke-width="0.32" stroke-linejoin="round">4</text>
<line x1="47.10" y1="360.16" x2="54.10" y2="360.16" stroke="#000" stroke-width="1.7" />
<text x="44.60" y="364.66" font-size="13.1" font-weight="bold" text-anchor="end"  stroke="#000" stroke-width="0.32" stroke-linejoin="round">6</text>
<line x1="47.10" y1="317.88" x2="54.10" y2="317.88" stroke="#000" stroke-width="1.7" />
<text x="44.60" y="322.38" font-size="13.1" font-weight="bold" text-anchor="end"  stroke="#000" stroke-width="0.32" stroke-linejoin="round">8</text>
<text transform="translate(26.80,401.50) rotate(-90)" font-size="14.1" font-weight="bold" text-anchor="middle"  stroke="#000" stroke-width="0.32" stroke-linejoin="round">Log<tspan font-size="10.5" dy="2.5">10</tspan><tspan dy="-2.5"> PFU/mL</tspan></text>
<line x1="126.40" y1="487.00" x2="126.40" y2="494.00" stroke="#000" stroke-width="1.7" />
<text x="126.40" y="508.90" font-size="13.4" font-weight="bold" text-anchor="middle"  stroke="#000" stroke-width="0.32" stroke-linejoin="round">PBS</text>
<line x1="235.40" y1="487.00" x2="235.40" y2="494.00" stroke="#000" stroke-width="1.7" />
<text x="235.40" y="508.90" font-size="13.4" font-weight="bold" text-anchor="middle"  stroke="#000" stroke-width="0.32" stroke-linejoin="round">2 dpi</text>
<line x1="61.30" y1="444.72" x2="304.40" y2="444.72" stroke="#000" stroke-width="1.6" stroke-dasharray="5 3.5"/>
<text x="304.40" y="440.00" font-size="11.7" font-weight="normal" text-anchor="end" >LOD</text>
<line x1="90.50" y1="451.60" x2="162.80" y2="451.60" stroke="#000" stroke-width="1.5" />
<circle cx="99.7" cy="451.5" r="3.3" fill="#000"/>
<circle cx="113.1" cy="451.5" r="3.3" fill="#000"/>
<circle cx="126.5" cy="451.5" r="3.3" fill="#000"/>
<circle cx="140.1" cy="451.5" r="3.3" fill="#000"/>
<circle cx="153.7" cy="451.5" r="3.3" fill="#000"/>
<line x1="126.90" y1="343.60" x2="238.40" y2="343.60" stroke="#000" stroke-width="2.5" />
<line x1="126.90" y1="336.30" x2="126.90" y2="350.90" stroke="#000" stroke-width="2.5" />
<line x1="238.40" y1="336.30" x2="238.40" y2="350.90" stroke="#000" stroke-width="2.5" />
<text x="182.70" y="340.60" font-size="14.0" font-weight="normal" text-anchor="middle" >****</text>
<line x1="199.00" y1="367.60" x2="271.80" y2="367.60" stroke="#000" stroke-width="1.5" />
<line x1="217.80" y1="364.40" x2="253.50" y2="364.40" stroke="#000" stroke-width="1.5" />
<line x1="217.80" y1="370.90" x2="253.50" y2="370.90" stroke="#000" stroke-width="1.5" />
<line x1="235.40" y1="364.40" x2="235.40" y2="370.90" stroke="#000" stroke-width="1.5" />
<circle cx="215.3" cy="362.4" r="3.3" fill="#ff0000"/>
<circle cx="228.6" cy="365.4" r="3.3" fill="#ff0000"/>
<circle cx="242.2" cy="369.1" r="3.3" fill="#ff0000"/>
<circle cx="255.7" cy="362.4" r="3.3" fill="#ff0000"/>
<circle cx="235.4" cy="379.7" r="3.3" fill="#ff0000"/>
<line x1="400.30" y1="314.70" x2="400.30" y2="485.85" stroke="#000" stroke-width="1.7" />
<line x1="399.45" y1="485.00" x2="655.40" y2="485.00" stroke="#000" stroke-width="1.7" />
<line x1="393.30" y1="485.00" x2="400.30" y2="485.00" stroke="#000" stroke-width="1.7" />
<text x="390.80" y="489.40" font-size="13.1" font-weight="bold" text-anchor="end"  stroke="#000" stroke-width="0.32" stroke-linejoin="round">0.00</text>
<line x1="393.30" y1="428.50" x2="400.30" y2="428.50" stroke="#000" stroke-width="1.7" />
<text x="390.80" y="432.90" font-size="13.1" font-weight="bold" text-anchor="end"  stroke="#000" stroke-width="0.32" stroke-linejoin="round">0.05</text>
<line x1="393.30" y1="372.00" x2="400.30" y2="372.00" stroke="#000" stroke-width="1.7" />
<text x="390.80" y="376.40" font-size="13.1" font-weight="bold" text-anchor="end"  stroke="#000" stroke-width="0.32" stroke-linejoin="round">0.10</text>
<line x1="393.30" y1="315.50" x2="400.30" y2="315.50" stroke="#000" stroke-width="1.7" />
<text x="390.80" y="319.90" font-size="13.1" font-weight="bold" text-anchor="end"  stroke="#000" stroke-width="0.32" stroke-linejoin="round">0.15</text>
<text transform="translate(357.80,400.50) rotate(-90)" font-size="14.1" font-weight="bold" text-anchor="middle"  stroke="#000" stroke-width="0.32" stroke-linejoin="round">Weight (g)</text>
<line x1="472.70" y1="485.00" x2="472.70" y2="492.00" stroke="#000" stroke-width="1.7" />
<text x="472.70" y="505.30" font-size="13.4" font-weight="bold" text-anchor="middle"  stroke="#000" stroke-width="0.32" stroke-linejoin="round">PBS</text>
<line x1="581.60" y1="485.00" x2="581.60" y2="492.00" stroke="#000" stroke-width="1.7" />
<text x="581.60" y="505.30" font-size="13.4" font-weight="bold" text-anchor="middle"  stroke="#000" stroke-width="0.32" stroke-linejoin="round">60 dpi</text>
<line x1="470.90" y1="341.90" x2="581.60" y2="341.90" stroke="#000" stroke-width="2.5" />
<line x1="470.90" y1="334.60" x2="470.90" y2="349.20" stroke="#000" stroke-width="2.5" />
<line x1="581.60" y1="334.60" x2="581.60" y2="349.20" stroke="#000" stroke-width="2.5" />
<text x="526.20" y="335.00" font-size="14.0" font-weight="normal" text-anchor="middle" >*</text>
<line x1="436.40" y1="369.10" x2="508.90" y2="369.10" stroke="#000" stroke-width="1.5" />
<circle cx="459" cy="361.7" r="3.3" fill="#000"/>
<circle cx="472.7" cy="365.6" r="3.3" fill="#000"/>
<circle cx="472.7" cy="372.2" r="3.3" fill="#000"/>
<circle cx="459" cy="375.1" r="3.3" fill="#000"/>
<circle cx="486.3" cy="374.6" r="3.3" fill="#000"/>
<line x1="545.40" y1="418.90" x2="618.00" y2="418.90" stroke="#000" stroke-width="1.5" />
<rect x="578.20" y="352.80" width="6.8" height="6.8" fill="#ff0000"/>
<rect x="578.20" y="400.30" width="6.8" height="6.8" fill="#ff0000"/>
<rect x="571.40" y="438.50" width="6.8" height="6.8" fill="#ff0000"/>
<rect x="571.40" y="445.50" width="6.8" height="6.8" fill="#ff0000"/>
<rect x="585.20" y="440.30" width="6.8" height="6.8" fill="#ff0000"/>
<line x1="14.60" y1="530.00" x2="14.60" y2="668.80" stroke="#000" stroke-width="1.4" />
<text transform="translate(11.50,598.50) rotate(-90)" font-size="12.8" font-weight="normal" text-anchor="middle" >PBS</text>
<text transform="translate(27.60,561.50) rotate(-90)" font-size="12.8" font-weight="normal" text-anchor="middle" >Left testes</text>
<text transform="translate(27.60,640.00) rotate(-90)" font-size="12.8" font-weight="normal" text-anchor="middle" >Right testes</text>
<line x1="361.90" y1="531.80" x2="361.90" y2="671.30" stroke="#000" stroke-width="1.4" />
<text transform="translate(356.50,599.30) rotate(-90)" font-size="13.0" font-weight="normal" text-anchor="middle" >ZIKV 60 dpi</text>
<text transform="translate(375.20,566.00) rotate(-90)" font-size="12.8" font-weight="normal" text-anchor="middle" >Left testes</text>
<text transform="translate(375.20,642.80) rotate(-90)" font-size="12.8" font-weight="normal" text-anchor="middle" >Right testes</text>
</g>
</svg>
</body></html>
